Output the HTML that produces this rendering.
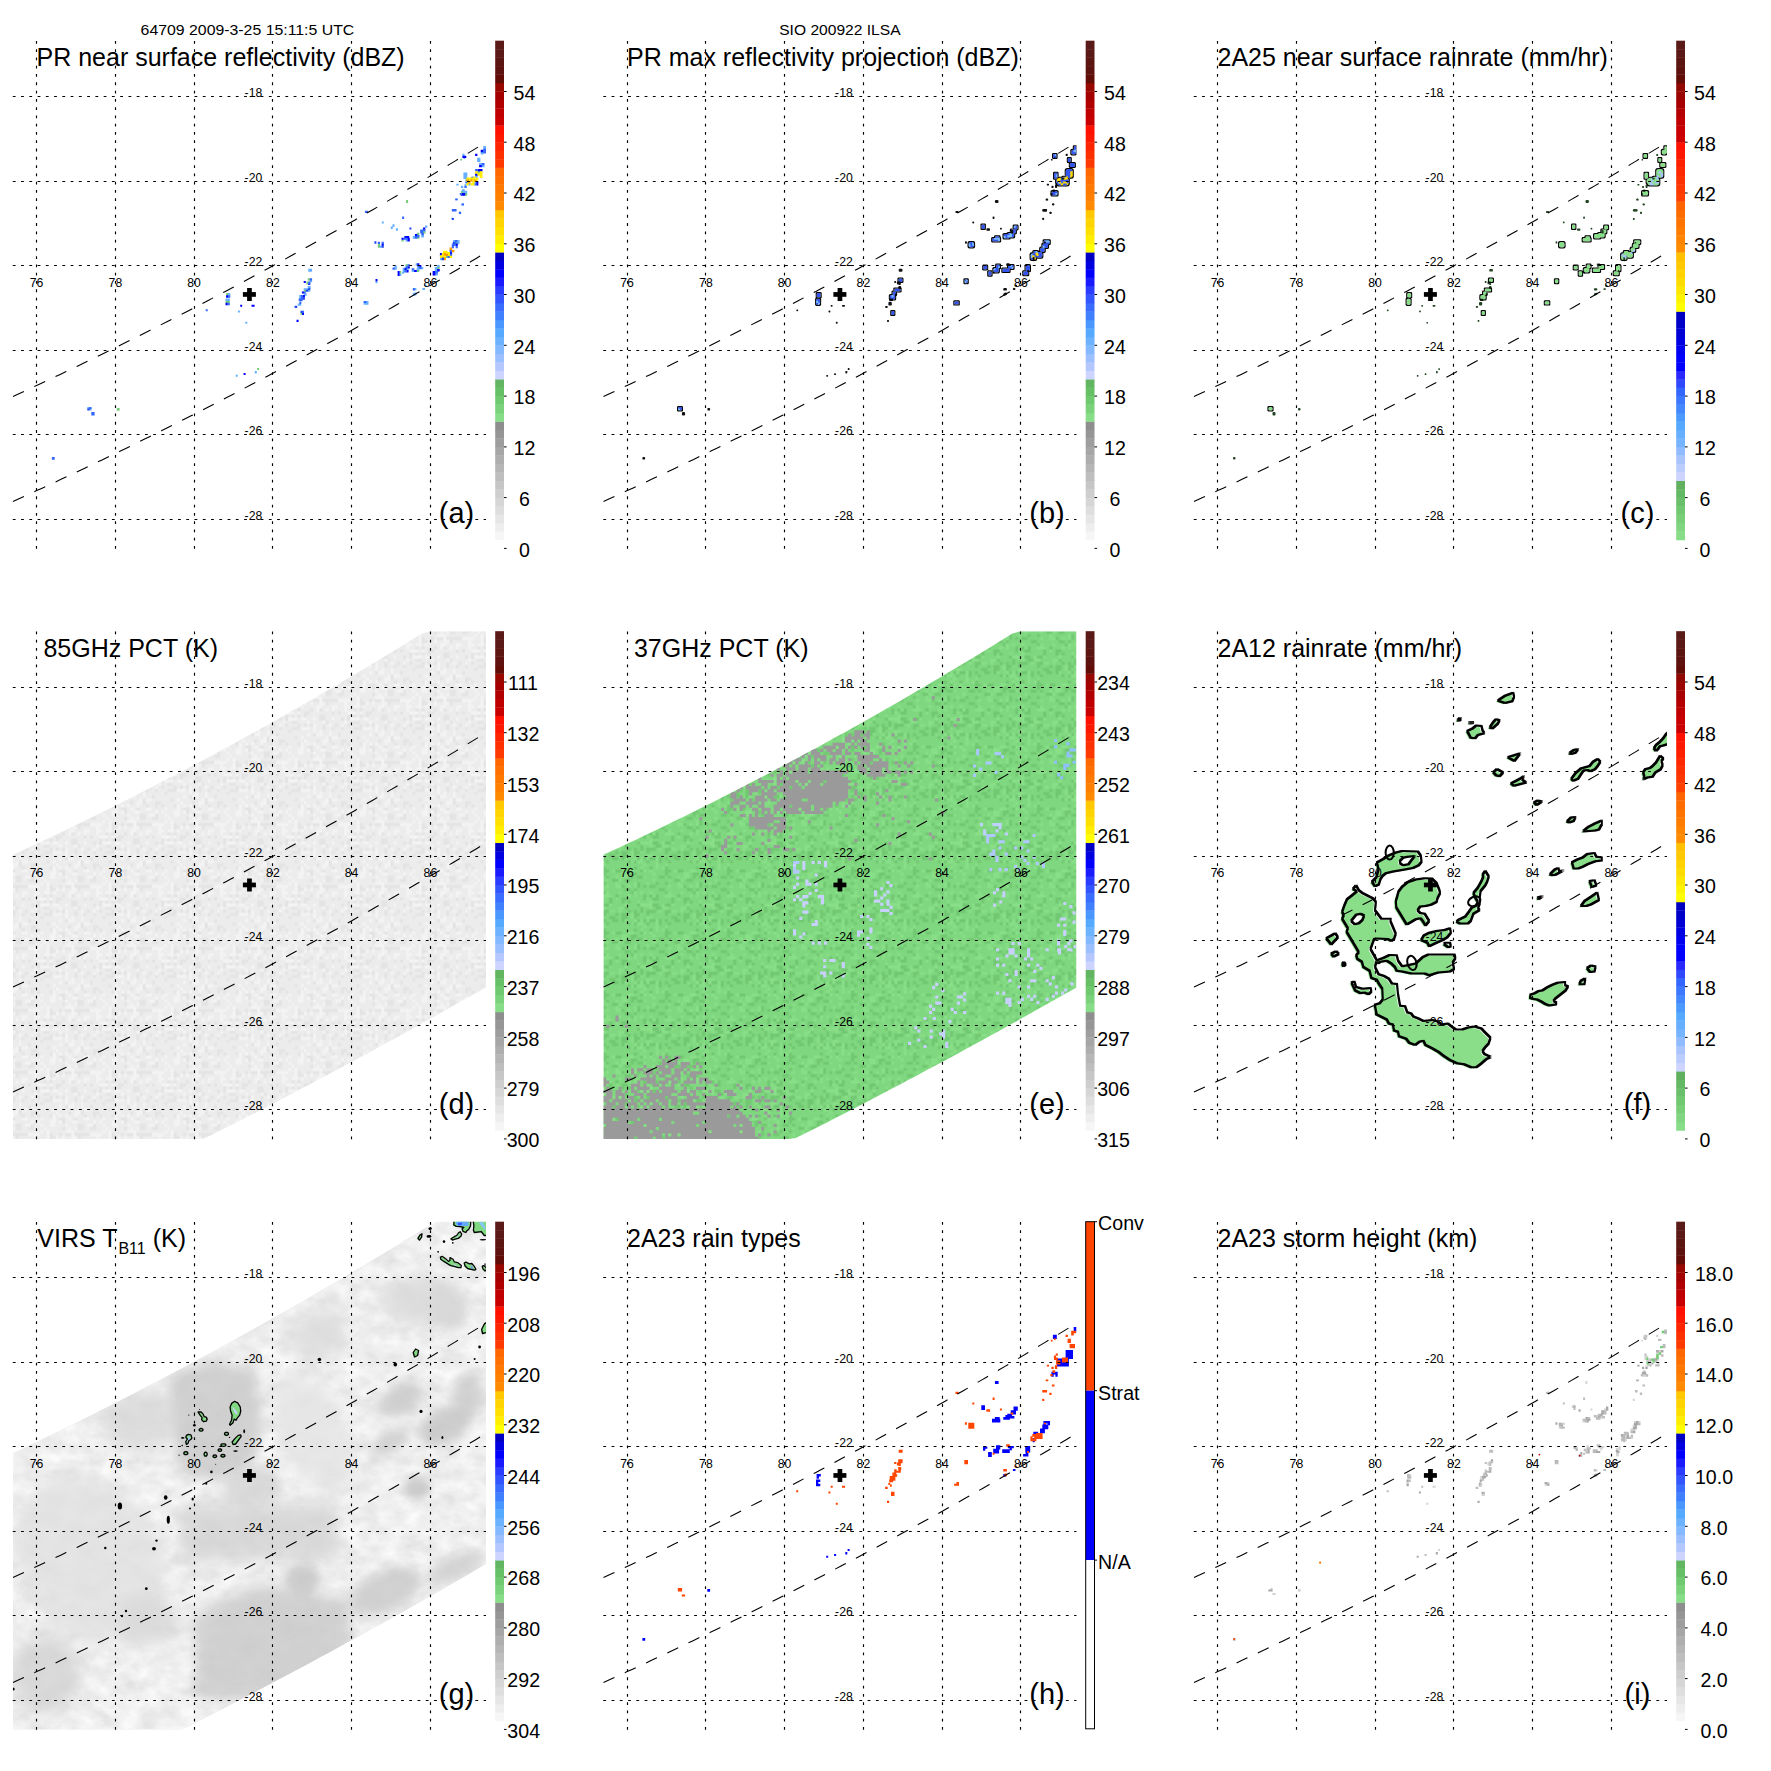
<!DOCTYPE html>
<html><head><meta charset="utf-8"><title>TRMM overpass</title>
<style>html,body{margin:0;padding:0;background:#fff;} svg{display:block;}</style></head>
<body>
<svg width="1771" height="1771" viewBox="0 0 1771 1771" font-family="Liberation Sans, Arial, sans-serif">
<defs><pattern id="ptE" patternUnits="userSpaceOnUse" width="62.0" height="62.0"><rect width="62.0" height="62.0" fill="#7fd87f"/><path d="M18.6,0.0h3.1v3.1h-3.1zM31.0,0.0h3.1v3.1h-3.1zM37.2,0.0h3.1v3.1h-3.1zM46.5,0.0h3.1v3.1h-3.1zM0.0,3.1h3.1v3.1h-3.1zM3.1,3.1h3.1v3.1h-3.1zM9.3,3.1h3.1v3.1h-3.1zM12.4,3.1h3.1v3.1h-3.1zM15.5,3.1h3.1v3.1h-3.1zM18.6,3.1h3.1v3.1h-3.1zM46.5,3.1h3.1v3.1h-3.1zM3.1,6.2h3.1v3.1h-3.1zM6.2,6.2h3.1v3.1h-3.1zM9.3,6.2h3.1v3.1h-3.1zM31.0,6.2h3.1v3.1h-3.1zM34.1,6.2h3.1v3.1h-3.1zM49.6,6.2h3.1v3.1h-3.1zM58.9,6.2h3.1v3.1h-3.1zM0.0,9.3h3.1v3.1h-3.1zM12.4,9.3h3.1v3.1h-3.1zM15.5,9.3h3.1v3.1h-3.1zM18.6,9.3h3.1v3.1h-3.1zM21.7,9.3h3.1v3.1h-3.1zM27.9,9.3h3.1v3.1h-3.1zM37.2,9.3h3.1v3.1h-3.1zM43.4,9.3h3.1v3.1h-3.1zM49.6,9.3h3.1v3.1h-3.1zM55.8,9.3h3.1v3.1h-3.1zM58.9,9.3h3.1v3.1h-3.1zM12.4,12.4h3.1v3.1h-3.1zM24.8,12.4h3.1v3.1h-3.1zM31.0,12.4h3.1v3.1h-3.1zM34.1,12.4h3.1v3.1h-3.1zM43.4,12.4h3.1v3.1h-3.1zM46.5,12.4h3.1v3.1h-3.1zM49.6,12.4h3.1v3.1h-3.1zM55.8,12.4h3.1v3.1h-3.1zM18.6,15.5h3.1v3.1h-3.1zM21.7,15.5h3.1v3.1h-3.1zM31.0,15.5h3.1v3.1h-3.1zM34.1,15.5h3.1v3.1h-3.1zM43.4,15.5h3.1v3.1h-3.1zM58.9,15.5h3.1v3.1h-3.1zM0.0,18.6h3.1v3.1h-3.1zM6.2,18.6h3.1v3.1h-3.1zM12.4,18.6h3.1v3.1h-3.1zM21.7,18.6h3.1v3.1h-3.1zM24.8,18.6h3.1v3.1h-3.1zM31.0,18.6h3.1v3.1h-3.1zM34.1,18.6h3.1v3.1h-3.1zM46.5,18.6h3.1v3.1h-3.1zM52.7,18.6h3.1v3.1h-3.1zM55.8,18.6h3.1v3.1h-3.1zM58.9,18.6h3.1v3.1h-3.1zM3.1,21.7h3.1v3.1h-3.1zM6.2,21.7h3.1v3.1h-3.1zM15.5,21.7h3.1v3.1h-3.1zM37.2,21.7h3.1v3.1h-3.1zM40.3,21.7h3.1v3.1h-3.1zM43.4,21.7h3.1v3.1h-3.1zM55.8,21.7h3.1v3.1h-3.1zM12.4,24.8h3.1v3.1h-3.1zM12.4,27.9h3.1v3.1h-3.1zM43.4,27.9h3.1v3.1h-3.1zM49.6,27.9h3.1v3.1h-3.1zM58.9,27.9h3.1v3.1h-3.1zM12.4,31.0h3.1v3.1h-3.1zM15.5,31.0h3.1v3.1h-3.1zM24.8,31.0h3.1v3.1h-3.1zM27.9,31.0h3.1v3.1h-3.1zM49.6,31.0h3.1v3.1h-3.1zM12.4,34.1h3.1v3.1h-3.1zM31.0,34.1h3.1v3.1h-3.1zM34.1,34.1h3.1v3.1h-3.1zM40.3,34.1h3.1v3.1h-3.1zM43.4,34.1h3.1v3.1h-3.1zM6.2,37.2h3.1v3.1h-3.1zM9.3,37.2h3.1v3.1h-3.1zM15.5,37.2h3.1v3.1h-3.1zM31.0,37.2h3.1v3.1h-3.1zM34.1,37.2h3.1v3.1h-3.1zM40.3,37.2h3.1v3.1h-3.1zM46.5,37.2h3.1v3.1h-3.1zM49.6,37.2h3.1v3.1h-3.1zM52.7,37.2h3.1v3.1h-3.1zM15.5,40.3h3.1v3.1h-3.1zM21.7,40.3h3.1v3.1h-3.1zM24.8,40.3h3.1v3.1h-3.1zM34.1,40.3h3.1v3.1h-3.1zM37.2,40.3h3.1v3.1h-3.1zM3.1,43.4h3.1v3.1h-3.1zM12.4,43.4h3.1v3.1h-3.1zM46.5,43.4h3.1v3.1h-3.1zM0.0,46.5h3.1v3.1h-3.1zM31.0,46.5h3.1v3.1h-3.1zM46.5,46.5h3.1v3.1h-3.1zM52.7,46.5h3.1v3.1h-3.1zM58.9,46.5h3.1v3.1h-3.1zM6.2,49.6h3.1v3.1h-3.1zM9.3,49.6h3.1v3.1h-3.1zM34.1,49.6h3.1v3.1h-3.1zM37.2,49.6h3.1v3.1h-3.1zM43.4,49.6h3.1v3.1h-3.1zM12.4,52.7h3.1v3.1h-3.1zM27.9,52.7h3.1v3.1h-3.1zM40.3,52.7h3.1v3.1h-3.1zM3.1,55.8h3.1v3.1h-3.1zM18.6,55.8h3.1v3.1h-3.1zM24.8,55.8h3.1v3.1h-3.1zM43.4,55.8h3.1v3.1h-3.1zM52.7,55.8h3.1v3.1h-3.1zM58.9,55.8h3.1v3.1h-3.1zM0.0,58.9h3.1v3.1h-3.1zM3.1,58.9h3.1v3.1h-3.1zM18.6,58.9h3.1v3.1h-3.1zM24.8,58.9h3.1v3.1h-3.1zM31.0,58.9h3.1v3.1h-3.1zM34.1,58.9h3.1v3.1h-3.1zM52.7,58.9h3.1v3.1h-3.1zM55.8,58.9h3.1v3.1h-3.1z" fill="#72c872"/><path d="M46.5,0.0h3.1v3.1h-3.1zM58.9,0.0h3.1v3.1h-3.1zM9.3,3.1h3.1v3.1h-3.1zM18.6,3.1h3.1v3.1h-3.1zM34.1,3.1h3.1v3.1h-3.1zM49.6,3.1h3.1v3.1h-3.1zM52.7,3.1h3.1v3.1h-3.1zM55.8,3.1h3.1v3.1h-3.1zM58.9,3.1h3.1v3.1h-3.1zM9.3,6.2h3.1v3.1h-3.1zM12.4,6.2h3.1v3.1h-3.1zM27.9,6.2h3.1v3.1h-3.1zM31.0,6.2h3.1v3.1h-3.1zM58.9,6.2h3.1v3.1h-3.1zM6.2,9.3h3.1v3.1h-3.1zM18.6,9.3h3.1v3.1h-3.1zM21.7,9.3h3.1v3.1h-3.1zM27.9,9.3h3.1v3.1h-3.1zM40.3,12.4h3.1v3.1h-3.1zM49.6,12.4h3.1v3.1h-3.1zM40.3,15.5h3.1v3.1h-3.1zM55.8,15.5h3.1v3.1h-3.1zM58.9,15.5h3.1v3.1h-3.1zM3.1,18.6h3.1v3.1h-3.1zM34.1,18.6h3.1v3.1h-3.1zM43.4,18.6h3.1v3.1h-3.1zM49.6,18.6h3.1v3.1h-3.1zM55.8,18.6h3.1v3.1h-3.1zM3.1,21.7h3.1v3.1h-3.1zM40.3,21.7h3.1v3.1h-3.1zM46.5,21.7h3.1v3.1h-3.1zM49.6,21.7h3.1v3.1h-3.1zM3.1,24.8h3.1v3.1h-3.1zM12.4,24.8h3.1v3.1h-3.1zM52.7,24.8h3.1v3.1h-3.1zM3.1,27.9h3.1v3.1h-3.1zM9.3,27.9h3.1v3.1h-3.1zM49.6,27.9h3.1v3.1h-3.1zM21.7,31.0h3.1v3.1h-3.1zM37.2,31.0h3.1v3.1h-3.1zM40.3,31.0h3.1v3.1h-3.1zM52.7,31.0h3.1v3.1h-3.1zM58.9,31.0h3.1v3.1h-3.1zM0.0,34.1h3.1v3.1h-3.1zM31.0,34.1h3.1v3.1h-3.1zM34.1,34.1h3.1v3.1h-3.1zM24.8,37.2h3.1v3.1h-3.1zM31.0,37.2h3.1v3.1h-3.1zM34.1,37.2h3.1v3.1h-3.1zM52.7,37.2h3.1v3.1h-3.1zM0.0,40.3h3.1v3.1h-3.1zM15.5,40.3h3.1v3.1h-3.1zM27.9,40.3h3.1v3.1h-3.1zM24.8,43.4h3.1v3.1h-3.1zM43.4,43.4h3.1v3.1h-3.1zM55.8,43.4h3.1v3.1h-3.1zM15.5,46.5h3.1v3.1h-3.1zM24.8,46.5h3.1v3.1h-3.1zM27.9,46.5h3.1v3.1h-3.1zM37.2,46.5h3.1v3.1h-3.1zM43.4,46.5h3.1v3.1h-3.1zM15.5,52.7h3.1v3.1h-3.1zM27.9,52.7h3.1v3.1h-3.1zM43.4,52.7h3.1v3.1h-3.1zM49.6,52.7h3.1v3.1h-3.1zM58.9,52.7h3.1v3.1h-3.1zM0.0,55.8h3.1v3.1h-3.1zM12.4,55.8h3.1v3.1h-3.1zM15.5,55.8h3.1v3.1h-3.1zM18.6,55.8h3.1v3.1h-3.1zM37.2,55.8h3.1v3.1h-3.1zM43.4,55.8h3.1v3.1h-3.1zM24.8,58.9h3.1v3.1h-3.1zM55.8,58.9h3.1v3.1h-3.1z" fill="#88df88"/></pattern><pattern id="ptD" patternUnits="userSpaceOnUse" width="62.0" height="62.0"><rect width="62.0" height="62.0" fill="#ececec"/><path d="M9.3,0.0h3.1v3.1h-3.1zM12.4,0.0h3.1v3.1h-3.1zM37.2,0.0h3.1v3.1h-3.1zM43.4,0.0h3.1v3.1h-3.1zM49.6,0.0h3.1v3.1h-3.1zM55.8,0.0h3.1v3.1h-3.1zM9.3,3.1h3.1v3.1h-3.1zM12.4,3.1h3.1v3.1h-3.1zM21.7,3.1h3.1v3.1h-3.1zM31.0,3.1h3.1v3.1h-3.1zM37.2,3.1h3.1v3.1h-3.1zM46.5,3.1h3.1v3.1h-3.1zM52.7,3.1h3.1v3.1h-3.1zM55.8,3.1h3.1v3.1h-3.1zM15.5,6.2h3.1v3.1h-3.1zM43.4,6.2h3.1v3.1h-3.1zM46.5,6.2h3.1v3.1h-3.1zM0.0,9.3h3.1v3.1h-3.1zM12.4,9.3h3.1v3.1h-3.1zM24.8,9.3h3.1v3.1h-3.1zM31.0,9.3h3.1v3.1h-3.1zM37.2,9.3h3.1v3.1h-3.1zM49.6,9.3h3.1v3.1h-3.1zM55.8,9.3h3.1v3.1h-3.1zM12.4,12.4h3.1v3.1h-3.1zM21.7,12.4h3.1v3.1h-3.1zM31.0,12.4h3.1v3.1h-3.1zM43.4,12.4h3.1v3.1h-3.1zM46.5,12.4h3.1v3.1h-3.1zM49.6,12.4h3.1v3.1h-3.1zM3.1,15.5h3.1v3.1h-3.1zM18.6,15.5h3.1v3.1h-3.1zM40.3,15.5h3.1v3.1h-3.1zM3.1,18.6h3.1v3.1h-3.1zM18.6,18.6h3.1v3.1h-3.1zM27.9,18.6h3.1v3.1h-3.1zM18.6,21.7h3.1v3.1h-3.1zM46.5,21.7h3.1v3.1h-3.1zM6.2,24.8h3.1v3.1h-3.1zM18.6,24.8h3.1v3.1h-3.1zM31.0,24.8h3.1v3.1h-3.1zM34.1,24.8h3.1v3.1h-3.1zM55.8,24.8h3.1v3.1h-3.1zM3.1,27.9h3.1v3.1h-3.1zM12.4,27.9h3.1v3.1h-3.1zM21.7,27.9h3.1v3.1h-3.1zM31.0,27.9h3.1v3.1h-3.1zM37.2,27.9h3.1v3.1h-3.1zM49.6,27.9h3.1v3.1h-3.1zM0.0,31.0h3.1v3.1h-3.1zM12.4,31.0h3.1v3.1h-3.1zM58.9,31.0h3.1v3.1h-3.1zM0.0,34.1h3.1v3.1h-3.1zM9.3,34.1h3.1v3.1h-3.1zM37.2,34.1h3.1v3.1h-3.1zM15.5,37.2h3.1v3.1h-3.1zM18.6,37.2h3.1v3.1h-3.1zM31.0,37.2h3.1v3.1h-3.1zM52.7,37.2h3.1v3.1h-3.1zM0.0,40.3h3.1v3.1h-3.1zM6.2,40.3h3.1v3.1h-3.1zM12.4,40.3h3.1v3.1h-3.1zM15.5,40.3h3.1v3.1h-3.1zM18.6,40.3h3.1v3.1h-3.1zM27.9,40.3h3.1v3.1h-3.1zM31.0,40.3h3.1v3.1h-3.1zM43.4,40.3h3.1v3.1h-3.1zM3.1,46.5h3.1v3.1h-3.1zM6.2,46.5h3.1v3.1h-3.1zM9.3,46.5h3.1v3.1h-3.1zM12.4,46.5h3.1v3.1h-3.1zM15.5,46.5h3.1v3.1h-3.1zM18.6,46.5h3.1v3.1h-3.1zM21.7,46.5h3.1v3.1h-3.1zM24.8,46.5h3.1v3.1h-3.1zM46.5,46.5h3.1v3.1h-3.1zM49.6,46.5h3.1v3.1h-3.1zM58.9,46.5h3.1v3.1h-3.1zM12.4,49.6h3.1v3.1h-3.1zM15.5,49.6h3.1v3.1h-3.1zM49.6,49.6h3.1v3.1h-3.1zM52.7,49.6h3.1v3.1h-3.1zM21.7,52.7h3.1v3.1h-3.1zM34.1,52.7h3.1v3.1h-3.1zM43.4,52.7h3.1v3.1h-3.1zM0.0,55.8h3.1v3.1h-3.1zM9.3,55.8h3.1v3.1h-3.1zM43.4,55.8h3.1v3.1h-3.1zM49.6,55.8h3.1v3.1h-3.1zM21.7,58.9h3.1v3.1h-3.1zM27.9,58.9h3.1v3.1h-3.1zM43.4,58.9h3.1v3.1h-3.1zM55.8,58.9h3.1v3.1h-3.1zM58.9,58.9h3.1v3.1h-3.1z" fill="#e4e4e4"/><path d="M3.1,3.1h3.1v3.1h-3.1zM21.7,3.1h3.1v3.1h-3.1zM40.3,3.1h3.1v3.1h-3.1zM43.4,3.1h3.1v3.1h-3.1zM46.5,3.1h3.1v3.1h-3.1zM52.7,3.1h3.1v3.1h-3.1zM55.8,3.1h3.1v3.1h-3.1zM12.4,6.2h3.1v3.1h-3.1zM34.1,6.2h3.1v3.1h-3.1zM58.9,6.2h3.1v3.1h-3.1zM3.1,9.3h3.1v3.1h-3.1zM18.6,9.3h3.1v3.1h-3.1zM31.0,9.3h3.1v3.1h-3.1zM3.1,12.4h3.1v3.1h-3.1zM52.7,12.4h3.1v3.1h-3.1zM55.8,12.4h3.1v3.1h-3.1zM58.9,12.4h3.1v3.1h-3.1zM3.1,15.5h3.1v3.1h-3.1zM9.3,15.5h3.1v3.1h-3.1zM18.6,15.5h3.1v3.1h-3.1zM6.2,18.6h3.1v3.1h-3.1zM9.3,18.6h3.1v3.1h-3.1zM18.6,18.6h3.1v3.1h-3.1zM58.9,18.6h3.1v3.1h-3.1zM15.5,21.7h3.1v3.1h-3.1zM21.7,21.7h3.1v3.1h-3.1zM24.8,21.7h3.1v3.1h-3.1zM52.7,21.7h3.1v3.1h-3.1zM12.4,24.8h3.1v3.1h-3.1zM15.5,24.8h3.1v3.1h-3.1zM55.8,24.8h3.1v3.1h-3.1zM3.1,27.9h3.1v3.1h-3.1zM12.4,27.9h3.1v3.1h-3.1zM52.7,27.9h3.1v3.1h-3.1zM58.9,27.9h3.1v3.1h-3.1zM6.2,31.0h3.1v3.1h-3.1zM21.7,31.0h3.1v3.1h-3.1zM24.8,31.0h3.1v3.1h-3.1zM40.3,31.0h3.1v3.1h-3.1zM52.7,31.0h3.1v3.1h-3.1zM9.3,34.1h3.1v3.1h-3.1zM12.4,34.1h3.1v3.1h-3.1zM31.0,34.1h3.1v3.1h-3.1zM37.2,34.1h3.1v3.1h-3.1zM49.6,34.1h3.1v3.1h-3.1zM52.7,34.1h3.1v3.1h-3.1zM58.9,34.1h3.1v3.1h-3.1zM3.1,37.2h3.1v3.1h-3.1zM24.8,37.2h3.1v3.1h-3.1zM27.9,37.2h3.1v3.1h-3.1zM40.3,37.2h3.1v3.1h-3.1zM49.6,37.2h3.1v3.1h-3.1zM52.7,37.2h3.1v3.1h-3.1zM6.2,40.3h3.1v3.1h-3.1zM12.4,40.3h3.1v3.1h-3.1zM43.4,40.3h3.1v3.1h-3.1zM3.1,43.4h3.1v3.1h-3.1zM6.2,43.4h3.1v3.1h-3.1zM9.3,43.4h3.1v3.1h-3.1zM40.3,43.4h3.1v3.1h-3.1zM46.5,43.4h3.1v3.1h-3.1zM9.3,46.5h3.1v3.1h-3.1zM27.9,46.5h3.1v3.1h-3.1zM31.0,46.5h3.1v3.1h-3.1zM34.1,46.5h3.1v3.1h-3.1zM37.2,46.5h3.1v3.1h-3.1zM46.5,46.5h3.1v3.1h-3.1zM0.0,49.6h3.1v3.1h-3.1zM9.3,49.6h3.1v3.1h-3.1zM12.4,49.6h3.1v3.1h-3.1zM34.1,49.6h3.1v3.1h-3.1zM46.5,49.6h3.1v3.1h-3.1zM55.8,49.6h3.1v3.1h-3.1zM6.2,52.7h3.1v3.1h-3.1zM9.3,52.7h3.1v3.1h-3.1zM21.7,52.7h3.1v3.1h-3.1zM24.8,52.7h3.1v3.1h-3.1zM34.1,52.7h3.1v3.1h-3.1zM37.2,52.7h3.1v3.1h-3.1zM43.4,52.7h3.1v3.1h-3.1zM46.5,52.7h3.1v3.1h-3.1zM52.7,52.7h3.1v3.1h-3.1zM6.2,55.8h3.1v3.1h-3.1zM15.5,55.8h3.1v3.1h-3.1zM21.7,55.8h3.1v3.1h-3.1zM34.1,55.8h3.1v3.1h-3.1zM37.2,58.9h3.1v3.1h-3.1zM40.3,58.9h3.1v3.1h-3.1zM43.4,58.9h3.1v3.1h-3.1zM49.6,58.9h3.1v3.1h-3.1z" fill="#f3f3f3"/></pattern><filter id="bl4" x="-50%" y="-50%" width="200%" height="200%"><feGaussianBlur stdDeviation="4"/></filter><filter id="bl6" x="-50%" y="-50%" width="200%" height="200%"><feGaussianBlur stdDeviation="6"/></filter><filter id="bl8" x="-50%" y="-50%" width="200%" height="200%"><feGaussianBlur stdDeviation="8"/></filter><filter id="vn" x="0" y="0" width="100%" height="100%" filterUnits="userSpaceOnUse"><feTurbulence type="fractalNoise" baseFrequency="0.05 0.07" numOctaves="5" seed="7" result="t"/><feColorMatrix in="t" type="matrix" values="0.3 0 0 0 0.715  0.3 0 0 0 0.715  0.3 0 0 0 0.715  0 0 0 0 1"/></filter><filter id="ol" x="-10%" y="-10%" width="120%" height="120%"><feMorphology in="SourceAlpha" operator="erode" radius="0.55" result="e"/><feMorphology in="SourceAlpha" operator="dilate" radius="0.5" result="d"/><feComposite in="d" in2="e" operator="out" result="ring"/><feFlood flood-color="#000"/><feComposite in2="ring" operator="in"/></filter><filter id="ol2" x="-50%" y="-50%" width="200%" height="200%"><feMorphology in="SourceAlpha" operator="dilate" radius="1.1" result="d"/><feComposite in="d" in2="SourceAlpha" operator="out" result="ring"/><feFlood flood-color="#000"/><feComposite in2="ring" operator="in"/></filter><clipPath id="clipTMI"><polygon points="12.9,264.3 20.9,260.6 28.9,256.9 37.0,253.1 45.0,249.4 53.0,245.6 61.0,241.7 69.0,237.9 77.0,234.0 85.1,230.1 93.1,226.2 101.1,222.2 109.1,218.2 117.1,214.2 125.2,210.2 133.2,206.1 141.2,202.0 149.2,197.9 157.2,193.8 165.3,189.6 173.3,185.4 181.3,181.2 189.3,177.0 197.3,172.7 205.3,168.4 213.4,164.1 221.4,159.8 229.4,155.4 237.4,151.0 245.4,146.6 253.5,142.2 261.5,137.7 269.5,133.2 277.5,128.7 285.5,124.2 293.6,119.6 301.6,115.0 309.6,110.4 317.6,105.7 325.6,101.1 333.6,96.4 341.7,91.6 349.7,86.9 357.7,82.1 365.7,77.3 373.7,72.5 381.8,67.7 389.8,62.8 397.8,57.9 405.8,53.0 413.8,48.0 421.9,43.0 429.9,40.8 437.9,40.8 445.9,40.8 453.9,40.8 461.9,40.8 470.0,40.8 478.0,40.8 486.0,40.8 486.0,396.9 478.0,401.5 470.0,406.0 461.9,410.6 453.9,415.1 445.9,419.6 437.9,424.1 429.9,428.6 421.9,433.0 413.8,437.5 405.8,441.9 397.8,446.3 389.8,450.7 381.8,455.1 373.7,459.5 365.7,463.9 357.7,468.2 349.7,472.5 341.7,476.8 333.6,481.1 325.6,485.4 317.6,489.6 309.6,493.9 301.6,498.1 293.6,502.3 285.5,506.5 277.5,510.7 269.5,514.9 261.5,519.0 253.5,523.2 245.4,527.3 237.4,531.4 229.4,535.5 221.4,539.5 213.4,543.6 205.3,547.6 197.3,548.6 189.3,548.6 181.3,548.6 173.3,548.6 165.3,548.6 157.2,548.6 149.2,548.6 141.2,548.6 133.2,548.6 125.2,548.6 117.1,548.6 109.1,548.6 101.1,548.6 93.1,548.6 85.1,548.6 77.0,548.6 69.0,548.6 61.0,548.6 53.0,548.6 45.0,548.6 37.0,548.6 28.9,548.6 20.9,548.6 12.9,548.6"/></clipPath><clipPath id="clipVIRS"><polygon points="12.9,272.5 20.9,268.7 28.9,264.8 37.0,261.0 45.0,257.1 53.0,253.2 61.0,249.3 69.0,245.3 77.0,241.4 85.1,237.4 93.1,233.4 101.1,229.3 109.1,225.3 117.1,221.2 125.2,217.1 133.2,212.9 141.2,208.8 149.2,204.6 157.2,200.4 165.3,196.2 173.3,192.0 181.3,187.7 189.3,183.4 197.3,179.1 205.3,174.8 213.4,170.4 221.4,166.1 229.4,161.7 237.4,157.2 245.4,152.8 253.5,148.3 261.5,143.8 269.5,139.3 277.5,134.8 285.5,130.2 293.6,125.6 301.6,121.0 309.6,116.4 317.6,111.8 325.6,107.1 333.6,102.4 341.7,97.7 349.7,92.9 357.7,88.2 365.7,83.4 373.7,78.6 381.8,73.8 389.8,68.9 397.8,64.0 405.8,59.1 413.8,54.2 421.9,49.3 429.9,44.3 437.9,40.8 445.9,40.8 453.9,40.8 461.9,40.8 470.0,40.8 478.0,40.8 486.0,40.8 486.0,382.9 478.0,387.6 470.0,392.2 461.9,396.9 453.9,401.5 445.9,406.1 437.9,410.7 429.9,415.3 421.9,419.8 413.8,424.4 405.8,428.9 397.8,433.4 389.8,437.9 381.8,442.4 373.7,446.8 365.7,451.3 357.7,455.7 349.7,460.1 341.7,464.5 333.6,468.9 325.6,473.2 317.6,477.5 309.6,481.9 301.6,486.2 293.6,490.5 285.5,494.8 277.5,499.0 269.5,503.3 261.5,507.5 253.5,511.7 245.4,515.9 237.4,520.1 229.4,524.2 221.4,528.4 213.4,532.5 205.3,536.6 197.3,540.7 189.3,544.8 181.3,548.6 173.3,548.6 165.3,548.6 157.2,548.6 149.2,548.6 141.2,548.6 133.2,548.6 125.2,548.6 117.1,548.6 109.1,548.6 101.1,548.6 93.1,548.6 85.1,548.6 77.0,548.6 69.0,548.6 61.0,548.6 53.0,548.6 45.0,548.6 37.0,548.6 28.9,548.6 20.9,548.6 12.9,548.6"/></clipPath><clipPath id="mapclip"><rect x="12.9" y="40.8" width="473.1" height="507.8"/></clipPath></defs>
<rect width="1771" height="1771" fill="#fff"/>
<text transform="translate(140.6,35.0) scale(1,0.91)" font-size="15.85">64709 2009-3-25 15:11:5 UTC</text><text transform="translate(779.2,35.0) scale(1,0.91)" font-size="15.6">SIO 200922 ILSA</text>
<g transform="translate(0,0)">
<g clip-path="url(#mapclip)">

<path d="M406.1,200.0h2.0v3.1h-2.0zM401.5,239.5h2.3v2.0h-2.3zM417.0,236.1h2.4v2.6h-2.4zM416.8,232.7h2.6v2.6h-2.6zM422.7,231.3h2.8v2.3h-2.8zM455.0,242.0h2.4v2.3h-2.4zM399.3,271.1h2.0v2.6h-2.0zM405.5,264.3h2.3v2.3h-2.3zM416.6,270.0h2.7v2.0h-2.7zM437.1,267.0h2.6v2.4h-2.6zM377.8,243.6h2.2v2.2h-2.2zM377.8,245.5h2.2v2.2h-2.2zM445.6,255.7h2.4v2.2h-2.4zM459.1,211.8h2.0v2.0h-2.0zM477.5,171.2h2.7v2.5h-2.7zM460.9,190.8h2.3v2.6h-2.3zM464.9,193.1h2.3v2.6h-2.3zM483.0,149.7h2.6v2.6h-2.6zM465.4,179.2h2.3v2.3h-2.3zM460.3,158.8h1.8v1.8h-1.8zM307.7,278.3h2.3v2.1h-2.3zM306.4,281.4h2.1v3.0h-2.1zM303.7,289.8h2.4v1.9h-2.4zM300.5,312.8h1.9v2.3h-1.9zM226.1,293.0h2.3v2.6h-2.3zM225.5,300.7h2.3v2.4h-2.3zM227.5,300.7h2.3v2.4h-2.3zM257.1,368.1h2.0v2.0h-2.0zM116.8,407.9h2.8v2.8h-2.8z" fill="#77cc77"/><path d="M392.5,224.3h2.0v2.6h-2.0zM390.8,226.5h2.0v2.6h-2.0zM405.5,239.5h2.3v2.0h-2.3zM406.6,237.8h2.6v2.0h-2.6zM412.8,236.1h2.4v2.6h-2.4zM421.3,235.0h2.6v2.6h-2.6zM420.2,229.3h2.8v2.3h-2.8zM425.0,225.4h2.3v2.3h-2.3zM452.9,240.1h2.4v2.3h-2.4zM457.1,240.1h2.4v2.3h-2.4zM457.1,242.0h2.4v2.3h-2.4zM394.5,265.5h2.3v2.3h-2.3zM394.5,267.5h2.3v2.3h-2.3zM399.3,273.4h2.0v2.6h-2.0zM402.7,267.7h2.2v2.6h-2.2zM406.4,267.7h2.2v2.6h-2.2zM402.7,270.0h2.2v2.6h-2.2zM416.6,268.3h2.7v2.0h-2.7zM411.7,270.0h2.7v2.0h-2.7zM417.3,266.9h2.2v2.3h-2.2zM421.1,266.9h2.2v2.3h-2.2zM435.1,273.1h2.8v2.3h-2.8zM437.1,264.9h2.6v2.4h-2.6zM434.8,267.0h2.6v2.4h-2.6zM434.8,269.1h2.6v2.4h-2.6zM379.7,245.5h2.2v2.2h-2.2zM381.8,221.4h2.0v2.0h-2.0zM395.9,228.2h2.0v2.6h-2.0zM439.9,257.6h2.2v2.6h-2.2zM415.7,263.2h2.0v2.6h-2.0zM455.2,198.8h2.6v1.4h-2.6zM402.1,271.7h2.0v2.0h-2.0zM436.5,270.0h2.0v2.0h-2.0zM462.4,153.7h2.1v2.3h-2.1zM483.2,146.1h2.8v2.7h-2.8zM475.1,175.5h2.7v2.5h-2.7zM474.2,181.4h2.2v2.2h-2.2zM468.4,183.3h2.2v2.2h-2.2zM462.9,190.8h2.3v2.6h-2.3zM464.9,190.8h2.3v2.6h-2.3zM480.7,152.0h2.6v2.6h-2.6zM477.1,157.8h3.3v2.3h-3.3zM477.1,159.8h3.3v2.3h-3.3zM479.1,162.9h2.8v2.3h-2.8zM481.7,164.9h2.8v2.3h-2.8zM463.4,172.5h2.1v2.3h-2.1zM465.2,172.5h2.1v2.3h-2.1zM463.4,174.6h2.1v2.3h-2.1zM465.2,174.6h2.1v2.3h-2.1zM463.4,176.6h2.1v2.3h-2.1zM465.2,176.6h2.1v2.3h-2.1zM471.5,176.6h2.2v2.6h-2.2zM456.3,183.7h2.3v1.8h-2.3zM460.9,185.8h2.3v2.3h-2.3zM464.4,184.2h2.3v2.1h-2.3zM461.9,189.3h2.8v2.8h-2.8zM461.9,203.5h1.8v1.8h-1.8zM463.4,157.3h1.8v1.8h-1.8zM308.2,268.8h2.1v3.0h-2.1zM310.0,268.8h2.1v3.0h-2.1zM309.8,280.1h2.3v2.1h-2.3zM307.7,286.0h3.0v3.0h-3.0zM303.7,288.2h2.4v1.9h-2.4zM305.8,288.2h2.4v1.9h-2.4zM307.9,289.8h2.4v1.9h-2.4zM303.7,293.2h2.1v2.1h-2.1zM304.6,293.2h2.1v2.6h-2.1zM299.2,295.0h2.1v2.6h-2.1zM299.2,297.2h2.1v2.6h-2.1zM297.8,303.6h1.9v2.1h-1.9zM299.4,303.6h1.9v2.1h-1.9zM228.0,293.0h2.3v2.6h-2.3zM225.5,298.6h2.3v2.4h-2.3zM227.5,298.6h2.3v2.4h-2.3zM235.7,374.8h2.0v2.0h-2.0zM254.8,370.9h2.0v2.6h-2.0zM237.9,310.5h2.0v2.0h-2.0zM245.3,321.8h2.0v2.0h-2.0zM375.5,281.0h2.0v2.3h-2.0zM365.9,301.0h2.6v2.0h-2.6zM363.6,302.7h2.6v2.0h-2.6zM365.9,302.7h2.6v2.0h-2.6zM414.4,288.0h2.0v2.6h-2.0zM413.9,292.6h2.6v2.6h-2.6zM424.0,284.7h2.6v1.4h-2.6zM412.8,293.1h2.6v2.6h-2.6zM422.4,288.0h2.6v2.0h-2.6zM87.3,406.9h2.3v2.0h-2.3zM89.3,408.6h2.3v2.0h-2.3z" fill="#66b0ff"/><path d="M401.5,237.8h2.3v2.0h-2.3zM407.5,237.8h2.3v2.0h-2.3zM407.5,239.5h2.3v2.0h-2.3zM404.4,236.1h2.6v2.0h-2.6zM406.6,236.1h2.6v2.0h-2.6zM414.9,233.9h2.4v2.6h-2.4zM423.0,227.4h2.3v2.3h-2.3zM455.6,243.5h2.2v2.6h-2.2zM452.9,242.0h2.4v2.3h-2.4zM397.6,271.1h2.0v2.6h-2.0zM397.6,273.4h2.0v2.6h-2.0zM404.5,267.7h2.2v2.6h-2.2zM406.4,270.0h2.2v2.6h-2.2zM407.5,266.3h2.3v2.3h-2.3zM414.1,270.0h2.7v2.0h-2.7zM419.2,264.9h2.2v2.3h-2.2zM432.6,271.1h2.8v2.3h-2.8zM432.6,273.1h2.8v2.3h-2.8zM437.1,269.1h2.6v2.4h-2.6zM381.6,243.6h2.2v2.2h-2.2zM439.9,253.1h2.2v2.6h-2.2zM449.7,251.9h2.4v2.2h-2.4zM417.3,263.2h2.0v2.6h-2.0zM462.4,155.8h2.1v2.3h-2.1zM464.2,155.8h2.1v2.3h-2.1zM477.5,169.0h2.7v2.5h-2.7zM479.8,169.0h2.7v2.5h-2.7zM475.1,173.3h2.7v2.5h-2.7zM476.2,181.4h2.2v2.2h-2.2zM476.2,183.3h2.2v2.2h-2.2zM460.9,193.1h2.3v2.6h-2.3zM462.9,193.1h2.3v2.6h-2.3zM471.0,177.6h2.8v1.8h-2.8zM480.7,149.7h2.6v2.6h-2.6zM475.1,153.7h2.3v2.3h-2.3zM479.1,164.9h2.8v2.3h-2.8zM467.5,179.2h2.3v2.3h-2.3zM303.7,281.0h2.1v2.1h-2.1zM308.2,283.2h2.1v1.7h-2.1zM301.9,291.4h2.1v2.1h-2.1zM302.8,295.0h2.1v2.6h-2.1zM302.1,312.8h1.9v2.3h-1.9zM296.5,319.8h2.1v2.1h-2.1zM226.1,295.2h2.3v2.6h-2.3zM225.5,302.8h2.3v2.4h-2.3zM243.6,373.1h2.0v2.0h-2.0zM240.2,304.8h2.0v2.0h-2.0zM251.5,304.8h3.1v2.0h-3.1zM375.5,279.0h2.0v2.3h-2.0z" fill="#0000ff"/><path d="M403.5,237.8h2.3v2.0h-2.3zM404.4,237.8h2.6v2.0h-2.6zM414.9,236.1h2.4v2.6h-2.4zM421.3,232.7h2.6v2.6h-2.6zM416.8,235.0h2.6v2.6h-2.6zM422.7,229.3h2.8v2.3h-2.8zM420.2,231.3h2.8v2.3h-2.8zM449.5,249.7h2.6v2.6h-2.6zM451.8,243.5h2.2v2.6h-2.2zM453.7,243.5h2.2v2.6h-2.2zM451.8,245.7h2.2v2.6h-2.2zM455.6,245.7h2.2v2.6h-2.2zM455.0,240.1h2.4v2.3h-2.4zM392.5,267.5h2.3v2.3h-2.3zM404.5,270.0h2.2v2.6h-2.2zM407.5,264.3h2.3v2.3h-2.3zM405.5,266.3h2.3v2.3h-2.3zM411.7,268.3h2.7v2.0h-2.7zM417.3,264.9h2.2v2.3h-2.2zM419.2,266.9h2.2v2.3h-2.2zM435.1,271.1h2.8v2.3h-2.8zM377.8,241.8h2.2v2.2h-2.2zM381.6,241.8h2.2v2.2h-2.2zM402.1,216.4h2.0v2.6h-2.0zM449.7,253.8h2.4v2.2h-2.4zM447.6,255.7h2.4v2.2h-2.4zM451.8,209.0h2.6v2.6h-2.6zM454.0,209.0h2.6v2.6h-2.6zM461.4,203.4h2.6v2.0h-2.6zM420.2,229.9h2.6v2.0h-2.6zM453.5,241.8h2.0v1.4h-2.0zM483.2,148.5h2.8v2.7h-2.8zM483.2,150.9h2.8v2.7h-2.8zM475.1,169.0h2.7v2.5h-2.7zM466.4,181.4h2.2v2.2h-2.2zM474.2,183.3h2.2v2.2h-2.2zM481.7,162.9h2.8v2.3h-2.8zM465.4,181.2h2.3v2.3h-2.3zM464.4,186.0h2.3v2.1h-2.3zM459.8,192.9h2.3v2.3h-2.3zM455.3,198.5h2.3v1.8h-2.3zM452.2,209.1h2.3v2.3h-2.3zM454.2,209.1h2.3v2.3h-2.3zM458.8,211.7h2.3v2.3h-2.3zM451.7,217.8h1.8v1.4h-1.8zM309.8,278.3h2.3v2.1h-2.3zM308.2,281.4h2.1v3.0h-2.1zM303.7,291.4h2.1v2.1h-2.1zM301.0,295.0h2.1v2.6h-2.1zM301.0,297.2h2.1v2.6h-2.1zM298.7,298.6h2.1v2.6h-2.1zM300.5,298.6h2.1v2.6h-2.1zM299.4,301.8h1.9v2.1h-1.9zM302.1,310.8h1.9v2.3h-1.9zM228.0,295.2h2.3v2.6h-2.3zM227.5,302.8h2.3v2.4h-2.3zM205.7,309.3h2.0v2.0h-2.0zM363.6,301.0h2.6v2.0h-2.6zM412.8,288.0h2.0v2.6h-2.0zM89.3,406.9h2.3v2.0h-2.3zM91.3,411.9h3.3v2.0h-3.3zM91.3,413.6h3.3v2.0h-3.3zM51.9,456.9h2.8v2.8h-2.8zM364.9,210.8h3.3v2.3h-3.3z" fill="#3366ff"/><path d="M442.2,257.0h2.0v2.3h-2.0zM442.8,250.8h2.6v2.3h-2.6zM445.0,250.8h2.6v2.3h-2.6zM442.8,252.8h2.6v2.3h-2.6zM445.0,252.8h2.6v2.3h-2.6zM441.8,253.1h2.2v2.6h-2.2zM439.9,255.3h2.2v2.6h-2.2zM441.8,255.3h2.2v2.6h-2.2zM443.7,255.3h2.2v2.6h-2.2zM445.6,251.9h2.4v2.2h-2.4zM447.6,251.9h2.4v2.2h-2.4zM447.6,253.8h2.4v2.2h-2.4zM449.7,255.7h2.4v2.2h-2.4zM475.1,171.2h2.7v2.5h-2.7zM479.8,171.2h2.7v2.5h-2.7zM477.5,173.3h2.7v2.5h-2.7zM479.8,173.3h2.7v2.5h-2.7zM479.8,175.5h2.7v2.5h-2.7zM466.4,177.6h2.2v2.2h-2.2zM468.4,177.6h2.2v2.2h-2.2zM470.3,177.6h2.2v2.2h-2.2zM472.3,177.6h2.2v2.2h-2.2zM476.2,177.6h2.2v2.2h-2.2zM468.4,179.5h2.2v2.2h-2.2zM472.3,179.5h2.2v2.2h-2.2zM472.3,181.4h2.2v2.2h-2.2zM466.4,183.3h2.2v2.2h-2.2zM470.3,183.3h2.2v2.2h-2.2zM472.3,183.3h2.2v2.2h-2.2zM473.4,176.6h2.2v2.6h-2.2zM473.4,178.9h2.2v2.6h-2.2zM475.3,178.9h2.2v2.6h-2.2zM467.5,181.2h2.3v2.3h-2.3z" fill="#ffee00"/><path d="M449.5,247.4h2.6v2.6h-2.6zM451.8,249.7h2.6v2.6h-2.6zM443.7,253.1h2.2v2.6h-2.2zM443.7,257.6h2.2v2.6h-2.2zM445.6,253.8h2.4v2.2h-2.4zM466.4,179.5h2.2v2.2h-2.2zM470.3,179.5h2.2v2.2h-2.2zM474.2,179.5h2.2v2.2h-2.2zM468.4,181.4h2.2v2.2h-2.2z" fill="#ff9900"/><path d="M381.6,245.5h2.2v2.2h-2.2zM374.4,241.2h2.0v2.6h-2.0zM409.4,227.6h2.0v2.0h-2.0zM441.8,257.6h2.2v2.6h-2.2zM451.8,218.0h2.0v2.0h-2.0zM307.9,288.2h2.4v1.9h-2.4zM305.8,289.8h2.4v1.9h-2.4zM302.8,297.2h2.1v2.6h-2.1zM294.6,305.8h2.6v2.1h-2.6zM300.5,310.8h1.9v2.3h-1.9zM87.3,408.6h2.3v2.0h-2.3z" fill="#2244ee"/>
</g>
<line x1="36.50" y1="40.95" x2="36.50" y2="549.0" stroke="#000" stroke-width="1.15" stroke-dasharray="2.8 5.48" fill="none"/>
<line x1="115.50" y1="40.95" x2="115.50" y2="549.0" stroke="#000" stroke-width="1.15" stroke-dasharray="2.8 5.48" fill="none"/>
<line x1="194.50" y1="40.95" x2="194.50" y2="549.0" stroke="#000" stroke-width="1.15" stroke-dasharray="2.8 5.48" fill="none"/>
<line x1="272.50" y1="40.95" x2="272.50" y2="549.0" stroke="#000" stroke-width="1.15" stroke-dasharray="2.8 5.48" fill="none"/>
<line x1="351.50" y1="40.95" x2="351.50" y2="549.0" stroke="#000" stroke-width="1.15" stroke-dasharray="2.8 5.48" fill="none"/>
<line x1="430.50" y1="40.95" x2="430.50" y2="549.0" stroke="#000" stroke-width="1.15" stroke-dasharray="2.8 5.48" fill="none"/>
<line x1="12.8" y1="96.50" x2="486.0" y2="96.50" stroke="#000" stroke-width="1.15" stroke-dasharray="2.8 5.46" fill="none"/>
<line x1="12.8" y1="181.50" x2="486.0" y2="181.50" stroke="#000" stroke-width="1.15" stroke-dasharray="2.8 5.46" fill="none"/>
<line x1="12.8" y1="265.50" x2="486.0" y2="265.50" stroke="#000" stroke-width="1.15" stroke-dasharray="2.8 5.46" fill="none"/>
<line x1="12.8" y1="350.50" x2="486.0" y2="350.50" stroke="#000" stroke-width="1.15" stroke-dasharray="2.8 5.46" fill="none"/>
<line x1="12.8" y1="434.50" x2="486.0" y2="434.50" stroke="#000" stroke-width="1.15" stroke-dasharray="2.8 5.46" fill="none"/>
<line x1="12.8" y1="519.50" x2="486.0" y2="519.50" stroke="#000" stroke-width="1.15" stroke-dasharray="2.8 5.46" fill="none"/>
<polyline points="13.0,396.4 18.9,393.7 24.8,391.0 30.7,388.2 36.6,385.5 42.5,382.7 48.4,379.9 54.3,377.2 60.2,374.4 66.1,371.5 72.0,368.7 77.9,365.9 83.8,363.1 89.7,360.2 95.6,357.3 101.5,354.5 107.4,351.6 113.3,348.7 119.2,345.7 125.1,342.8 131.0,339.9 136.9,336.9 142.8,334.0 148.7,331.0 154.6,328.0 160.5,325.0 166.4,322.0 172.3,319.0 178.2,316.0 184.1,313.0 190.0,309.9 195.9,306.8 201.8,303.8 207.7,300.7 213.6,297.6 219.5,294.5 225.4,291.4 231.3,288.2 237.2,285.1 243.1,282.0 248.9,278.8 254.8,275.6 260.7,272.4 266.6,269.2 272.5,266.0 278.4,262.8 284.3,259.6 290.2,256.3 296.1,253.1 302.0,249.8 307.9,246.5 313.8,243.2 319.7,239.9 325.6,236.6 331.5,233.3 337.4,230.0 343.3,226.6 349.2,223.3 355.1,219.9 361.0,216.5 366.9,213.1 372.8,209.7 378.7,206.3 384.6,202.9 390.5,199.4 396.4,196.0 402.3,192.5 408.2,189.1 414.1,185.6 420.0,182.1 425.9,178.6 431.8,175.1 437.7,171.5 443.6,168.0 449.5,164.4 455.4,160.9 461.3,157.3 467.2,153.7 473.1,150.1 479.0,146.5" stroke="#000" stroke-width="1.1" fill="none" stroke-dasharray="12 11.45"/>
<polyline points="13.0,501.5 18.9,498.8 24.9,496.1 30.8,493.3 36.7,490.6 42.7,487.9 48.6,485.1 54.6,482.4 60.5,479.6 66.4,476.8 72.4,474.0 78.3,471.2 84.2,468.4 90.2,465.6 96.1,462.7 102.1,459.9 108.0,457.0 113.9,454.1 119.9,451.3 125.8,448.4 131.7,445.5 137.7,442.5 143.6,439.6 149.5,436.7 155.5,433.7 161.4,430.8 167.4,427.8 173.3,424.8 179.2,421.8 185.2,418.8 191.1,415.8 197.0,412.8 203.0,409.8 208.9,406.7 214.8,403.7 220.8,400.6 226.7,397.5 232.7,394.4 238.6,391.3 244.5,388.2 250.5,385.1 256.4,382.0 262.3,378.8 268.3,375.7 274.2,372.5 280.2,369.3 286.1,366.2 292.0,363.0 298.0,359.8 303.9,356.5 309.8,353.3 315.8,350.1 321.7,346.8 327.6,343.6 333.6,340.3 339.5,337.0 345.5,333.7 351.4,330.4 357.3,327.1 363.3,323.8 369.2,320.4 375.1,317.1 381.1,313.7 387.0,310.3 392.9,307.0 398.9,303.6 404.8,300.2 410.8,296.8 416.7,293.3 422.6,289.9 428.6,286.4 434.5,283.0 440.4,279.5 446.4,276.0 452.3,272.5 458.3,269.0 464.2,265.5 470.1,262.0 476.1,258.5 482.0,254.9" stroke="#000" stroke-width="1.1" fill="none" stroke-dasharray="12 11.45"/>
<text x="36.6" y="286.7" font-size="12.2" text-anchor="middle">76</text>
<text x="115.4" y="286.7" font-size="12.2" text-anchor="middle">78</text>
<text x="194.1" y="286.7" font-size="12.2" text-anchor="middle">80</text>
<text x="272.9" y="286.7" font-size="12.2" text-anchor="middle">82</text>
<text x="351.6" y="286.7" font-size="12.2" text-anchor="middle">84</text>
<text x="430.4" y="286.7" font-size="12.2" text-anchor="middle">86</text>
<text x="253.4" y="97.1" font-size="12.2" text-anchor="middle">-18</text>
<text x="253.4" y="181.6" font-size="12.2" text-anchor="middle">-20</text>
<text x="253.4" y="266.1" font-size="12.2" text-anchor="middle">-22</text>
<text x="253.4" y="350.6" font-size="12.2" text-anchor="middle">-24</text>
<text x="253.4" y="435.1" font-size="12.2" text-anchor="middle">-26</text>
<text x="253.4" y="519.6" font-size="12.2" text-anchor="middle">-28</text>
<rect x="242.9" y="292.1" width="13" height="4.7" fill="#000"/><rect x="247.1" y="288.0" width="4.7" height="13" fill="#000"/>

<text x="36.5" y="66.0" font-size="25">PR near surface reflectivity (dBZ)</text>
<text x="456.5" y="523.0" font-size="29" text-anchor="middle">(a)</text>
<rect x="495.2" y="531.48" width="8.8" height="8.76" fill="#f6f6f6"/>
<rect x="495.2" y="523.01" width="8.8" height="8.76" fill="#eeeeee"/>
<rect x="495.2" y="514.55" width="8.8" height="8.76" fill="#e6e6e6"/>
<rect x="495.2" y="506.09" width="8.8" height="8.76" fill="#dedede"/>
<rect x="495.2" y="497.63" width="8.8" height="8.76" fill="#d6d6d6"/>
<rect x="495.2" y="489.17" width="8.8" height="8.76" fill="#cecece"/>
<rect x="495.2" y="480.70" width="8.8" height="8.76" fill="#c6c6c6"/>
<rect x="495.2" y="472.24" width="8.8" height="8.76" fill="#bebebe"/>
<rect x="495.2" y="463.78" width="8.8" height="8.76" fill="#b6b6b6"/>
<rect x="495.2" y="455.32" width="8.8" height="8.76" fill="#aeaeae"/>
<rect x="495.2" y="446.86" width="8.8" height="8.76" fill="#a6a6a6"/>
<rect x="495.2" y="438.39" width="8.8" height="8.76" fill="#9e9e9e"/>
<rect x="495.2" y="429.93" width="8.8" height="8.76" fill="#969696"/>
<rect x="495.2" y="421.47" width="8.8" height="8.76" fill="#8e8e8e"/>
<rect x="495.2" y="413.01" width="8.8" height="8.76" fill="#88dd88"/>
<rect x="495.2" y="404.55" width="8.8" height="8.76" fill="#7ad27a"/>
<rect x="495.2" y="396.08" width="8.8" height="8.76" fill="#6fca6f"/>
<rect x="495.2" y="387.62" width="8.8" height="8.76" fill="#66c066"/>
<rect x="495.2" y="379.16" width="8.8" height="8.76" fill="#62b662"/>
<rect x="495.2" y="370.70" width="8.8" height="8.76" fill="#ccd4ff"/>
<rect x="495.2" y="362.24" width="8.8" height="8.76" fill="#b4c8ff"/>
<rect x="495.2" y="353.77" width="8.8" height="8.76" fill="#9cc0ff"/>
<rect x="495.2" y="345.31" width="8.8" height="8.76" fill="#84b8ff"/>
<rect x="495.2" y="336.85" width="8.8" height="8.76" fill="#6cb2ff"/>
<rect x="495.2" y="328.39" width="8.8" height="8.76" fill="#55aaff"/>
<rect x="495.2" y="319.93" width="8.8" height="8.76" fill="#4a98ff"/>
<rect x="495.2" y="311.46" width="8.8" height="8.76" fill="#4080ff"/>
<rect x="495.2" y="303.00" width="8.8" height="8.76" fill="#3a6cff"/>
<rect x="495.2" y="294.54" width="8.8" height="8.76" fill="#3355ff"/>
<rect x="495.2" y="286.08" width="8.8" height="8.76" fill="#2a3cff"/>
<rect x="495.2" y="277.62" width="8.8" height="8.76" fill="#1a1aff"/>
<rect x="495.2" y="269.15" width="8.8" height="8.76" fill="#0000ff"/>
<rect x="495.2" y="260.69" width="8.8" height="8.76" fill="#0000e0"/>
<rect x="495.2" y="252.23" width="8.8" height="8.76" fill="#0000c4"/>
<rect x="495.2" y="243.77" width="8.8" height="8.76" fill="#ffff00"/>
<rect x="495.2" y="235.31" width="8.8" height="8.76" fill="#ffee00"/>
<rect x="495.2" y="226.84" width="8.8" height="8.76" fill="#ffe000"/>
<rect x="495.2" y="218.38" width="8.8" height="8.76" fill="#ffd400"/>
<rect x="495.2" y="209.92" width="8.8" height="8.76" fill="#ffc800"/>
<rect x="495.2" y="201.46" width="8.8" height="8.76" fill="#ff8a00"/>
<rect x="495.2" y="193.00" width="8.8" height="8.76" fill="#ff8000"/>
<rect x="495.2" y="184.53" width="8.8" height="8.76" fill="#ff7800"/>
<rect x="495.2" y="176.07" width="8.8" height="8.76" fill="#ff7000"/>
<rect x="495.2" y="167.61" width="8.8" height="8.76" fill="#ff6800"/>
<rect x="495.2" y="159.15" width="8.8" height="8.76" fill="#ff3a00"/>
<rect x="495.2" y="150.69" width="8.8" height="8.76" fill="#ff3000"/>
<rect x="495.2" y="142.22" width="8.8" height="8.76" fill="#ff2400"/>
<rect x="495.2" y="133.76" width="8.8" height="8.76" fill="#ff1800"/>
<rect x="495.2" y="125.30" width="8.8" height="8.76" fill="#ff1000"/>
<rect x="495.2" y="116.84" width="8.8" height="8.76" fill="#c80000"/>
<rect x="495.2" y="108.38" width="8.8" height="8.76" fill="#c00000"/>
<rect x="495.2" y="99.91" width="8.8" height="8.76" fill="#b00000"/>
<rect x="495.2" y="91.45" width="8.8" height="8.76" fill="#a40000"/>
<rect x="495.2" y="82.99" width="8.8" height="8.76" fill="#980800"/>
<rect x="495.2" y="74.53" width="8.8" height="8.76" fill="#620c08"/>
<rect x="495.2" y="66.07" width="8.8" height="8.76" fill="#5e1210"/>
<rect x="495.2" y="57.60" width="8.8" height="8.76" fill="#5c1612"/>
<rect x="495.2" y="49.14" width="8.8" height="8.76" fill="#5a1816"/>
<rect x="495.2" y="40.68" width="8.8" height="8.76" fill="#5a1a18"/>
<line x1="504.0" y1="91.5" x2="506.6" y2="91.5" stroke="#000" stroke-width="1"/>
<text x="524.5" y="99.8" font-size="19.6" text-anchor="middle">54</text>
<line x1="504.0" y1="142.2" x2="506.6" y2="142.2" stroke="#000" stroke-width="1"/>
<text x="524.5" y="150.5" font-size="19.6" text-anchor="middle">48</text>
<line x1="504.0" y1="193.0" x2="506.6" y2="193.0" stroke="#000" stroke-width="1"/>
<text x="524.5" y="201.3" font-size="19.6" text-anchor="middle">42</text>
<line x1="504.0" y1="243.8" x2="506.6" y2="243.8" stroke="#000" stroke-width="1"/>
<text x="524.5" y="252.1" font-size="19.6" text-anchor="middle">36</text>
<line x1="504.0" y1="294.5" x2="506.6" y2="294.5" stroke="#000" stroke-width="1"/>
<text x="524.5" y="302.8" font-size="19.6" text-anchor="middle">30</text>
<line x1="504.0" y1="345.3" x2="506.6" y2="345.3" stroke="#000" stroke-width="1"/>
<text x="524.5" y="353.6" font-size="19.6" text-anchor="middle">24</text>
<line x1="504.0" y1="396.1" x2="506.6" y2="396.1" stroke="#000" stroke-width="1"/>
<text x="524.5" y="404.4" font-size="19.6" text-anchor="middle">18</text>
<line x1="504.0" y1="446.9" x2="506.6" y2="446.9" stroke="#000" stroke-width="1"/>
<text x="524.5" y="455.2" font-size="19.6" text-anchor="middle">12</text>
<line x1="504.0" y1="497.6" x2="506.6" y2="497.6" stroke="#000" stroke-width="1"/>
<text x="524.5" y="505.9" font-size="19.6" text-anchor="middle">6</text>
<line x1="504.0" y1="548.4" x2="506.6" y2="548.4" stroke="#000" stroke-width="1"/>
<text x="524.5" y="556.7" font-size="19.6" text-anchor="middle">0</text>
</g><g transform="translate(590.5,0)">
<g clip-path="url(#mapclip)">

<g fill="#3355ee"><rect x="391.0" y="224.4" width="3.4" height="4.5" rx="1.2"/><rect x="401.7" y="238.0" width="7.9" height="3.4" rx="1.2"/><rect x="404.5" y="236.3" width="4.5" height="3.4" rx="1.2"/><rect x="413.0" y="234.0" width="6.2" height="4.5" rx="1.6"/><rect x="416.9" y="232.9" width="6.8" height="4.5" rx="1.6"/><rect x="420.3" y="229.5" width="5.1" height="4.0" rx="1.4"/><rect x="423.1" y="225.5" width="4.0" height="4.0" rx="1.4"/><rect x="442.9" y="250.9" width="4.5" height="4.0" rx="1.4"/><rect x="449.7" y="247.6" width="4.5" height="4.5" rx="1.6"/><rect x="451.9" y="243.6" width="5.6" height="4.5" rx="1.6"/><rect x="453.1" y="240.2" width="6.2" height="4.0" rx="1.4"/><rect x="392.7" y="265.6" width="4.0" height="4.0" rx="1.4"/><rect x="397.7" y="271.3" width="3.4" height="4.5" rx="1.2"/><rect x="402.8" y="267.9" width="5.6" height="4.5" rx="1.6"/><rect x="405.6" y="264.5" width="4.0" height="4.0" rx="1.4"/><rect x="411.8" y="268.5" width="7.3" height="3.4" rx="1.2"/><rect x="417.5" y="265.1" width="5.6" height="4.0" rx="1.4"/><rect x="432.7" y="271.3" width="5.1" height="4.0" rx="1.4"/><rect x="435.0" y="265.1" width="4.5" height="6.2" rx="1.6"/><rect x="378.0" y="241.9" width="5.6" height="5.6" rx="2.0"/><rect x="440.1" y="253.2" width="5.6" height="6.8" rx="2.0"/><rect x="445.7" y="252.1" width="6.2" height="5.6" rx="2.0"/><rect x="462.5" y="153.9" width="3.6" height="4.1" rx="1.2"/><rect x="483.4" y="146.3" width="2.5" height="7.1" rx="0.9"/><rect x="475.2" y="169.1" width="7.1" height="8.6" rx="2.5"/><rect x="466.6" y="177.8" width="11.7" height="7.6" rx="2.7"/><rect x="461.0" y="191.0" width="6.1" height="4.6" rx="1.6"/><rect x="480.8" y="149.8" width="4.6" height="4.6" rx="1.6"/><rect x="477.3" y="158.0" width="3.0" height="4.1" rx="1.1"/><rect x="479.3" y="163.0" width="5.1" height="4.1" rx="1.4"/><rect x="463.5" y="172.7" width="3.6" height="6.1" rx="1.2"/><rect x="471.7" y="176.8" width="5.6" height="4.6" rx="1.6"/><rect x="465.6" y="179.3" width="4.1" height="4.1" rx="1.4"/><rect x="307.9" y="278.4" width="4.1" height="3.6" rx="1.3"/><rect x="303.8" y="288.4" width="6.3" height="3.2" rx="1.1"/><rect x="302.0" y="291.5" width="3.6" height="3.6" rx="1.3"/><rect x="299.3" y="295.1" width="5.4" height="4.5" rx="1.6"/><rect x="300.7" y="310.9" width="3.2" height="4.1" rx="1.1"/><rect x="226.2" y="293.1" width="4.0" height="4.5" rx="1.4"/><rect x="225.6" y="298.8" width="4.0" height="6.2" rx="1.4"/><rect x="373.9" y="279.2" width="3.4" height="4.0" rx="1.2"/><rect x="363.8" y="301.2" width="4.5" height="3.4" rx="1.2"/><rect x="87.5" y="407.0" width="4.0" height="3.5" rx="1.2"/></g><path d="M403.5,237.8h2.3v2.0h-2.3zM405.5,237.8h2.3v2.0h-2.3zM407.5,237.8h2.3v2.0h-2.3zM407.5,239.5h2.3v2.0h-2.3zM412.8,236.1h2.4v2.6h-2.4zM419.0,232.7h2.6v2.6h-2.6zM416.8,235.0h2.6v2.6h-2.6zM419.0,235.0h2.6v2.6h-2.6zM423.0,225.4h2.3v2.3h-2.3zM445.0,250.8h2.6v2.3h-2.6zM451.8,245.7h2.2v2.6h-2.2zM455.0,240.1h2.4v2.3h-2.4zM457.1,240.1h2.4v2.3h-2.4zM402.7,267.7h2.2v2.6h-2.2zM407.5,266.3h2.3v2.3h-2.3zM419.2,264.9h2.2v2.3h-2.2zM421.1,266.9h2.2v2.3h-2.2zM381.6,241.8h2.2v2.2h-2.2zM377.8,243.6h2.2v2.2h-2.2zM381.6,243.6h2.2v2.2h-2.2zM377.8,245.5h2.2v2.2h-2.2zM439.9,253.1h2.2v2.6h-2.2zM439.9,255.3h2.2v2.6h-2.2zM464.2,153.7h2.1v2.3h-2.1zM464.9,193.1h2.3v2.6h-2.3zM483.0,149.7h2.6v2.6h-2.6zM465.2,174.6h2.1v2.3h-2.1zM467.5,181.2h2.3v2.3h-2.3zM301.0,295.0h2.1v2.6h-2.1zM225.5,300.7h2.3v2.4h-2.3zM227.5,302.8h2.3v2.4h-2.3zM375.5,279.0h2.0v2.3h-2.0zM373.8,281.0h2.0v2.3h-2.0zM87.3,408.6h2.3v2.0h-2.3z" fill="#77b8ff"/><path d="M445.0,252.8h2.6v2.3h-2.6zM441.8,255.3h2.2v2.6h-2.2zM443.7,257.6h2.2v2.6h-2.2zM445.6,253.8h2.4v2.2h-2.4zM479.8,171.2h2.7v2.5h-2.7zM479.8,173.3h2.7v2.5h-2.7zM479.8,175.5h2.7v2.5h-2.7zM466.4,177.6h2.2v2.2h-2.2zM468.4,177.6h2.2v2.2h-2.2zM472.3,177.6h2.2v2.2h-2.2zM474.2,177.6h2.2v2.2h-2.2zM466.4,179.5h2.2v2.2h-2.2zM468.4,181.4h2.2v2.2h-2.2zM472.3,181.4h2.2v2.2h-2.2zM474.2,181.4h2.2v2.2h-2.2zM470.3,183.3h2.2v2.2h-2.2zM476.2,183.3h2.2v2.2h-2.2zM475.3,176.6h2.2v2.6h-2.2zM467.5,179.2h2.3v2.3h-2.3z" fill="#ffdd00"/><g fill="#111"><rect x="404.4" y="200.0" width="3.6" height="3.0" rx="1.1"/><rect x="442.2" y="257.1" width="1.9" height="4.2" rx="0.7"/><rect x="374.5" y="241.2" width="1.9" height="2.5" rx="0.7"/><rect x="381.8" y="221.5" width="1.9" height="1.9" rx="0.7"/><rect x="402.1" y="216.4" width="1.9" height="2.5" rx="0.7"/><rect x="395.9" y="228.3" width="3.6" height="2.5" rx="0.9"/><rect x="409.5" y="227.7" width="1.9" height="1.9" rx="0.7"/><rect x="415.7" y="263.3" width="3.6" height="2.5" rx="0.9"/><rect x="451.8" y="209.1" width="4.7" height="2.5" rx="0.9"/><rect x="459.2" y="211.9" width="1.9" height="1.9" rx="0.7"/><rect x="451.8" y="218.1" width="1.9" height="1.9" rx="0.7"/><rect x="461.4" y="203.4" width="2.5" height="1.9" rx="0.7"/><rect x="455.2" y="198.9" width="2.5" height="1.6" rx="0.6"/><rect x="420.2" y="230.0" width="2.5" height="3.6" rx="0.9"/><rect x="402.1" y="271.7" width="1.9" height="1.9" rx="0.7"/><rect x="436.6" y="270.0" width="1.9" height="1.9" rx="0.7"/><rect x="453.5" y="241.8" width="1.9" height="1.6" rx="0.6"/><rect x="471.1" y="177.7" width="2.7" height="1.7" rx="0.6"/><rect x="475.1" y="153.8" width="2.2" height="2.2" rx="0.8"/><rect x="456.3" y="183.8" width="2.2" height="1.7" rx="0.6"/><rect x="460.9" y="185.8" width="2.2" height="2.2" rx="0.8"/><rect x="464.5" y="184.3" width="2.2" height="3.8" rx="0.8"/><rect x="461.9" y="189.4" width="2.7" height="2.7" rx="1.0"/><rect x="459.9" y="192.9" width="2.2" height="2.2" rx="0.8"/><rect x="455.3" y="198.5" width="2.2" height="1.7" rx="0.6"/><rect x="461.9" y="203.6" width="1.7" height="1.7" rx="0.6"/><rect x="452.3" y="209.2" width="4.3" height="2.2" rx="0.8"/><rect x="458.9" y="211.7" width="2.2" height="2.2" rx="0.8"/><rect x="451.8" y="217.8" width="1.7" height="1.6" rx="0.6"/><rect x="460.4" y="158.9" width="1.7" height="1.7" rx="0.6"/><rect x="463.4" y="157.4" width="1.7" height="1.7" rx="0.6"/><rect x="308.2" y="268.8" width="3.8" height="2.9" rx="1.0"/><rect x="306.4" y="281.5" width="3.8" height="2.9" rx="1.0"/><rect x="303.7" y="281.0" width="2.0" height="2.0" rx="0.7"/><rect x="308.2" y="283.3" width="2.0" height="1.6" rx="0.6"/><rect x="307.8" y="286.0" width="2.9" height="2.9" rx="1.0"/><rect x="304.6" y="293.2" width="2.0" height="2.5" rx="0.7"/><rect x="298.8" y="298.6" width="3.8" height="2.5" rx="0.9"/><rect x="297.9" y="301.8" width="3.4" height="3.8" rx="1.2"/><rect x="294.7" y="305.9" width="2.5" height="2.0" rx="0.7"/><rect x="296.5" y="319.9" width="2.0" height="2.0" rx="0.7"/><rect x="235.7" y="374.9" width="1.9" height="1.9" rx="0.7"/><rect x="243.6" y="373.2" width="1.9" height="1.9" rx="0.7"/><rect x="254.9" y="370.9" width="1.9" height="2.5" rx="0.7"/><rect x="257.2" y="368.1" width="1.9" height="1.9" rx="0.7"/><rect x="205.8" y="309.4" width="1.9" height="1.9" rx="0.7"/><rect x="240.2" y="304.9" width="1.9" height="1.9" rx="0.7"/><rect x="238.0" y="310.5" width="1.9" height="1.9" rx="0.7"/><rect x="251.5" y="304.9" width="3.0" height="1.9" rx="0.7"/><rect x="245.3" y="321.8" width="1.9" height="1.9" rx="0.7"/><rect x="412.8" y="288.1" width="3.6" height="2.5" rx="0.9"/><rect x="413.9" y="292.6" width="2.5" height="2.5" rx="0.9"/><rect x="424.1" y="284.7" width="2.5" height="1.6" rx="0.6"/><rect x="412.8" y="293.2" width="2.5" height="2.5" rx="0.9"/><rect x="422.4" y="288.1" width="2.5" height="1.9" rx="0.7"/><rect x="91.4" y="411.9" width="3.2" height="3.7" rx="1.1"/><rect x="116.9" y="407.9" width="2.7" height="2.7" rx="0.9"/><rect x="51.9" y="456.9" width="2.7" height="2.7" rx="0.9"/><rect x="364.9" y="210.9" width="3.2" height="2.2" rx="0.8"/></g><g filter="url(#ol2)" fill="#000"><rect x="391.0" y="224.4" width="3.4" height="4.5" rx="1.2"/><rect x="401.7" y="238.0" width="7.9" height="3.4" rx="1.2"/><rect x="404.5" y="236.3" width="4.5" height="3.4" rx="1.2"/><rect x="413.0" y="234.0" width="6.2" height="4.5" rx="1.6"/><rect x="416.9" y="232.9" width="6.8" height="4.5" rx="1.6"/><rect x="420.3" y="229.5" width="5.1" height="4.0" rx="1.4"/><rect x="423.1" y="225.5" width="4.0" height="4.0" rx="1.4"/><rect x="442.9" y="250.9" width="4.5" height="4.0" rx="1.4"/><rect x="449.7" y="247.6" width="4.5" height="4.5" rx="1.6"/><rect x="451.9" y="243.6" width="5.6" height="4.5" rx="1.6"/><rect x="453.1" y="240.2" width="6.2" height="4.0" rx="1.4"/><rect x="392.7" y="265.6" width="4.0" height="4.0" rx="1.4"/><rect x="397.7" y="271.3" width="3.4" height="4.5" rx="1.2"/><rect x="402.8" y="267.9" width="5.6" height="4.5" rx="1.6"/><rect x="405.6" y="264.5" width="4.0" height="4.0" rx="1.4"/><rect x="411.8" y="268.5" width="7.3" height="3.4" rx="1.2"/><rect x="417.5" y="265.1" width="5.6" height="4.0" rx="1.4"/><rect x="432.7" y="271.3" width="5.1" height="4.0" rx="1.4"/><rect x="435.0" y="265.1" width="4.5" height="6.2" rx="1.6"/><rect x="378.0" y="241.9" width="5.6" height="5.6" rx="2.0"/><rect x="440.1" y="253.2" width="5.6" height="6.8" rx="2.0"/><rect x="445.7" y="252.1" width="6.2" height="5.6" rx="2.0"/><rect x="462.5" y="153.9" width="3.6" height="4.1" rx="1.2"/><rect x="483.4" y="146.3" width="2.5" height="7.1" rx="0.9"/><rect x="475.2" y="169.1" width="7.1" height="8.6" rx="2.5"/><rect x="466.6" y="177.8" width="11.7" height="7.6" rx="2.7"/><rect x="461.0" y="191.0" width="6.1" height="4.6" rx="1.6"/><rect x="480.8" y="149.8" width="4.6" height="4.6" rx="1.6"/><rect x="477.3" y="158.0" width="3.0" height="4.1" rx="1.1"/><rect x="479.3" y="163.0" width="5.1" height="4.1" rx="1.4"/><rect x="463.5" y="172.7" width="3.6" height="6.1" rx="1.2"/><rect x="471.7" y="176.8" width="5.6" height="4.6" rx="1.6"/><rect x="465.6" y="179.3" width="4.1" height="4.1" rx="1.4"/><rect x="307.9" y="278.4" width="4.1" height="3.6" rx="1.3"/><rect x="303.8" y="288.4" width="6.3" height="3.2" rx="1.1"/><rect x="302.0" y="291.5" width="3.6" height="3.6" rx="1.3"/><rect x="299.3" y="295.1" width="5.4" height="4.5" rx="1.6"/><rect x="300.7" y="310.9" width="3.2" height="4.1" rx="1.1"/><rect x="226.2" y="293.1" width="4.0" height="4.5" rx="1.4"/><rect x="225.6" y="298.8" width="4.0" height="6.2" rx="1.4"/><rect x="373.9" y="279.2" width="3.4" height="4.0" rx="1.2"/><rect x="363.8" y="301.2" width="4.5" height="3.4" rx="1.2"/><rect x="87.5" y="407.0" width="4.0" height="3.5" rx="1.2"/></g>
</g>
<line x1="37.00" y1="40.95" x2="37.00" y2="549.0" stroke="#000" stroke-width="1.15" stroke-dasharray="2.8 5.48" fill="none"/>
<line x1="115.00" y1="40.95" x2="115.00" y2="549.0" stroke="#000" stroke-width="1.15" stroke-dasharray="2.8 5.48" fill="none"/>
<line x1="194.00" y1="40.95" x2="194.00" y2="549.0" stroke="#000" stroke-width="1.15" stroke-dasharray="2.8 5.48" fill="none"/>
<line x1="273.00" y1="40.95" x2="273.00" y2="549.0" stroke="#000" stroke-width="1.15" stroke-dasharray="2.8 5.48" fill="none"/>
<line x1="352.00" y1="40.95" x2="352.00" y2="549.0" stroke="#000" stroke-width="1.15" stroke-dasharray="2.8 5.48" fill="none"/>
<line x1="430.00" y1="40.95" x2="430.00" y2="549.0" stroke="#000" stroke-width="1.15" stroke-dasharray="2.8 5.48" fill="none"/>
<line x1="12.8" y1="96.50" x2="486.0" y2="96.50" stroke="#000" stroke-width="1.15" stroke-dasharray="2.8 5.46" fill="none"/>
<line x1="12.8" y1="181.50" x2="486.0" y2="181.50" stroke="#000" stroke-width="1.15" stroke-dasharray="2.8 5.46" fill="none"/>
<line x1="12.8" y1="265.50" x2="486.0" y2="265.50" stroke="#000" stroke-width="1.15" stroke-dasharray="2.8 5.46" fill="none"/>
<line x1="12.8" y1="350.50" x2="486.0" y2="350.50" stroke="#000" stroke-width="1.15" stroke-dasharray="2.8 5.46" fill="none"/>
<line x1="12.8" y1="434.50" x2="486.0" y2="434.50" stroke="#000" stroke-width="1.15" stroke-dasharray="2.8 5.46" fill="none"/>
<line x1="12.8" y1="519.50" x2="486.0" y2="519.50" stroke="#000" stroke-width="1.15" stroke-dasharray="2.8 5.46" fill="none"/>
<polyline points="13.0,396.4 18.9,393.7 24.8,391.0 30.7,388.2 36.6,385.5 42.5,382.7 48.4,379.9 54.3,377.2 60.2,374.4 66.1,371.5 72.0,368.7 77.9,365.9 83.8,363.1 89.7,360.2 95.6,357.3 101.5,354.5 107.4,351.6 113.3,348.7 119.2,345.7 125.1,342.8 131.0,339.9 136.9,336.9 142.8,334.0 148.7,331.0 154.6,328.0 160.5,325.0 166.4,322.0 172.3,319.0 178.2,316.0 184.1,313.0 190.0,309.9 195.9,306.8 201.8,303.8 207.7,300.7 213.6,297.6 219.5,294.5 225.4,291.4 231.3,288.2 237.2,285.1 243.1,282.0 248.9,278.8 254.8,275.6 260.7,272.4 266.6,269.2 272.5,266.0 278.4,262.8 284.3,259.6 290.2,256.3 296.1,253.1 302.0,249.8 307.9,246.5 313.8,243.2 319.7,239.9 325.6,236.6 331.5,233.3 337.4,230.0 343.3,226.6 349.2,223.3 355.1,219.9 361.0,216.5 366.9,213.1 372.8,209.7 378.7,206.3 384.6,202.9 390.5,199.4 396.4,196.0 402.3,192.5 408.2,189.1 414.1,185.6 420.0,182.1 425.9,178.6 431.8,175.1 437.7,171.5 443.6,168.0 449.5,164.4 455.4,160.9 461.3,157.3 467.2,153.7 473.1,150.1 479.0,146.5" stroke="#000" stroke-width="1.1" fill="none" stroke-dasharray="12 11.45"/>
<polyline points="13.0,501.5 18.9,498.8 24.9,496.1 30.8,493.3 36.7,490.6 42.7,487.9 48.6,485.1 54.6,482.4 60.5,479.6 66.4,476.8 72.4,474.0 78.3,471.2 84.2,468.4 90.2,465.6 96.1,462.7 102.1,459.9 108.0,457.0 113.9,454.1 119.9,451.3 125.8,448.4 131.7,445.5 137.7,442.5 143.6,439.6 149.5,436.7 155.5,433.7 161.4,430.8 167.4,427.8 173.3,424.8 179.2,421.8 185.2,418.8 191.1,415.8 197.0,412.8 203.0,409.8 208.9,406.7 214.8,403.7 220.8,400.6 226.7,397.5 232.7,394.4 238.6,391.3 244.5,388.2 250.5,385.1 256.4,382.0 262.3,378.8 268.3,375.7 274.2,372.5 280.2,369.3 286.1,366.2 292.0,363.0 298.0,359.8 303.9,356.5 309.8,353.3 315.8,350.1 321.7,346.8 327.6,343.6 333.6,340.3 339.5,337.0 345.5,333.7 351.4,330.4 357.3,327.1 363.3,323.8 369.2,320.4 375.1,317.1 381.1,313.7 387.0,310.3 392.9,307.0 398.9,303.6 404.8,300.2 410.8,296.8 416.7,293.3 422.6,289.9 428.6,286.4 434.5,283.0 440.4,279.5 446.4,276.0 452.3,272.5 458.3,269.0 464.2,265.5 470.1,262.0 476.1,258.5 482.0,254.9" stroke="#000" stroke-width="1.1" fill="none" stroke-dasharray="12 11.45"/>
<text x="36.6" y="286.7" font-size="12.2" text-anchor="middle">76</text>
<text x="115.4" y="286.7" font-size="12.2" text-anchor="middle">78</text>
<text x="194.1" y="286.7" font-size="12.2" text-anchor="middle">80</text>
<text x="272.9" y="286.7" font-size="12.2" text-anchor="middle">82</text>
<text x="351.6" y="286.7" font-size="12.2" text-anchor="middle">84</text>
<text x="430.4" y="286.7" font-size="12.2" text-anchor="middle">86</text>
<text x="253.4" y="97.1" font-size="12.2" text-anchor="middle">-18</text>
<text x="253.4" y="181.6" font-size="12.2" text-anchor="middle">-20</text>
<text x="253.4" y="266.1" font-size="12.2" text-anchor="middle">-22</text>
<text x="253.4" y="350.6" font-size="12.2" text-anchor="middle">-24</text>
<text x="253.4" y="435.1" font-size="12.2" text-anchor="middle">-26</text>
<text x="253.4" y="519.6" font-size="12.2" text-anchor="middle">-28</text>
<rect x="242.9" y="292.1" width="13" height="4.7" fill="#000"/><rect x="247.1" y="288.0" width="4.7" height="13" fill="#000"/>

<text x="36.5" y="66.0" font-size="25">PR max reflectivity projection (dBZ)</text>
<text x="456.5" y="523.0" font-size="29" text-anchor="middle">(b)</text>
<rect x="495.2" y="531.48" width="8.8" height="8.76" fill="#f6f6f6"/>
<rect x="495.2" y="523.01" width="8.8" height="8.76" fill="#eeeeee"/>
<rect x="495.2" y="514.55" width="8.8" height="8.76" fill="#e6e6e6"/>
<rect x="495.2" y="506.09" width="8.8" height="8.76" fill="#dedede"/>
<rect x="495.2" y="497.63" width="8.8" height="8.76" fill="#d6d6d6"/>
<rect x="495.2" y="489.17" width="8.8" height="8.76" fill="#cecece"/>
<rect x="495.2" y="480.70" width="8.8" height="8.76" fill="#c6c6c6"/>
<rect x="495.2" y="472.24" width="8.8" height="8.76" fill="#bebebe"/>
<rect x="495.2" y="463.78" width="8.8" height="8.76" fill="#b6b6b6"/>
<rect x="495.2" y="455.32" width="8.8" height="8.76" fill="#aeaeae"/>
<rect x="495.2" y="446.86" width="8.8" height="8.76" fill="#a6a6a6"/>
<rect x="495.2" y="438.39" width="8.8" height="8.76" fill="#9e9e9e"/>
<rect x="495.2" y="429.93" width="8.8" height="8.76" fill="#969696"/>
<rect x="495.2" y="421.47" width="8.8" height="8.76" fill="#8e8e8e"/>
<rect x="495.2" y="413.01" width="8.8" height="8.76" fill="#88dd88"/>
<rect x="495.2" y="404.55" width="8.8" height="8.76" fill="#7ad27a"/>
<rect x="495.2" y="396.08" width="8.8" height="8.76" fill="#6fca6f"/>
<rect x="495.2" y="387.62" width="8.8" height="8.76" fill="#66c066"/>
<rect x="495.2" y="379.16" width="8.8" height="8.76" fill="#62b662"/>
<rect x="495.2" y="370.70" width="8.8" height="8.76" fill="#ccd4ff"/>
<rect x="495.2" y="362.24" width="8.8" height="8.76" fill="#b4c8ff"/>
<rect x="495.2" y="353.77" width="8.8" height="8.76" fill="#9cc0ff"/>
<rect x="495.2" y="345.31" width="8.8" height="8.76" fill="#84b8ff"/>
<rect x="495.2" y="336.85" width="8.8" height="8.76" fill="#6cb2ff"/>
<rect x="495.2" y="328.39" width="8.8" height="8.76" fill="#55aaff"/>
<rect x="495.2" y="319.93" width="8.8" height="8.76" fill="#4a98ff"/>
<rect x="495.2" y="311.46" width="8.8" height="8.76" fill="#4080ff"/>
<rect x="495.2" y="303.00" width="8.8" height="8.76" fill="#3a6cff"/>
<rect x="495.2" y="294.54" width="8.8" height="8.76" fill="#3355ff"/>
<rect x="495.2" y="286.08" width="8.8" height="8.76" fill="#2a3cff"/>
<rect x="495.2" y="277.62" width="8.8" height="8.76" fill="#1a1aff"/>
<rect x="495.2" y="269.15" width="8.8" height="8.76" fill="#0000ff"/>
<rect x="495.2" y="260.69" width="8.8" height="8.76" fill="#0000e0"/>
<rect x="495.2" y="252.23" width="8.8" height="8.76" fill="#0000c4"/>
<rect x="495.2" y="243.77" width="8.8" height="8.76" fill="#ffff00"/>
<rect x="495.2" y="235.31" width="8.8" height="8.76" fill="#ffee00"/>
<rect x="495.2" y="226.84" width="8.8" height="8.76" fill="#ffe000"/>
<rect x="495.2" y="218.38" width="8.8" height="8.76" fill="#ffd400"/>
<rect x="495.2" y="209.92" width="8.8" height="8.76" fill="#ffc800"/>
<rect x="495.2" y="201.46" width="8.8" height="8.76" fill="#ff8a00"/>
<rect x="495.2" y="193.00" width="8.8" height="8.76" fill="#ff8000"/>
<rect x="495.2" y="184.53" width="8.8" height="8.76" fill="#ff7800"/>
<rect x="495.2" y="176.07" width="8.8" height="8.76" fill="#ff7000"/>
<rect x="495.2" y="167.61" width="8.8" height="8.76" fill="#ff6800"/>
<rect x="495.2" y="159.15" width="8.8" height="8.76" fill="#ff3a00"/>
<rect x="495.2" y="150.69" width="8.8" height="8.76" fill="#ff3000"/>
<rect x="495.2" y="142.22" width="8.8" height="8.76" fill="#ff2400"/>
<rect x="495.2" y="133.76" width="8.8" height="8.76" fill="#ff1800"/>
<rect x="495.2" y="125.30" width="8.8" height="8.76" fill="#ff1000"/>
<rect x="495.2" y="116.84" width="8.8" height="8.76" fill="#c80000"/>
<rect x="495.2" y="108.38" width="8.8" height="8.76" fill="#c00000"/>
<rect x="495.2" y="99.91" width="8.8" height="8.76" fill="#b00000"/>
<rect x="495.2" y="91.45" width="8.8" height="8.76" fill="#a40000"/>
<rect x="495.2" y="82.99" width="8.8" height="8.76" fill="#980800"/>
<rect x="495.2" y="74.53" width="8.8" height="8.76" fill="#620c08"/>
<rect x="495.2" y="66.07" width="8.8" height="8.76" fill="#5e1210"/>
<rect x="495.2" y="57.60" width="8.8" height="8.76" fill="#5c1612"/>
<rect x="495.2" y="49.14" width="8.8" height="8.76" fill="#5a1816"/>
<rect x="495.2" y="40.68" width="8.8" height="8.76" fill="#5a1a18"/>
<line x1="504.0" y1="91.5" x2="506.6" y2="91.5" stroke="#000" stroke-width="1"/>
<text x="524.5" y="99.8" font-size="19.6" text-anchor="middle">54</text>
<line x1="504.0" y1="142.2" x2="506.6" y2="142.2" stroke="#000" stroke-width="1"/>
<text x="524.5" y="150.5" font-size="19.6" text-anchor="middle">48</text>
<line x1="504.0" y1="193.0" x2="506.6" y2="193.0" stroke="#000" stroke-width="1"/>
<text x="524.5" y="201.3" font-size="19.6" text-anchor="middle">42</text>
<line x1="504.0" y1="243.8" x2="506.6" y2="243.8" stroke="#000" stroke-width="1"/>
<text x="524.5" y="252.1" font-size="19.6" text-anchor="middle">36</text>
<line x1="504.0" y1="294.5" x2="506.6" y2="294.5" stroke="#000" stroke-width="1"/>
<text x="524.5" y="302.8" font-size="19.6" text-anchor="middle">30</text>
<line x1="504.0" y1="345.3" x2="506.6" y2="345.3" stroke="#000" stroke-width="1"/>
<text x="524.5" y="353.6" font-size="19.6" text-anchor="middle">24</text>
<line x1="504.0" y1="396.1" x2="506.6" y2="396.1" stroke="#000" stroke-width="1"/>
<text x="524.5" y="404.4" font-size="19.6" text-anchor="middle">18</text>
<line x1="504.0" y1="446.9" x2="506.6" y2="446.9" stroke="#000" stroke-width="1"/>
<text x="524.5" y="455.2" font-size="19.6" text-anchor="middle">12</text>
<line x1="504.0" y1="497.6" x2="506.6" y2="497.6" stroke="#000" stroke-width="1"/>
<text x="524.5" y="505.9" font-size="19.6" text-anchor="middle">6</text>
<line x1="504.0" y1="548.4" x2="506.6" y2="548.4" stroke="#000" stroke-width="1"/>
<text x="524.5" y="556.7" font-size="19.6" text-anchor="middle">0</text>
</g><g transform="translate(1181,0)">
<g clip-path="url(#mapclip)">

<g fill="#88dd88"><rect x="391.0" y="224.4" width="3.4" height="4.5" rx="1.2"/><rect x="401.7" y="238.0" width="7.9" height="3.4" rx="1.2"/><rect x="404.5" y="236.3" width="4.5" height="3.4" rx="1.2"/><rect x="413.0" y="234.0" width="6.2" height="4.5" rx="1.6"/><rect x="416.9" y="232.9" width="6.8" height="4.5" rx="1.6"/><rect x="420.3" y="229.5" width="5.1" height="4.0" rx="1.4"/><rect x="423.1" y="225.5" width="4.0" height="4.0" rx="1.4"/><rect x="442.9" y="250.9" width="4.5" height="4.0" rx="1.4"/><rect x="449.7" y="247.6" width="4.5" height="4.5" rx="1.6"/><rect x="451.9" y="243.6" width="5.6" height="4.5" rx="1.6"/><rect x="453.1" y="240.2" width="6.2" height="4.0" rx="1.4"/><rect x="392.7" y="265.6" width="4.0" height="4.0" rx="1.4"/><rect x="397.7" y="271.3" width="3.4" height="4.5" rx="1.2"/><rect x="402.8" y="267.9" width="5.6" height="4.5" rx="1.6"/><rect x="405.6" y="264.5" width="4.0" height="4.0" rx="1.4"/><rect x="411.8" y="268.5" width="7.3" height="3.4" rx="1.2"/><rect x="417.5" y="265.1" width="5.6" height="4.0" rx="1.4"/><rect x="432.7" y="271.3" width="5.1" height="4.0" rx="1.4"/><rect x="435.0" y="265.1" width="4.5" height="6.2" rx="1.6"/><rect x="378.0" y="241.9" width="5.6" height="5.6" rx="2.0"/><rect x="440.1" y="253.2" width="5.6" height="6.8" rx="2.0"/><rect x="445.7" y="252.1" width="6.2" height="5.6" rx="2.0"/><rect x="462.5" y="153.9" width="3.6" height="4.1" rx="1.2"/><rect x="483.4" y="146.3" width="2.5" height="7.1" rx="0.9"/><rect x="475.2" y="169.1" width="7.1" height="8.6" rx="2.5"/><rect x="466.6" y="177.8" width="11.7" height="7.6" rx="2.7"/><rect x="461.0" y="191.0" width="6.1" height="4.6" rx="1.6"/><rect x="480.8" y="149.8" width="4.6" height="4.6" rx="1.6"/><rect x="477.3" y="158.0" width="3.0" height="4.1" rx="1.1"/><rect x="479.3" y="163.0" width="5.1" height="4.1" rx="1.4"/><rect x="463.5" y="172.7" width="3.6" height="6.1" rx="1.2"/><rect x="471.7" y="176.8" width="5.6" height="4.6" rx="1.6"/><rect x="465.6" y="179.3" width="4.1" height="4.1" rx="1.4"/><rect x="307.9" y="278.4" width="4.1" height="3.6" rx="1.3"/><rect x="303.8" y="288.4" width="6.3" height="3.2" rx="1.1"/><rect x="302.0" y="291.5" width="3.6" height="3.6" rx="1.3"/><rect x="299.3" y="295.1" width="5.4" height="4.5" rx="1.6"/><rect x="300.7" y="310.9" width="3.2" height="4.1" rx="1.1"/><rect x="226.2" y="293.1" width="4.0" height="4.5" rx="1.4"/><rect x="225.6" y="298.8" width="4.0" height="6.2" rx="1.4"/><rect x="373.9" y="279.2" width="3.4" height="4.0" rx="1.2"/><rect x="363.8" y="301.2" width="4.5" height="3.4" rx="1.2"/><rect x="87.5" y="407.0" width="4.0" height="3.5" rx="1.2"/></g><path d="M451.8,249.7h2.6v2.6h-2.6zM439.9,253.1h2.2v2.6h-2.2zM441.8,255.3h2.2v2.6h-2.2zM443.7,255.3h2.2v2.6h-2.2zM449.7,251.9h2.4v2.2h-2.4zM477.5,171.2h2.7v2.5h-2.7zM479.8,173.3h2.7v2.5h-2.7zM475.1,175.5h2.7v2.5h-2.7zM479.8,175.5h2.7v2.5h-2.7zM470.3,177.6h2.2v2.2h-2.2zM476.2,177.6h2.2v2.2h-2.2zM470.3,179.5h2.2v2.2h-2.2zM468.4,181.4h2.2v2.2h-2.2zM474.2,181.4h2.2v2.2h-2.2zM476.2,181.4h2.2v2.2h-2.2zM468.4,183.3h2.2v2.2h-2.2zM470.3,183.3h2.2v2.2h-2.2zM475.3,176.6h2.2v2.6h-2.2z" fill="#aac4ff"/><g fill="#224422"><rect x="404.5" y="200.1" width="3.4" height="2.8" rx="1.0"/><rect x="442.3" y="257.2" width="1.7" height="4.0" rx="0.6"/><rect x="374.6" y="241.3" width="1.7" height="2.3" rx="0.6"/><rect x="381.9" y="221.6" width="1.7" height="1.7" rx="0.6"/><rect x="402.2" y="216.5" width="1.7" height="2.3" rx="0.6"/><rect x="396.0" y="228.4" width="3.4" height="2.3" rx="0.8"/><rect x="409.6" y="227.8" width="1.7" height="1.7" rx="0.6"/><rect x="415.8" y="263.4" width="3.4" height="2.3" rx="0.8"/><rect x="451.9" y="209.2" width="4.5" height="2.3" rx="0.8"/><rect x="459.3" y="212.0" width="1.7" height="1.7" rx="0.6"/><rect x="451.9" y="218.2" width="1.7" height="1.7" rx="0.6"/><rect x="461.5" y="203.5" width="2.3" height="1.7" rx="0.6"/><rect x="455.3" y="199.0" width="2.3" height="1.6" rx="0.6"/><rect x="420.3" y="230.1" width="2.3" height="3.4" rx="0.8"/><rect x="402.2" y="271.8" width="1.7" height="1.7" rx="0.6"/><rect x="436.7" y="270.1" width="1.7" height="1.7" rx="0.6"/><rect x="453.6" y="241.9" width="1.7" height="1.6" rx="0.6"/><rect x="471.2" y="177.8" width="2.5" height="1.6" rx="0.6"/><rect x="475.2" y="153.9" width="2.0" height="2.0" rx="0.7"/><rect x="456.4" y="183.9" width="2.0" height="1.6" rx="0.6"/><rect x="461.0" y="185.9" width="2.0" height="2.0" rx="0.7"/><rect x="464.6" y="184.4" width="2.0" height="3.6" rx="0.7"/><rect x="462.0" y="189.5" width="2.5" height="2.5" rx="0.9"/><rect x="460.0" y="193.0" width="2.0" height="2.0" rx="0.7"/><rect x="455.4" y="198.6" width="2.0" height="1.6" rx="0.6"/><rect x="462.0" y="203.7" width="1.6" height="1.6" rx="0.6"/><rect x="452.4" y="209.3" width="4.1" height="2.0" rx="0.7"/><rect x="459.0" y="211.8" width="2.0" height="2.0" rx="0.7"/><rect x="451.9" y="217.9" width="1.6" height="1.6" rx="0.6"/><rect x="460.5" y="159.0" width="1.6" height="1.6" rx="0.6"/><rect x="463.5" y="157.5" width="1.6" height="1.6" rx="0.6"/><rect x="308.3" y="268.9" width="3.6" height="2.7" rx="0.9"/><rect x="306.5" y="281.6" width="3.6" height="2.7" rx="0.9"/><rect x="303.8" y="281.1" width="1.8" height="1.8" rx="0.6"/><rect x="308.3" y="283.4" width="1.8" height="1.6" rx="0.6"/><rect x="307.9" y="286.1" width="2.7" height="2.7" rx="0.9"/><rect x="304.7" y="293.3" width="1.8" height="2.3" rx="0.6"/><rect x="298.9" y="298.7" width="3.6" height="2.3" rx="0.8"/><rect x="298.0" y="301.9" width="3.2" height="3.6" rx="1.1"/><rect x="294.8" y="306.0" width="2.3" height="1.8" rx="0.6"/><rect x="296.6" y="320.0" width="1.8" height="1.8" rx="0.6"/><rect x="235.8" y="375.0" width="1.7" height="1.7" rx="0.6"/><rect x="243.7" y="373.3" width="1.7" height="1.7" rx="0.6"/><rect x="255.0" y="371.0" width="1.7" height="2.3" rx="0.6"/><rect x="257.3" y="368.2" width="1.7" height="1.7" rx="0.6"/><rect x="205.9" y="309.5" width="1.7" height="1.7" rx="0.6"/><rect x="240.3" y="305.0" width="1.7" height="1.7" rx="0.6"/><rect x="238.1" y="310.6" width="1.7" height="1.7" rx="0.6"/><rect x="251.6" y="305.0" width="2.8" height="1.7" rx="0.6"/><rect x="245.4" y="321.9" width="1.7" height="1.7" rx="0.6"/><rect x="412.9" y="288.2" width="3.4" height="2.3" rx="0.8"/><rect x="414.0" y="292.7" width="2.3" height="2.3" rx="0.8"/><rect x="424.2" y="284.8" width="2.3" height="1.6" rx="0.6"/><rect x="412.9" y="293.3" width="2.3" height="2.3" rx="0.8"/><rect x="422.5" y="288.2" width="2.3" height="1.7" rx="0.6"/><rect x="91.5" y="412.0" width="3.0" height="3.5" rx="1.0"/><rect x="117.0" y="408.0" width="2.5" height="2.5" rx="0.9"/><rect x="52.0" y="457.0" width="2.5" height="2.5" rx="0.9"/><rect x="365.0" y="211.0" width="3.0" height="2.0" rx="0.7"/></g><g filter="url(#ol2)" fill="#000"><rect x="391.0" y="224.4" width="3.4" height="4.5" rx="1.2"/><rect x="401.7" y="238.0" width="7.9" height="3.4" rx="1.2"/><rect x="404.5" y="236.3" width="4.5" height="3.4" rx="1.2"/><rect x="413.0" y="234.0" width="6.2" height="4.5" rx="1.6"/><rect x="416.9" y="232.9" width="6.8" height="4.5" rx="1.6"/><rect x="420.3" y="229.5" width="5.1" height="4.0" rx="1.4"/><rect x="423.1" y="225.5" width="4.0" height="4.0" rx="1.4"/><rect x="442.9" y="250.9" width="4.5" height="4.0" rx="1.4"/><rect x="449.7" y="247.6" width="4.5" height="4.5" rx="1.6"/><rect x="451.9" y="243.6" width="5.6" height="4.5" rx="1.6"/><rect x="453.1" y="240.2" width="6.2" height="4.0" rx="1.4"/><rect x="392.7" y="265.6" width="4.0" height="4.0" rx="1.4"/><rect x="397.7" y="271.3" width="3.4" height="4.5" rx="1.2"/><rect x="402.8" y="267.9" width="5.6" height="4.5" rx="1.6"/><rect x="405.6" y="264.5" width="4.0" height="4.0" rx="1.4"/><rect x="411.8" y="268.5" width="7.3" height="3.4" rx="1.2"/><rect x="417.5" y="265.1" width="5.6" height="4.0" rx="1.4"/><rect x="432.7" y="271.3" width="5.1" height="4.0" rx="1.4"/><rect x="435.0" y="265.1" width="4.5" height="6.2" rx="1.6"/><rect x="378.0" y="241.9" width="5.6" height="5.6" rx="2.0"/><rect x="440.1" y="253.2" width="5.6" height="6.8" rx="2.0"/><rect x="445.7" y="252.1" width="6.2" height="5.6" rx="2.0"/><rect x="462.5" y="153.9" width="3.6" height="4.1" rx="1.2"/><rect x="483.4" y="146.3" width="2.5" height="7.1" rx="0.9"/><rect x="475.2" y="169.1" width="7.1" height="8.6" rx="2.5"/><rect x="466.6" y="177.8" width="11.7" height="7.6" rx="2.7"/><rect x="461.0" y="191.0" width="6.1" height="4.6" rx="1.6"/><rect x="480.8" y="149.8" width="4.6" height="4.6" rx="1.6"/><rect x="477.3" y="158.0" width="3.0" height="4.1" rx="1.1"/><rect x="479.3" y="163.0" width="5.1" height="4.1" rx="1.4"/><rect x="463.5" y="172.7" width="3.6" height="6.1" rx="1.2"/><rect x="471.7" y="176.8" width="5.6" height="4.6" rx="1.6"/><rect x="465.6" y="179.3" width="4.1" height="4.1" rx="1.4"/><rect x="307.9" y="278.4" width="4.1" height="3.6" rx="1.3"/><rect x="303.8" y="288.4" width="6.3" height="3.2" rx="1.1"/><rect x="302.0" y="291.5" width="3.6" height="3.6" rx="1.3"/><rect x="299.3" y="295.1" width="5.4" height="4.5" rx="1.6"/><rect x="300.7" y="310.9" width="3.2" height="4.1" rx="1.1"/><rect x="226.2" y="293.1" width="4.0" height="4.5" rx="1.4"/><rect x="225.6" y="298.8" width="4.0" height="6.2" rx="1.4"/><rect x="373.9" y="279.2" width="3.4" height="4.0" rx="1.2"/><rect x="363.8" y="301.2" width="4.5" height="3.4" rx="1.2"/><rect x="87.5" y="407.0" width="4.0" height="3.5" rx="1.2"/></g>
</g>
<line x1="36.50" y1="40.95" x2="36.50" y2="549.0" stroke="#000" stroke-width="1.15" stroke-dasharray="2.8 5.48" fill="none"/>
<line x1="115.50" y1="40.95" x2="115.50" y2="549.0" stroke="#000" stroke-width="1.15" stroke-dasharray="2.8 5.48" fill="none"/>
<line x1="194.50" y1="40.95" x2="194.50" y2="549.0" stroke="#000" stroke-width="1.15" stroke-dasharray="2.8 5.48" fill="none"/>
<line x1="272.50" y1="40.95" x2="272.50" y2="549.0" stroke="#000" stroke-width="1.15" stroke-dasharray="2.8 5.48" fill="none"/>
<line x1="351.50" y1="40.95" x2="351.50" y2="549.0" stroke="#000" stroke-width="1.15" stroke-dasharray="2.8 5.48" fill="none"/>
<line x1="430.50" y1="40.95" x2="430.50" y2="549.0" stroke="#000" stroke-width="1.15" stroke-dasharray="2.8 5.48" fill="none"/>
<line x1="12.8" y1="96.50" x2="486.0" y2="96.50" stroke="#000" stroke-width="1.15" stroke-dasharray="2.8 5.46" fill="none"/>
<line x1="12.8" y1="181.50" x2="486.0" y2="181.50" stroke="#000" stroke-width="1.15" stroke-dasharray="2.8 5.46" fill="none"/>
<line x1="12.8" y1="265.50" x2="486.0" y2="265.50" stroke="#000" stroke-width="1.15" stroke-dasharray="2.8 5.46" fill="none"/>
<line x1="12.8" y1="350.50" x2="486.0" y2="350.50" stroke="#000" stroke-width="1.15" stroke-dasharray="2.8 5.46" fill="none"/>
<line x1="12.8" y1="434.50" x2="486.0" y2="434.50" stroke="#000" stroke-width="1.15" stroke-dasharray="2.8 5.46" fill="none"/>
<line x1="12.8" y1="519.50" x2="486.0" y2="519.50" stroke="#000" stroke-width="1.15" stroke-dasharray="2.8 5.46" fill="none"/>
<polyline points="13.0,396.4 18.9,393.7 24.8,391.0 30.7,388.2 36.6,385.5 42.5,382.7 48.4,379.9 54.3,377.2 60.2,374.4 66.1,371.5 72.0,368.7 77.9,365.9 83.8,363.1 89.7,360.2 95.6,357.3 101.5,354.5 107.4,351.6 113.3,348.7 119.2,345.7 125.1,342.8 131.0,339.9 136.9,336.9 142.8,334.0 148.7,331.0 154.6,328.0 160.5,325.0 166.4,322.0 172.3,319.0 178.2,316.0 184.1,313.0 190.0,309.9 195.9,306.8 201.8,303.8 207.7,300.7 213.6,297.6 219.5,294.5 225.4,291.4 231.3,288.2 237.2,285.1 243.1,282.0 248.9,278.8 254.8,275.6 260.7,272.4 266.6,269.2 272.5,266.0 278.4,262.8 284.3,259.6 290.2,256.3 296.1,253.1 302.0,249.8 307.9,246.5 313.8,243.2 319.7,239.9 325.6,236.6 331.5,233.3 337.4,230.0 343.3,226.6 349.2,223.3 355.1,219.9 361.0,216.5 366.9,213.1 372.8,209.7 378.7,206.3 384.6,202.9 390.5,199.4 396.4,196.0 402.3,192.5 408.2,189.1 414.1,185.6 420.0,182.1 425.9,178.6 431.8,175.1 437.7,171.5 443.6,168.0 449.5,164.4 455.4,160.9 461.3,157.3 467.2,153.7 473.1,150.1 479.0,146.5" stroke="#000" stroke-width="1.1" fill="none" stroke-dasharray="12 11.45"/>
<polyline points="13.0,501.5 18.9,498.8 24.9,496.1 30.8,493.3 36.7,490.6 42.7,487.9 48.6,485.1 54.6,482.4 60.5,479.6 66.4,476.8 72.4,474.0 78.3,471.2 84.2,468.4 90.2,465.6 96.1,462.7 102.1,459.9 108.0,457.0 113.9,454.1 119.9,451.3 125.8,448.4 131.7,445.5 137.7,442.5 143.6,439.6 149.5,436.7 155.5,433.7 161.4,430.8 167.4,427.8 173.3,424.8 179.2,421.8 185.2,418.8 191.1,415.8 197.0,412.8 203.0,409.8 208.9,406.7 214.8,403.7 220.8,400.6 226.7,397.5 232.7,394.4 238.6,391.3 244.5,388.2 250.5,385.1 256.4,382.0 262.3,378.8 268.3,375.7 274.2,372.5 280.2,369.3 286.1,366.2 292.0,363.0 298.0,359.8 303.9,356.5 309.8,353.3 315.8,350.1 321.7,346.8 327.6,343.6 333.6,340.3 339.5,337.0 345.5,333.7 351.4,330.4 357.3,327.1 363.3,323.8 369.2,320.4 375.1,317.1 381.1,313.7 387.0,310.3 392.9,307.0 398.9,303.6 404.8,300.2 410.8,296.8 416.7,293.3 422.6,289.9 428.6,286.4 434.5,283.0 440.4,279.5 446.4,276.0 452.3,272.5 458.3,269.0 464.2,265.5 470.1,262.0 476.1,258.5 482.0,254.9" stroke="#000" stroke-width="1.1" fill="none" stroke-dasharray="12 11.45"/>
<text x="36.6" y="286.7" font-size="12.2" text-anchor="middle">76</text>
<text x="115.4" y="286.7" font-size="12.2" text-anchor="middle">78</text>
<text x="194.1" y="286.7" font-size="12.2" text-anchor="middle">80</text>
<text x="272.9" y="286.7" font-size="12.2" text-anchor="middle">82</text>
<text x="351.6" y="286.7" font-size="12.2" text-anchor="middle">84</text>
<text x="430.4" y="286.7" font-size="12.2" text-anchor="middle">86</text>
<text x="253.4" y="97.1" font-size="12.2" text-anchor="middle">-18</text>
<text x="253.4" y="181.6" font-size="12.2" text-anchor="middle">-20</text>
<text x="253.4" y="266.1" font-size="12.2" text-anchor="middle">-22</text>
<text x="253.4" y="350.6" font-size="12.2" text-anchor="middle">-24</text>
<text x="253.4" y="435.1" font-size="12.2" text-anchor="middle">-26</text>
<text x="253.4" y="519.6" font-size="12.2" text-anchor="middle">-28</text>
<rect x="242.9" y="292.1" width="13" height="4.7" fill="#000"/><rect x="247.1" y="288.0" width="4.7" height="13" fill="#000"/>

<text x="36.5" y="66.0" font-size="25">2A25 near surface rainrate (mm/hr)</text>
<text x="456.5" y="523.0" font-size="29" text-anchor="middle">(c)</text>
<rect x="495.2" y="531.48" width="8.8" height="8.76" fill="#88dd88"/>
<rect x="495.2" y="523.01" width="8.8" height="8.76" fill="#80d680"/>
<rect x="495.2" y="514.55" width="8.8" height="8.76" fill="#78cf78"/>
<rect x="495.2" y="506.09" width="8.8" height="8.76" fill="#70c870"/>
<rect x="495.2" y="497.63" width="8.8" height="8.76" fill="#6ac06a"/>
<rect x="495.2" y="489.17" width="8.8" height="8.76" fill="#64b964"/>
<rect x="495.2" y="480.70" width="8.8" height="8.76" fill="#60b060"/>
<rect x="495.2" y="472.24" width="8.8" height="8.76" fill="#ccd4ff"/>
<rect x="495.2" y="463.78" width="8.8" height="8.76" fill="#bbccff"/>
<rect x="495.2" y="455.32" width="8.8" height="8.76" fill="#aac4ff"/>
<rect x="495.2" y="446.86" width="8.8" height="8.76" fill="#90bcff"/>
<rect x="495.2" y="438.39" width="8.8" height="8.76" fill="#77b4ff"/>
<rect x="495.2" y="429.93" width="8.8" height="8.76" fill="#66afff"/>
<rect x="495.2" y="421.47" width="8.8" height="8.76" fill="#55aaff"/>
<rect x="495.2" y="413.01" width="8.8" height="8.76" fill="#4c99ff"/>
<rect x="495.2" y="404.55" width="8.8" height="8.76" fill="#4488ff"/>
<rect x="495.2" y="396.08" width="8.8" height="8.76" fill="#3c77ff"/>
<rect x="495.2" y="387.62" width="8.8" height="8.76" fill="#3366ff"/>
<rect x="495.2" y="379.16" width="8.8" height="8.76" fill="#2e47ff"/>
<rect x="495.2" y="370.70" width="8.8" height="8.76" fill="#2828ff"/>
<rect x="495.2" y="362.24" width="8.8" height="8.76" fill="#0000ff"/>
<rect x="495.2" y="353.77" width="8.8" height="8.76" fill="#0000ff"/>
<rect x="495.2" y="345.31" width="8.8" height="8.76" fill="#0000f0"/>
<rect x="495.2" y="336.85" width="8.8" height="8.76" fill="#0000e0"/>
<rect x="495.2" y="328.39" width="8.8" height="8.76" fill="#0000d4"/>
<rect x="495.2" y="319.93" width="8.8" height="8.76" fill="#0000c8"/>
<rect x="495.2" y="311.46" width="8.8" height="8.76" fill="#0000c0"/>
<rect x="495.2" y="303.00" width="8.8" height="8.76" fill="#ffff00"/>
<rect x="495.2" y="294.54" width="8.8" height="8.76" fill="#fff400"/>
<rect x="495.2" y="286.08" width="8.8" height="8.76" fill="#ffe800"/>
<rect x="495.2" y="277.62" width="8.8" height="8.76" fill="#ffdc00"/>
<rect x="495.2" y="269.15" width="8.8" height="8.76" fill="#ffd200"/>
<rect x="495.2" y="260.69" width="8.8" height="8.76" fill="#ffc800"/>
<rect x="495.2" y="252.23" width="8.8" height="8.76" fill="#ffc000"/>
<rect x="495.2" y="243.77" width="8.8" height="8.76" fill="#ff8c00"/>
<rect x="495.2" y="235.31" width="8.8" height="8.76" fill="#ff8400"/>
<rect x="495.2" y="226.84" width="8.8" height="8.76" fill="#ff7c00"/>
<rect x="495.2" y="218.38" width="8.8" height="8.76" fill="#ff7400"/>
<rect x="495.2" y="209.92" width="8.8" height="8.76" fill="#ff6c00"/>
<rect x="495.2" y="201.46" width="8.8" height="8.76" fill="#ff6400"/>
<rect x="495.2" y="193.00" width="8.8" height="8.76" fill="#ff4000"/>
<rect x="495.2" y="184.53" width="8.8" height="8.76" fill="#ff3800"/>
<rect x="495.2" y="176.07" width="8.8" height="8.76" fill="#ff3000"/>
<rect x="495.2" y="167.61" width="8.8" height="8.76" fill="#ff2800"/>
<rect x="495.2" y="159.15" width="8.8" height="8.76" fill="#ff2000"/>
<rect x="495.2" y="150.69" width="8.8" height="8.76" fill="#ff1800"/>
<rect x="495.2" y="142.22" width="8.8" height="8.76" fill="#ff1000"/>
<rect x="495.2" y="133.76" width="8.8" height="8.76" fill="#cc0000"/>
<rect x="495.2" y="125.30" width="8.8" height="8.76" fill="#c80000"/>
<rect x="495.2" y="116.84" width="8.8" height="8.76" fill="#c00000"/>
<rect x="495.2" y="108.38" width="8.8" height="8.76" fill="#b40000"/>
<rect x="495.2" y="99.91" width="8.8" height="8.76" fill="#a80000"/>
<rect x="495.2" y="91.45" width="8.8" height="8.76" fill="#9c0400"/>
<rect x="495.2" y="82.99" width="8.8" height="8.76" fill="#900800"/>
<rect x="495.2" y="74.53" width="8.8" height="8.76" fill="#620c08"/>
<rect x="495.2" y="66.07" width="8.8" height="8.76" fill="#5e1210"/>
<rect x="495.2" y="57.60" width="8.8" height="8.76" fill="#5c1612"/>
<rect x="495.2" y="49.14" width="8.8" height="8.76" fill="#5a1816"/>
<rect x="495.2" y="40.68" width="8.8" height="8.76" fill="#5a1a18"/>
<line x1="504.0" y1="91.5" x2="506.6" y2="91.5" stroke="#000" stroke-width="1"/>
<text x="524.0" y="99.8" font-size="19.6" text-anchor="middle">54</text>
<line x1="504.0" y1="142.2" x2="506.6" y2="142.2" stroke="#000" stroke-width="1"/>
<text x="524.0" y="150.5" font-size="19.6" text-anchor="middle">48</text>
<line x1="504.0" y1="193.0" x2="506.6" y2="193.0" stroke="#000" stroke-width="1"/>
<text x="524.0" y="201.3" font-size="19.6" text-anchor="middle">42</text>
<line x1="504.0" y1="243.8" x2="506.6" y2="243.8" stroke="#000" stroke-width="1"/>
<text x="524.0" y="252.1" font-size="19.6" text-anchor="middle">36</text>
<line x1="504.0" y1="294.5" x2="506.6" y2="294.5" stroke="#000" stroke-width="1"/>
<text x="524.0" y="302.8" font-size="19.6" text-anchor="middle">30</text>
<line x1="504.0" y1="345.3" x2="506.6" y2="345.3" stroke="#000" stroke-width="1"/>
<text x="524.0" y="353.6" font-size="19.6" text-anchor="middle">24</text>
<line x1="504.0" y1="396.1" x2="506.6" y2="396.1" stroke="#000" stroke-width="1"/>
<text x="524.0" y="404.4" font-size="19.6" text-anchor="middle">18</text>
<line x1="504.0" y1="446.9" x2="506.6" y2="446.9" stroke="#000" stroke-width="1"/>
<text x="524.0" y="455.2" font-size="19.6" text-anchor="middle">12</text>
<line x1="504.0" y1="497.6" x2="506.6" y2="497.6" stroke="#000" stroke-width="1"/>
<text x="524.0" y="505.9" font-size="19.6" text-anchor="middle">6</text>
<line x1="504.0" y1="548.4" x2="506.6" y2="548.4" stroke="#000" stroke-width="1"/>
<text x="524.0" y="556.7" font-size="19.6" text-anchor="middle">0</text>
</g><g transform="translate(0,590.5)">
<g clip-path="url(#mapclip)">
<polygon points="12.9,264.3 20.9,260.6 28.9,256.9 37.0,253.1 45.0,249.4 53.0,245.6 61.0,241.7 69.0,237.9 77.0,234.0 85.1,230.1 93.1,226.2 101.1,222.2 109.1,218.2 117.1,214.2 125.2,210.2 133.2,206.1 141.2,202.0 149.2,197.9 157.2,193.8 165.3,189.6 173.3,185.4 181.3,181.2 189.3,177.0 197.3,172.7 205.3,168.4 213.4,164.1 221.4,159.8 229.4,155.4 237.4,151.0 245.4,146.6 253.5,142.2 261.5,137.7 269.5,133.2 277.5,128.7 285.5,124.2 293.6,119.6 301.6,115.0 309.6,110.4 317.6,105.7 325.6,101.1 333.6,96.4 341.7,91.6 349.7,86.9 357.7,82.1 365.7,77.3 373.7,72.5 381.8,67.7 389.8,62.8 397.8,57.9 405.8,53.0 413.8,48.0 421.9,43.0 429.9,40.8 437.9,40.8 445.9,40.8 453.9,40.8 461.9,40.8 470.0,40.8 478.0,40.8 486.0,40.8 486.0,396.9 478.0,401.5 470.0,406.0 461.9,410.6 453.9,415.1 445.9,419.6 437.9,424.1 429.9,428.6 421.9,433.0 413.8,437.5 405.8,441.9 397.8,446.3 389.8,450.7 381.8,455.1 373.7,459.5 365.7,463.9 357.7,468.2 349.7,472.5 341.7,476.8 333.6,481.1 325.6,485.4 317.6,489.6 309.6,493.9 301.6,498.1 293.6,502.3 285.5,506.5 277.5,510.7 269.5,514.9 261.5,519.0 253.5,523.2 245.4,527.3 237.4,531.4 229.4,535.5 221.4,539.5 213.4,543.6 205.3,547.6 197.3,548.6 189.3,548.6 181.3,548.6 173.3,548.6 165.3,548.6 157.2,548.6 149.2,548.6 141.2,548.6 133.2,548.6 125.2,548.6 117.1,548.6 109.1,548.6 101.1,548.6 93.1,548.6 85.1,548.6 77.0,548.6 69.0,548.6 61.0,548.6 53.0,548.6 45.0,548.6 37.0,548.6 28.9,548.6 20.9,548.6 12.9,548.6" fill="url(#ptD)"/><g clip-path="url(#clipTMI)"></g>

</g>
<line x1="36.50" y1="40.95" x2="36.50" y2="549.0" stroke="#000" stroke-width="1.15" stroke-dasharray="2.8 5.48" fill="none"/>
<line x1="115.50" y1="40.95" x2="115.50" y2="549.0" stroke="#000" stroke-width="1.15" stroke-dasharray="2.8 5.48" fill="none"/>
<line x1="194.50" y1="40.95" x2="194.50" y2="549.0" stroke="#000" stroke-width="1.15" stroke-dasharray="2.8 5.48" fill="none"/>
<line x1="272.50" y1="40.95" x2="272.50" y2="549.0" stroke="#000" stroke-width="1.15" stroke-dasharray="2.8 5.48" fill="none"/>
<line x1="351.50" y1="40.95" x2="351.50" y2="549.0" stroke="#000" stroke-width="1.15" stroke-dasharray="2.8 5.48" fill="none"/>
<line x1="430.50" y1="40.95" x2="430.50" y2="549.0" stroke="#000" stroke-width="1.15" stroke-dasharray="2.8 5.48" fill="none"/>
<line x1="12.8" y1="97.00" x2="486.0" y2="97.00" stroke="#000" stroke-width="1.15" stroke-dasharray="2.8 5.46" fill="none"/>
<line x1="12.8" y1="181.00" x2="486.0" y2="181.00" stroke="#000" stroke-width="1.15" stroke-dasharray="2.8 5.46" fill="none"/>
<line x1="12.8" y1="266.00" x2="486.0" y2="266.00" stroke="#000" stroke-width="1.15" stroke-dasharray="2.8 5.46" fill="none"/>
<line x1="12.8" y1="350.00" x2="486.0" y2="350.00" stroke="#000" stroke-width="1.15" stroke-dasharray="2.8 5.46" fill="none"/>
<line x1="12.8" y1="435.00" x2="486.0" y2="435.00" stroke="#000" stroke-width="1.15" stroke-dasharray="2.8 5.46" fill="none"/>
<line x1="12.8" y1="519.00" x2="486.0" y2="519.00" stroke="#000" stroke-width="1.15" stroke-dasharray="2.8 5.46" fill="none"/>
<polyline points="13.0,396.4 18.9,393.7 24.8,391.0 30.7,388.2 36.6,385.5 42.5,382.7 48.4,379.9 54.3,377.2 60.2,374.4 66.1,371.5 72.0,368.7 77.9,365.9 83.8,363.1 89.7,360.2 95.6,357.3 101.5,354.5 107.4,351.6 113.3,348.7 119.2,345.7 125.1,342.8 131.0,339.9 136.9,336.9 142.8,334.0 148.7,331.0 154.6,328.0 160.5,325.0 166.4,322.0 172.3,319.0 178.2,316.0 184.1,313.0 190.0,309.9 195.9,306.8 201.8,303.8 207.7,300.7 213.6,297.6 219.5,294.5 225.4,291.4 231.3,288.2 237.2,285.1 243.1,282.0 248.9,278.8 254.8,275.6 260.7,272.4 266.6,269.2 272.5,266.0 278.4,262.8 284.3,259.6 290.2,256.3 296.1,253.1 302.0,249.8 307.9,246.5 313.8,243.2 319.7,239.9 325.6,236.6 331.5,233.3 337.4,230.0 343.3,226.6 349.2,223.3 355.1,219.9 361.0,216.5 366.9,213.1 372.8,209.7 378.7,206.3 384.6,202.9 390.5,199.4 396.4,196.0 402.3,192.5 408.2,189.1 414.1,185.6 420.0,182.1 425.9,178.6 431.8,175.1 437.7,171.5 443.6,168.0 449.5,164.4 455.4,160.9 461.3,157.3 467.2,153.7 473.1,150.1 479.0,146.5" stroke="#000" stroke-width="1.1" fill="none" stroke-dasharray="12 11.45"/>
<polyline points="13.0,501.5 18.9,498.8 24.9,496.1 30.8,493.3 36.7,490.6 42.7,487.9 48.6,485.1 54.6,482.4 60.5,479.6 66.4,476.8 72.4,474.0 78.3,471.2 84.2,468.4 90.2,465.6 96.1,462.7 102.1,459.9 108.0,457.0 113.9,454.1 119.9,451.3 125.8,448.4 131.7,445.5 137.7,442.5 143.6,439.6 149.5,436.7 155.5,433.7 161.4,430.8 167.4,427.8 173.3,424.8 179.2,421.8 185.2,418.8 191.1,415.8 197.0,412.8 203.0,409.8 208.9,406.7 214.8,403.7 220.8,400.6 226.7,397.5 232.7,394.4 238.6,391.3 244.5,388.2 250.5,385.1 256.4,382.0 262.3,378.8 268.3,375.7 274.2,372.5 280.2,369.3 286.1,366.2 292.0,363.0 298.0,359.8 303.9,356.5 309.8,353.3 315.8,350.1 321.7,346.8 327.6,343.6 333.6,340.3 339.5,337.0 345.5,333.7 351.4,330.4 357.3,327.1 363.3,323.8 369.2,320.4 375.1,317.1 381.1,313.7 387.0,310.3 392.9,307.0 398.9,303.6 404.8,300.2 410.8,296.8 416.7,293.3 422.6,289.9 428.6,286.4 434.5,283.0 440.4,279.5 446.4,276.0 452.3,272.5 458.3,269.0 464.2,265.5 470.1,262.0 476.1,258.5 482.0,254.9" stroke="#000" stroke-width="1.1" fill="none" stroke-dasharray="12 11.45"/>
<text x="36.6" y="286.7" font-size="12.2" text-anchor="middle">76</text>
<text x="115.4" y="286.7" font-size="12.2" text-anchor="middle">78</text>
<text x="194.1" y="286.7" font-size="12.2" text-anchor="middle">80</text>
<text x="272.9" y="286.7" font-size="12.2" text-anchor="middle">82</text>
<text x="351.6" y="286.7" font-size="12.2" text-anchor="middle">84</text>
<text x="430.4" y="286.7" font-size="12.2" text-anchor="middle">86</text>
<text x="253.4" y="97.1" font-size="12.2" text-anchor="middle">-18</text>
<text x="253.4" y="181.6" font-size="12.2" text-anchor="middle">-20</text>
<text x="253.4" y="266.1" font-size="12.2" text-anchor="middle">-22</text>
<text x="253.4" y="350.6" font-size="12.2" text-anchor="middle">-24</text>
<text x="253.4" y="435.1" font-size="12.2" text-anchor="middle">-26</text>
<text x="253.4" y="519.6" font-size="12.2" text-anchor="middle">-28</text>
<rect x="242.9" y="292.1" width="13" height="4.7" fill="#000"/><rect x="247.1" y="288.0" width="4.7" height="13" fill="#000"/>

<text x="36.5" y="66.0" font-size="25">&#160;85GHz PCT (K)</text>
<text x="456.5" y="523.0" font-size="29" text-anchor="middle">(d)</text>
<rect x="495.2" y="531.48" width="8.8" height="8.76" fill="#f6f6f6"/>
<rect x="495.2" y="523.01" width="8.8" height="8.76" fill="#eeeeee"/>
<rect x="495.2" y="514.55" width="8.8" height="8.76" fill="#e6e6e6"/>
<rect x="495.2" y="506.09" width="8.8" height="8.76" fill="#dedede"/>
<rect x="495.2" y="497.63" width="8.8" height="8.76" fill="#d6d6d6"/>
<rect x="495.2" y="489.17" width="8.8" height="8.76" fill="#cecece"/>
<rect x="495.2" y="480.70" width="8.8" height="8.76" fill="#c6c6c6"/>
<rect x="495.2" y="472.24" width="8.8" height="8.76" fill="#bebebe"/>
<rect x="495.2" y="463.78" width="8.8" height="8.76" fill="#b6b6b6"/>
<rect x="495.2" y="455.32" width="8.8" height="8.76" fill="#aeaeae"/>
<rect x="495.2" y="446.86" width="8.8" height="8.76" fill="#a6a6a6"/>
<rect x="495.2" y="438.39" width="8.8" height="8.76" fill="#9e9e9e"/>
<rect x="495.2" y="429.93" width="8.8" height="8.76" fill="#969696"/>
<rect x="495.2" y="421.47" width="8.8" height="8.76" fill="#8e8e8e"/>
<rect x="495.2" y="413.01" width="8.8" height="8.76" fill="#88dd88"/>
<rect x="495.2" y="404.55" width="8.8" height="8.76" fill="#7ad27a"/>
<rect x="495.2" y="396.08" width="8.8" height="8.76" fill="#6fca6f"/>
<rect x="495.2" y="387.62" width="8.8" height="8.76" fill="#66c066"/>
<rect x="495.2" y="379.16" width="8.8" height="8.76" fill="#62b662"/>
<rect x="495.2" y="370.70" width="8.8" height="8.76" fill="#ccd4ff"/>
<rect x="495.2" y="362.24" width="8.8" height="8.76" fill="#b4c8ff"/>
<rect x="495.2" y="353.77" width="8.8" height="8.76" fill="#9cc0ff"/>
<rect x="495.2" y="345.31" width="8.8" height="8.76" fill="#84b8ff"/>
<rect x="495.2" y="336.85" width="8.8" height="8.76" fill="#6cb2ff"/>
<rect x="495.2" y="328.39" width="8.8" height="8.76" fill="#55aaff"/>
<rect x="495.2" y="319.93" width="8.8" height="8.76" fill="#4a98ff"/>
<rect x="495.2" y="311.46" width="8.8" height="8.76" fill="#4080ff"/>
<rect x="495.2" y="303.00" width="8.8" height="8.76" fill="#3a6cff"/>
<rect x="495.2" y="294.54" width="8.8" height="8.76" fill="#3355ff"/>
<rect x="495.2" y="286.08" width="8.8" height="8.76" fill="#2a3cff"/>
<rect x="495.2" y="277.62" width="8.8" height="8.76" fill="#1a1aff"/>
<rect x="495.2" y="269.15" width="8.8" height="8.76" fill="#0000ff"/>
<rect x="495.2" y="260.69" width="8.8" height="8.76" fill="#0000e0"/>
<rect x="495.2" y="252.23" width="8.8" height="8.76" fill="#0000c4"/>
<rect x="495.2" y="243.77" width="8.8" height="8.76" fill="#ffff00"/>
<rect x="495.2" y="235.31" width="8.8" height="8.76" fill="#ffee00"/>
<rect x="495.2" y="226.84" width="8.8" height="8.76" fill="#ffe000"/>
<rect x="495.2" y="218.38" width="8.8" height="8.76" fill="#ffd400"/>
<rect x="495.2" y="209.92" width="8.8" height="8.76" fill="#ffc800"/>
<rect x="495.2" y="201.46" width="8.8" height="8.76" fill="#ff8a00"/>
<rect x="495.2" y="193.00" width="8.8" height="8.76" fill="#ff8000"/>
<rect x="495.2" y="184.53" width="8.8" height="8.76" fill="#ff7800"/>
<rect x="495.2" y="176.07" width="8.8" height="8.76" fill="#ff7000"/>
<rect x="495.2" y="167.61" width="8.8" height="8.76" fill="#ff6800"/>
<rect x="495.2" y="159.15" width="8.8" height="8.76" fill="#ff3a00"/>
<rect x="495.2" y="150.69" width="8.8" height="8.76" fill="#ff3000"/>
<rect x="495.2" y="142.22" width="8.8" height="8.76" fill="#ff2400"/>
<rect x="495.2" y="133.76" width="8.8" height="8.76" fill="#ff1800"/>
<rect x="495.2" y="125.30" width="8.8" height="8.76" fill="#ff1000"/>
<rect x="495.2" y="116.84" width="8.8" height="8.76" fill="#c80000"/>
<rect x="495.2" y="108.38" width="8.8" height="8.76" fill="#c00000"/>
<rect x="495.2" y="99.91" width="8.8" height="8.76" fill="#b00000"/>
<rect x="495.2" y="91.45" width="8.8" height="8.76" fill="#a40000"/>
<rect x="495.2" y="82.99" width="8.8" height="8.76" fill="#980800"/>
<rect x="495.2" y="74.53" width="8.8" height="8.76" fill="#620c08"/>
<rect x="495.2" y="66.07" width="8.8" height="8.76" fill="#5e1210"/>
<rect x="495.2" y="57.60" width="8.8" height="8.76" fill="#5c1612"/>
<rect x="495.2" y="49.14" width="8.8" height="8.76" fill="#5a1816"/>
<rect x="495.2" y="40.68" width="8.8" height="8.76" fill="#5a1a18"/>
<line x1="504.0" y1="91.5" x2="506.6" y2="91.5" stroke="#000" stroke-width="1"/>
<text x="523.0" y="99.8" font-size="19.6" text-anchor="middle">111</text>
<line x1="504.0" y1="142.2" x2="506.6" y2="142.2" stroke="#000" stroke-width="1"/>
<text x="523.0" y="150.5" font-size="19.6" text-anchor="middle">132</text>
<line x1="504.0" y1="193.0" x2="506.6" y2="193.0" stroke="#000" stroke-width="1"/>
<text x="523.0" y="201.3" font-size="19.6" text-anchor="middle">153</text>
<line x1="504.0" y1="243.8" x2="506.6" y2="243.8" stroke="#000" stroke-width="1"/>
<text x="523.0" y="252.1" font-size="19.6" text-anchor="middle">174</text>
<line x1="504.0" y1="294.5" x2="506.6" y2="294.5" stroke="#000" stroke-width="1"/>
<text x="523.0" y="302.8" font-size="19.6" text-anchor="middle">195</text>
<line x1="504.0" y1="345.3" x2="506.6" y2="345.3" stroke="#000" stroke-width="1"/>
<text x="523.0" y="353.6" font-size="19.6" text-anchor="middle">216</text>
<line x1="504.0" y1="396.1" x2="506.6" y2="396.1" stroke="#000" stroke-width="1"/>
<text x="523.0" y="404.4" font-size="19.6" text-anchor="middle">237</text>
<line x1="504.0" y1="446.9" x2="506.6" y2="446.9" stroke="#000" stroke-width="1"/>
<text x="523.0" y="455.2" font-size="19.6" text-anchor="middle">258</text>
<line x1="504.0" y1="497.6" x2="506.6" y2="497.6" stroke="#000" stroke-width="1"/>
<text x="523.0" y="505.9" font-size="19.6" text-anchor="middle">279</text>
<line x1="504.0" y1="548.4" x2="506.6" y2="548.4" stroke="#000" stroke-width="1"/>
<text x="523.0" y="556.7" font-size="19.6" text-anchor="middle">300</text>
</g><g transform="translate(590.5,590.5)">
<g clip-path="url(#mapclip)">
<polygon points="12.9,264.3 20.9,260.6 28.9,256.9 37.0,253.1 45.0,249.4 53.0,245.6 61.0,241.7 69.0,237.9 77.0,234.0 85.1,230.1 93.1,226.2 101.1,222.2 109.1,218.2 117.1,214.2 125.2,210.2 133.2,206.1 141.2,202.0 149.2,197.9 157.2,193.8 165.3,189.6 173.3,185.4 181.3,181.2 189.3,177.0 197.3,172.7 205.3,168.4 213.4,164.1 221.4,159.8 229.4,155.4 237.4,151.0 245.4,146.6 253.5,142.2 261.5,137.7 269.5,133.2 277.5,128.7 285.5,124.2 293.6,119.6 301.6,115.0 309.6,110.4 317.6,105.7 325.6,101.1 333.6,96.4 341.7,91.6 349.7,86.9 357.7,82.1 365.7,77.3 373.7,72.5 381.8,67.7 389.8,62.8 397.8,57.9 405.8,53.0 413.8,48.0 421.9,43.0 429.9,40.8 437.9,40.8 445.9,40.8 453.9,40.8 461.9,40.8 470.0,40.8 478.0,40.8 486.0,40.8 486.0,396.9 478.0,401.5 470.0,406.0 461.9,410.6 453.9,415.1 445.9,419.6 437.9,424.1 429.9,428.6 421.9,433.0 413.8,437.5 405.8,441.9 397.8,446.3 389.8,450.7 381.8,455.1 373.7,459.5 365.7,463.9 357.7,468.2 349.7,472.5 341.7,476.8 333.6,481.1 325.6,485.4 317.6,489.6 309.6,493.9 301.6,498.1 293.6,502.3 285.5,506.5 277.5,510.7 269.5,514.9 261.5,519.0 253.5,523.2 245.4,527.3 237.4,531.4 229.4,535.5 221.4,539.5 213.4,543.6 205.3,547.6 197.3,548.6 189.3,548.6 181.3,548.6 173.3,548.6 165.3,548.6 157.2,548.6 149.2,548.6 141.2,548.6 133.2,548.6 125.2,548.6 117.1,548.6 109.1,548.6 101.1,548.6 93.1,548.6 85.1,548.6 77.0,548.6 69.0,548.6 61.0,548.6 53.0,548.6 45.0,548.6 37.0,548.6 28.9,548.6 20.9,548.6 12.9,548.6" fill="url(#ptE)"/><g clip-path="url(#clipTMI)"><path d="M127.4,99.5h3.1v3.1h-3.1zM198.7,102.6h3.1v3.1h-3.1zM158.4,105.7h3.1v3.1h-3.1zM239.0,105.7h3.1v3.1h-3.1zM310.3,105.7h3.1v3.1h-3.1zM341.3,105.7h3.1v3.1h-3.1zM263.8,108.8h3.1v3.1h-3.1zM115.0,115.0h3.1v3.1h-3.1zM189.4,118.1h3.1v3.1h-3.1zM121.2,121.2h3.1v3.1h-3.1zM266.9,121.2h3.1v3.1h-3.1zM235.9,124.3h3.1v3.1h-3.1zM322.7,127.4h3.1v3.1h-3.1zM366.1,127.4h3.1v3.1h-3.1zM136.7,133.6h3.1v3.1h-3.1zM363.0,133.6h3.1v3.1h-3.1zM130.5,139.8h3.1v3.1h-3.1zM186.3,139.8h3.1v3.1h-3.1zM263.8,139.8h3.1v3.1h-3.1zM266.9,139.8h3.1v3.1h-3.1zM270.0,139.8h3.1v3.1h-3.1zM276.2,139.8h3.1v3.1h-3.1zM257.6,142.9h3.1v3.1h-3.1zM263.8,142.9h3.1v3.1h-3.1zM266.9,142.9h3.1v3.1h-3.1zM273.1,142.9h3.1v3.1h-3.1zM276.2,142.9h3.1v3.1h-3.1zM301.0,142.9h3.1v3.1h-3.1zM254.5,146.0h3.1v3.1h-3.1zM257.6,146.0h3.1v3.1h-3.1zM260.7,146.0h3.1v3.1h-3.1zM263.8,146.0h3.1v3.1h-3.1zM266.9,146.0h3.1v3.1h-3.1zM270.0,146.0h3.1v3.1h-3.1zM276.2,146.0h3.1v3.1h-3.1zM356.8,146.0h3.1v3.1h-3.1zM124.3,149.1h3.1v3.1h-3.1zM254.5,149.1h3.1v3.1h-3.1zM257.6,149.1h3.1v3.1h-3.1zM263.8,149.1h3.1v3.1h-3.1zM270.0,149.1h3.1v3.1h-3.1zM273.1,149.1h3.1v3.1h-3.1zM307.2,149.1h3.1v3.1h-3.1zM313.4,149.1h3.1v3.1h-3.1zM136.7,152.2h3.1v3.1h-3.1zM242.1,152.2h3.1v3.1h-3.1zM245.2,152.2h3.1v3.1h-3.1zM248.3,152.2h3.1v3.1h-3.1zM251.4,152.2h3.1v3.1h-3.1zM260.7,152.2h3.1v3.1h-3.1zM266.9,152.2h3.1v3.1h-3.1zM270.0,152.2h3.1v3.1h-3.1zM273.1,152.2h3.1v3.1h-3.1zM276.2,152.2h3.1v3.1h-3.1zM288.6,152.2h3.1v3.1h-3.1zM232.8,155.3h3.1v3.1h-3.1zM235.9,155.3h3.1v3.1h-3.1zM239.0,155.3h3.1v3.1h-3.1zM242.1,155.3h3.1v3.1h-3.1zM248.3,155.3h3.1v3.1h-3.1zM251.4,155.3h3.1v3.1h-3.1zM257.6,155.3h3.1v3.1h-3.1zM263.8,155.3h3.1v3.1h-3.1zM270.0,155.3h3.1v3.1h-3.1zM276.2,155.3h3.1v3.1h-3.1zM291.7,155.3h3.1v3.1h-3.1zM297.9,155.3h3.1v3.1h-3.1zM313.4,155.3h3.1v3.1h-3.1zM118.1,158.4h3.1v3.1h-3.1zM220.4,158.4h3.1v3.1h-3.1zM223.5,158.4h3.1v3.1h-3.1zM229.7,158.4h3.1v3.1h-3.1zM235.9,158.4h3.1v3.1h-3.1zM239.0,158.4h3.1v3.1h-3.1zM245.2,158.4h3.1v3.1h-3.1zM248.3,158.4h3.1v3.1h-3.1zM254.5,158.4h3.1v3.1h-3.1zM273.1,158.4h3.1v3.1h-3.1zM276.2,158.4h3.1v3.1h-3.1zM291.7,158.4h3.1v3.1h-3.1zM307.2,158.4h3.1v3.1h-3.1zM208.0,161.5h3.1v3.1h-3.1zM211.1,161.5h3.1v3.1h-3.1zM214.2,161.5h3.1v3.1h-3.1zM220.4,161.5h3.1v3.1h-3.1zM223.5,161.5h3.1v3.1h-3.1zM226.6,161.5h3.1v3.1h-3.1zM239.0,161.5h3.1v3.1h-3.1zM242.1,161.5h3.1v3.1h-3.1zM245.2,161.5h3.1v3.1h-3.1zM248.3,161.5h3.1v3.1h-3.1zM254.5,161.5h3.1v3.1h-3.1zM257.6,161.5h3.1v3.1h-3.1zM263.8,161.5h3.1v3.1h-3.1zM266.9,161.5h3.1v3.1h-3.1zM279.3,161.5h3.1v3.1h-3.1zM294.8,161.5h3.1v3.1h-3.1zM297.9,161.5h3.1v3.1h-3.1zM304.1,161.5h3.1v3.1h-3.1zM201.8,164.6h3.1v3.1h-3.1zM204.9,164.6h3.1v3.1h-3.1zM211.1,164.6h3.1v3.1h-3.1zM217.3,164.6h3.1v3.1h-3.1zM223.5,164.6h3.1v3.1h-3.1zM226.6,164.6h3.1v3.1h-3.1zM229.7,164.6h3.1v3.1h-3.1zM232.8,164.6h3.1v3.1h-3.1zM242.1,164.6h3.1v3.1h-3.1zM251.4,164.6h3.1v3.1h-3.1zM266.9,164.6h3.1v3.1h-3.1zM270.0,164.6h3.1v3.1h-3.1zM273.1,164.6h3.1v3.1h-3.1zM276.2,164.6h3.1v3.1h-3.1zM279.3,164.6h3.1v3.1h-3.1zM282.4,164.6h3.1v3.1h-3.1zM285.5,164.6h3.1v3.1h-3.1zM195.6,167.7h3.1v3.1h-3.1zM198.7,167.7h3.1v3.1h-3.1zM201.8,167.7h3.1v3.1h-3.1zM204.9,167.7h3.1v3.1h-3.1zM208.0,167.7h3.1v3.1h-3.1zM217.3,167.7h3.1v3.1h-3.1zM223.5,167.7h3.1v3.1h-3.1zM229.7,167.7h3.1v3.1h-3.1zM232.8,167.7h3.1v3.1h-3.1zM239.0,167.7h3.1v3.1h-3.1zM242.1,167.7h3.1v3.1h-3.1zM248.3,167.7h3.1v3.1h-3.1zM251.4,167.7h3.1v3.1h-3.1zM257.6,167.7h3.1v3.1h-3.1zM266.9,167.7h3.1v3.1h-3.1zM270.0,167.7h3.1v3.1h-3.1zM273.1,167.7h3.1v3.1h-3.1zM276.2,167.7h3.1v3.1h-3.1zM279.3,167.7h3.1v3.1h-3.1zM288.6,167.7h3.1v3.1h-3.1zM186.3,170.8h3.1v3.1h-3.1zM189.4,170.8h3.1v3.1h-3.1zM192.5,170.8h3.1v3.1h-3.1zM195.6,170.8h3.1v3.1h-3.1zM198.7,170.8h3.1v3.1h-3.1zM204.9,170.8h3.1v3.1h-3.1zM214.2,170.8h3.1v3.1h-3.1zM223.5,170.8h3.1v3.1h-3.1zM226.6,170.8h3.1v3.1h-3.1zM239.0,170.8h3.1v3.1h-3.1zM245.2,170.8h3.1v3.1h-3.1zM248.3,170.8h3.1v3.1h-3.1zM251.4,170.8h3.1v3.1h-3.1zM263.8,170.8h3.1v3.1h-3.1zM270.0,170.8h3.1v3.1h-3.1zM273.1,170.8h3.1v3.1h-3.1zM276.2,170.8h3.1v3.1h-3.1zM282.4,170.8h3.1v3.1h-3.1zM285.5,170.8h3.1v3.1h-3.1zM288.6,170.8h3.1v3.1h-3.1zM291.7,170.8h3.1v3.1h-3.1zM294.8,170.8h3.1v3.1h-3.1zM304.1,170.8h3.1v3.1h-3.1zM313.4,170.8h3.1v3.1h-3.1zM319.6,170.8h3.1v3.1h-3.1zM180.1,173.9h3.1v3.1h-3.1zM192.5,173.9h3.1v3.1h-3.1zM195.6,173.9h3.1v3.1h-3.1zM201.8,173.9h3.1v3.1h-3.1zM208.0,173.9h3.1v3.1h-3.1zM211.1,173.9h3.1v3.1h-3.1zM214.2,173.9h3.1v3.1h-3.1zM217.3,173.9h3.1v3.1h-3.1zM223.5,173.9h3.1v3.1h-3.1zM229.7,173.9h3.1v3.1h-3.1zM266.9,173.9h3.1v3.1h-3.1zM270.0,173.9h3.1v3.1h-3.1zM276.2,173.9h3.1v3.1h-3.1zM279.3,173.9h3.1v3.1h-3.1zM282.4,173.9h3.1v3.1h-3.1zM285.5,173.9h3.1v3.1h-3.1zM288.6,173.9h3.1v3.1h-3.1zM291.7,173.9h3.1v3.1h-3.1zM294.8,173.9h3.1v3.1h-3.1zM307.2,173.9h3.1v3.1h-3.1zM316.5,173.9h3.1v3.1h-3.1zM341.3,173.9h3.1v3.1h-3.1zM180.1,177.0h3.1v3.1h-3.1zM186.3,177.0h3.1v3.1h-3.1zM195.6,177.0h3.1v3.1h-3.1zM198.7,177.0h3.1v3.1h-3.1zM201.8,177.0h3.1v3.1h-3.1zM208.0,177.0h3.1v3.1h-3.1zM211.1,177.0h3.1v3.1h-3.1zM214.2,177.0h3.1v3.1h-3.1zM220.4,177.0h3.1v3.1h-3.1zM223.5,177.0h3.1v3.1h-3.1zM226.6,177.0h3.1v3.1h-3.1zM266.9,177.0h3.1v3.1h-3.1zM270.0,177.0h3.1v3.1h-3.1zM273.1,177.0h3.1v3.1h-3.1zM279.3,177.0h3.1v3.1h-3.1zM282.4,177.0h3.1v3.1h-3.1zM285.5,177.0h3.1v3.1h-3.1zM288.6,177.0h3.1v3.1h-3.1zM294.8,177.0h3.1v3.1h-3.1zM118.1,180.1h3.1v3.1h-3.1zM189.4,180.1h3.1v3.1h-3.1zM195.6,180.1h3.1v3.1h-3.1zM201.8,180.1h3.1v3.1h-3.1zM204.9,180.1h3.1v3.1h-3.1zM208.0,180.1h3.1v3.1h-3.1zM211.1,180.1h3.1v3.1h-3.1zM214.2,180.1h3.1v3.1h-3.1zM220.4,180.1h3.1v3.1h-3.1zM223.5,180.1h3.1v3.1h-3.1zM226.6,180.1h3.1v3.1h-3.1zM229.7,180.1h3.1v3.1h-3.1zM232.8,180.1h3.1v3.1h-3.1zM235.9,180.1h3.1v3.1h-3.1zM239.0,180.1h3.1v3.1h-3.1zM242.1,180.1h3.1v3.1h-3.1zM245.2,180.1h3.1v3.1h-3.1zM248.3,180.1h3.1v3.1h-3.1zM251.4,180.1h3.1v3.1h-3.1zM254.5,180.1h3.1v3.1h-3.1zM270.0,180.1h3.1v3.1h-3.1zM273.1,180.1h3.1v3.1h-3.1zM279.3,180.1h3.1v3.1h-3.1zM282.4,180.1h3.1v3.1h-3.1zM285.5,180.1h3.1v3.1h-3.1zM288.6,180.1h3.1v3.1h-3.1zM294.8,180.1h3.1v3.1h-3.1zM297.9,180.1h3.1v3.1h-3.1zM304.1,180.1h3.1v3.1h-3.1zM307.2,180.1h3.1v3.1h-3.1zM313.4,180.1h3.1v3.1h-3.1zM319.6,180.1h3.1v3.1h-3.1zM180.1,183.2h3.1v3.1h-3.1zM186.3,183.2h3.1v3.1h-3.1zM189.4,183.2h3.1v3.1h-3.1zM195.6,183.2h3.1v3.1h-3.1zM198.7,183.2h3.1v3.1h-3.1zM201.8,183.2h3.1v3.1h-3.1zM204.9,183.2h3.1v3.1h-3.1zM208.0,183.2h3.1v3.1h-3.1zM211.1,183.2h3.1v3.1h-3.1zM214.2,183.2h3.1v3.1h-3.1zM217.3,183.2h3.1v3.1h-3.1zM220.4,183.2h3.1v3.1h-3.1zM223.5,183.2h3.1v3.1h-3.1zM226.6,183.2h3.1v3.1h-3.1zM229.7,183.2h3.1v3.1h-3.1zM232.8,183.2h3.1v3.1h-3.1zM235.9,183.2h3.1v3.1h-3.1zM239.0,183.2h3.1v3.1h-3.1zM242.1,183.2h3.1v3.1h-3.1zM245.2,183.2h3.1v3.1h-3.1zM248.3,183.2h3.1v3.1h-3.1zM276.2,183.2h3.1v3.1h-3.1zM279.3,183.2h3.1v3.1h-3.1zM282.4,183.2h3.1v3.1h-3.1zM285.5,183.2h3.1v3.1h-3.1zM288.6,183.2h3.1v3.1h-3.1zM291.7,183.2h3.1v3.1h-3.1zM307.2,183.2h3.1v3.1h-3.1zM167.7,186.3h3.1v3.1h-3.1zM186.3,186.3h3.1v3.1h-3.1zM192.5,186.3h3.1v3.1h-3.1zM198.7,186.3h3.1v3.1h-3.1zM201.8,186.3h3.1v3.1h-3.1zM204.9,186.3h3.1v3.1h-3.1zM208.0,186.3h3.1v3.1h-3.1zM211.1,186.3h3.1v3.1h-3.1zM214.2,186.3h3.1v3.1h-3.1zM217.3,186.3h3.1v3.1h-3.1zM220.4,186.3h3.1v3.1h-3.1zM223.5,186.3h3.1v3.1h-3.1zM226.6,186.3h3.1v3.1h-3.1zM229.7,186.3h3.1v3.1h-3.1zM232.8,186.3h3.1v3.1h-3.1zM235.9,186.3h3.1v3.1h-3.1zM239.0,186.3h3.1v3.1h-3.1zM242.1,186.3h3.1v3.1h-3.1zM245.2,186.3h3.1v3.1h-3.1zM248.3,186.3h3.1v3.1h-3.1zM251.4,186.3h3.1v3.1h-3.1zM254.5,186.3h3.1v3.1h-3.1zM282.4,186.3h3.1v3.1h-3.1zM167.7,189.4h3.1v3.1h-3.1zM170.8,189.4h3.1v3.1h-3.1zM173.9,189.4h3.1v3.1h-3.1zM177.0,189.4h3.1v3.1h-3.1zM180.1,189.4h3.1v3.1h-3.1zM186.3,189.4h3.1v3.1h-3.1zM189.4,189.4h3.1v3.1h-3.1zM192.5,189.4h3.1v3.1h-3.1zM195.6,189.4h3.1v3.1h-3.1zM198.7,189.4h3.1v3.1h-3.1zM201.8,189.4h3.1v3.1h-3.1zM208.0,189.4h3.1v3.1h-3.1zM211.1,189.4h3.1v3.1h-3.1zM214.2,189.4h3.1v3.1h-3.1zM220.4,189.4h3.1v3.1h-3.1zM223.5,189.4h3.1v3.1h-3.1zM226.6,189.4h3.1v3.1h-3.1zM229.7,189.4h3.1v3.1h-3.1zM235.9,189.4h3.1v3.1h-3.1zM239.0,189.4h3.1v3.1h-3.1zM242.1,189.4h3.1v3.1h-3.1zM245.2,189.4h3.1v3.1h-3.1zM248.3,189.4h3.1v3.1h-3.1zM251.4,189.4h3.1v3.1h-3.1zM254.5,189.4h3.1v3.1h-3.1zM257.6,189.4h3.1v3.1h-3.1zM301.0,189.4h3.1v3.1h-3.1zM304.1,189.4h3.1v3.1h-3.1zM121.2,192.5h3.1v3.1h-3.1zM155.3,192.5h3.1v3.1h-3.1zM161.5,192.5h3.1v3.1h-3.1zM170.8,192.5h3.1v3.1h-3.1zM173.9,192.5h3.1v3.1h-3.1zM186.3,192.5h3.1v3.1h-3.1zM192.5,192.5h3.1v3.1h-3.1zM195.6,192.5h3.1v3.1h-3.1zM198.7,192.5h3.1v3.1h-3.1zM201.8,192.5h3.1v3.1h-3.1zM204.9,192.5h3.1v3.1h-3.1zM211.1,192.5h3.1v3.1h-3.1zM217.3,192.5h3.1v3.1h-3.1zM220.4,192.5h3.1v3.1h-3.1zM223.5,192.5h3.1v3.1h-3.1zM226.6,192.5h3.1v3.1h-3.1zM232.8,192.5h3.1v3.1h-3.1zM235.9,192.5h3.1v3.1h-3.1zM239.0,192.5h3.1v3.1h-3.1zM242.1,192.5h3.1v3.1h-3.1zM245.2,192.5h3.1v3.1h-3.1zM248.3,192.5h3.1v3.1h-3.1zM251.4,192.5h3.1v3.1h-3.1zM254.5,192.5h3.1v3.1h-3.1zM263.8,192.5h3.1v3.1h-3.1zM310.3,192.5h3.1v3.1h-3.1zM313.4,192.5h3.1v3.1h-3.1zM149.1,195.6h3.1v3.1h-3.1zM155.3,195.6h3.1v3.1h-3.1zM158.4,195.6h3.1v3.1h-3.1zM161.5,195.6h3.1v3.1h-3.1zM164.6,195.6h3.1v3.1h-3.1zM167.7,195.6h3.1v3.1h-3.1zM173.9,195.6h3.1v3.1h-3.1zM180.1,195.6h3.1v3.1h-3.1zM183.2,195.6h3.1v3.1h-3.1zM189.4,195.6h3.1v3.1h-3.1zM192.5,195.6h3.1v3.1h-3.1zM195.6,195.6h3.1v3.1h-3.1zM201.8,195.6h3.1v3.1h-3.1zM204.9,195.6h3.1v3.1h-3.1zM208.0,195.6h3.1v3.1h-3.1zM214.2,195.6h3.1v3.1h-3.1zM217.3,195.6h3.1v3.1h-3.1zM220.4,195.6h3.1v3.1h-3.1zM223.5,195.6h3.1v3.1h-3.1zM226.6,195.6h3.1v3.1h-3.1zM229.7,195.6h3.1v3.1h-3.1zM232.8,195.6h3.1v3.1h-3.1zM235.9,195.6h3.1v3.1h-3.1zM239.0,195.6h3.1v3.1h-3.1zM242.1,195.6h3.1v3.1h-3.1zM245.2,195.6h3.1v3.1h-3.1zM248.3,195.6h3.1v3.1h-3.1zM251.4,195.6h3.1v3.1h-3.1zM254.5,195.6h3.1v3.1h-3.1zM257.6,195.6h3.1v3.1h-3.1zM146.0,198.7h3.1v3.1h-3.1zM158.4,198.7h3.1v3.1h-3.1zM161.5,198.7h3.1v3.1h-3.1zM164.6,198.7h3.1v3.1h-3.1zM170.8,198.7h3.1v3.1h-3.1zM177.0,198.7h3.1v3.1h-3.1zM180.1,198.7h3.1v3.1h-3.1zM186.3,198.7h3.1v3.1h-3.1zM189.4,198.7h3.1v3.1h-3.1zM192.5,198.7h3.1v3.1h-3.1zM195.6,198.7h3.1v3.1h-3.1zM198.7,198.7h3.1v3.1h-3.1zM201.8,198.7h3.1v3.1h-3.1zM204.9,198.7h3.1v3.1h-3.1zM208.0,198.7h3.1v3.1h-3.1zM211.1,198.7h3.1v3.1h-3.1zM214.2,198.7h3.1v3.1h-3.1zM217.3,198.7h3.1v3.1h-3.1zM220.4,198.7h3.1v3.1h-3.1zM223.5,198.7h3.1v3.1h-3.1zM226.6,198.7h3.1v3.1h-3.1zM229.7,198.7h3.1v3.1h-3.1zM232.8,198.7h3.1v3.1h-3.1zM235.9,198.7h3.1v3.1h-3.1zM239.0,198.7h3.1v3.1h-3.1zM242.1,198.7h3.1v3.1h-3.1zM245.2,198.7h3.1v3.1h-3.1zM248.3,198.7h3.1v3.1h-3.1zM251.4,198.7h3.1v3.1h-3.1zM254.5,198.7h3.1v3.1h-3.1zM263.8,198.7h3.1v3.1h-3.1zM294.8,198.7h3.1v3.1h-3.1zM139.8,201.8h3.1v3.1h-3.1zM142.9,201.8h3.1v3.1h-3.1zM158.4,201.8h3.1v3.1h-3.1zM170.8,201.8h3.1v3.1h-3.1zM173.9,201.8h3.1v3.1h-3.1zM177.0,201.8h3.1v3.1h-3.1zM180.1,201.8h3.1v3.1h-3.1zM183.2,201.8h3.1v3.1h-3.1zM192.5,201.8h3.1v3.1h-3.1zM195.6,201.8h3.1v3.1h-3.1zM198.7,201.8h3.1v3.1h-3.1zM201.8,201.8h3.1v3.1h-3.1zM204.9,201.8h3.1v3.1h-3.1zM208.0,201.8h3.1v3.1h-3.1zM211.1,201.8h3.1v3.1h-3.1zM214.2,201.8h3.1v3.1h-3.1zM217.3,201.8h3.1v3.1h-3.1zM220.4,201.8h3.1v3.1h-3.1zM223.5,201.8h3.1v3.1h-3.1zM226.6,201.8h3.1v3.1h-3.1zM229.7,201.8h3.1v3.1h-3.1zM232.8,201.8h3.1v3.1h-3.1zM235.9,201.8h3.1v3.1h-3.1zM239.0,201.8h3.1v3.1h-3.1zM242.1,201.8h3.1v3.1h-3.1zM245.2,201.8h3.1v3.1h-3.1zM248.3,201.8h3.1v3.1h-3.1zM251.4,201.8h3.1v3.1h-3.1zM254.5,201.8h3.1v3.1h-3.1zM263.8,201.8h3.1v3.1h-3.1zM285.5,201.8h3.1v3.1h-3.1zM139.8,204.9h3.1v3.1h-3.1zM142.9,204.9h3.1v3.1h-3.1zM149.1,204.9h3.1v3.1h-3.1zM164.6,204.9h3.1v3.1h-3.1zM167.7,204.9h3.1v3.1h-3.1zM170.8,204.9h3.1v3.1h-3.1zM177.0,204.9h3.1v3.1h-3.1zM180.1,204.9h3.1v3.1h-3.1zM195.6,204.9h3.1v3.1h-3.1zM198.7,204.9h3.1v3.1h-3.1zM201.8,204.9h3.1v3.1h-3.1zM204.9,204.9h3.1v3.1h-3.1zM208.0,204.9h3.1v3.1h-3.1zM211.1,204.9h3.1v3.1h-3.1zM214.2,204.9h3.1v3.1h-3.1zM217.3,204.9h3.1v3.1h-3.1zM220.4,204.9h3.1v3.1h-3.1zM223.5,204.9h3.1v3.1h-3.1zM226.6,204.9h3.1v3.1h-3.1zM229.7,204.9h3.1v3.1h-3.1zM232.8,204.9h3.1v3.1h-3.1zM235.9,204.9h3.1v3.1h-3.1zM239.0,204.9h3.1v3.1h-3.1zM242.1,204.9h3.1v3.1h-3.1zM245.2,204.9h3.1v3.1h-3.1zM248.3,204.9h3.1v3.1h-3.1zM251.4,204.9h3.1v3.1h-3.1zM254.5,204.9h3.1v3.1h-3.1zM266.9,204.9h3.1v3.1h-3.1zM273.1,204.9h3.1v3.1h-3.1zM288.6,204.9h3.1v3.1h-3.1zM297.9,204.9h3.1v3.1h-3.1zM313.4,204.9h3.1v3.1h-3.1zM111.9,208.0h3.1v3.1h-3.1zM142.9,208.0h3.1v3.1h-3.1zM146.0,208.0h3.1v3.1h-3.1zM149.1,208.0h3.1v3.1h-3.1zM152.2,208.0h3.1v3.1h-3.1zM158.4,208.0h3.1v3.1h-3.1zM164.6,208.0h3.1v3.1h-3.1zM167.7,208.0h3.1v3.1h-3.1zM170.8,208.0h3.1v3.1h-3.1zM173.9,208.0h3.1v3.1h-3.1zM180.1,208.0h3.1v3.1h-3.1zM183.2,208.0h3.1v3.1h-3.1zM189.4,208.0h3.1v3.1h-3.1zM192.5,208.0h3.1v3.1h-3.1zM195.6,208.0h3.1v3.1h-3.1zM198.7,208.0h3.1v3.1h-3.1zM201.8,208.0h3.1v3.1h-3.1zM204.9,208.0h3.1v3.1h-3.1zM208.0,208.0h3.1v3.1h-3.1zM217.3,208.0h3.1v3.1h-3.1zM220.4,208.0h3.1v3.1h-3.1zM223.5,208.0h3.1v3.1h-3.1zM226.6,208.0h3.1v3.1h-3.1zM229.7,208.0h3.1v3.1h-3.1zM232.8,208.0h3.1v3.1h-3.1zM235.9,208.0h3.1v3.1h-3.1zM239.0,208.0h3.1v3.1h-3.1zM242.1,208.0h3.1v3.1h-3.1zM245.2,208.0h3.1v3.1h-3.1zM248.3,208.0h3.1v3.1h-3.1zM251.4,208.0h3.1v3.1h-3.1zM257.6,208.0h3.1v3.1h-3.1zM260.7,208.0h3.1v3.1h-3.1zM273.1,208.0h3.1v3.1h-3.1zM297.9,208.0h3.1v3.1h-3.1zM344.4,208.0h3.1v3.1h-3.1zM139.8,211.1h3.1v3.1h-3.1zM142.9,211.1h3.1v3.1h-3.1zM146.0,211.1h3.1v3.1h-3.1zM155.3,211.1h3.1v3.1h-3.1zM158.4,211.1h3.1v3.1h-3.1zM161.5,211.1h3.1v3.1h-3.1zM164.6,211.1h3.1v3.1h-3.1zM170.8,211.1h3.1v3.1h-3.1zM186.3,211.1h3.1v3.1h-3.1zM189.4,211.1h3.1v3.1h-3.1zM192.5,211.1h3.1v3.1h-3.1zM195.6,211.1h3.1v3.1h-3.1zM198.7,211.1h3.1v3.1h-3.1zM201.8,211.1h3.1v3.1h-3.1zM204.9,211.1h3.1v3.1h-3.1zM208.0,211.1h3.1v3.1h-3.1zM211.1,211.1h3.1v3.1h-3.1zM214.2,211.1h3.1v3.1h-3.1zM217.3,211.1h3.1v3.1h-3.1zM220.4,211.1h3.1v3.1h-3.1zM223.5,211.1h3.1v3.1h-3.1zM226.6,211.1h3.1v3.1h-3.1zM229.7,211.1h3.1v3.1h-3.1zM232.8,211.1h3.1v3.1h-3.1zM235.9,211.1h3.1v3.1h-3.1zM239.0,211.1h3.1v3.1h-3.1zM245.2,211.1h3.1v3.1h-3.1zM257.6,211.1h3.1v3.1h-3.1zM285.5,211.1h3.1v3.1h-3.1zM139.8,214.2h3.1v3.1h-3.1zM149.1,214.2h3.1v3.1h-3.1zM152.2,214.2h3.1v3.1h-3.1zM158.4,214.2h3.1v3.1h-3.1zM167.7,214.2h3.1v3.1h-3.1zM170.8,214.2h3.1v3.1h-3.1zM183.2,214.2h3.1v3.1h-3.1zM186.3,214.2h3.1v3.1h-3.1zM189.4,214.2h3.1v3.1h-3.1zM192.5,214.2h3.1v3.1h-3.1zM195.6,214.2h3.1v3.1h-3.1zM201.8,214.2h3.1v3.1h-3.1zM204.9,214.2h3.1v3.1h-3.1zM208.0,214.2h3.1v3.1h-3.1zM211.1,214.2h3.1v3.1h-3.1zM214.2,214.2h3.1v3.1h-3.1zM217.3,214.2h3.1v3.1h-3.1zM223.5,214.2h3.1v3.1h-3.1zM226.6,214.2h3.1v3.1h-3.1zM229.7,214.2h3.1v3.1h-3.1zM232.8,214.2h3.1v3.1h-3.1zM235.9,214.2h3.1v3.1h-3.1zM239.0,214.2h3.1v3.1h-3.1zM254.5,214.2h3.1v3.1h-3.1zM130.5,217.3h3.1v3.1h-3.1zM142.9,217.3h3.1v3.1h-3.1zM149.1,217.3h3.1v3.1h-3.1zM161.5,217.3h3.1v3.1h-3.1zM164.6,217.3h3.1v3.1h-3.1zM170.8,217.3h3.1v3.1h-3.1zM173.9,217.3h3.1v3.1h-3.1zM177.0,217.3h3.1v3.1h-3.1zM183.2,217.3h3.1v3.1h-3.1zM186.3,217.3h3.1v3.1h-3.1zM192.5,217.3h3.1v3.1h-3.1zM195.6,217.3h3.1v3.1h-3.1zM198.7,217.3h3.1v3.1h-3.1zM201.8,217.3h3.1v3.1h-3.1zM204.9,217.3h3.1v3.1h-3.1zM211.1,217.3h3.1v3.1h-3.1zM214.2,217.3h3.1v3.1h-3.1zM217.3,217.3h3.1v3.1h-3.1zM223.5,217.3h3.1v3.1h-3.1zM226.6,217.3h3.1v3.1h-3.1zM232.8,217.3h3.1v3.1h-3.1zM133.6,220.4h3.1v3.1h-3.1zM164.6,220.4h3.1v3.1h-3.1zM170.8,220.4h3.1v3.1h-3.1zM177.0,220.4h3.1v3.1h-3.1zM183.2,220.4h3.1v3.1h-3.1zM189.4,220.4h3.1v3.1h-3.1zM195.6,220.4h3.1v3.1h-3.1zM198.7,220.4h3.1v3.1h-3.1zM201.8,220.4h3.1v3.1h-3.1zM204.9,220.4h3.1v3.1h-3.1zM208.0,220.4h3.1v3.1h-3.1zM214.2,220.4h3.1v3.1h-3.1zM217.3,220.4h3.1v3.1h-3.1zM220.4,220.4h3.1v3.1h-3.1zM223.5,220.4h3.1v3.1h-3.1zM226.6,220.4h3.1v3.1h-3.1zM229.7,220.4h3.1v3.1h-3.1zM350.6,220.4h3.1v3.1h-3.1zM149.1,223.5h3.1v3.1h-3.1zM152.2,223.5h3.1v3.1h-3.1zM158.4,223.5h3.1v3.1h-3.1zM164.6,223.5h3.1v3.1h-3.1zM173.9,223.5h3.1v3.1h-3.1zM177.0,223.5h3.1v3.1h-3.1zM180.1,223.5h3.1v3.1h-3.1zM254.5,223.5h3.1v3.1h-3.1zM291.7,223.5h3.1v3.1h-3.1zM108.8,226.6h3.1v3.1h-3.1zM158.4,226.6h3.1v3.1h-3.1zM161.5,226.6h3.1v3.1h-3.1zM164.6,226.6h3.1v3.1h-3.1zM167.7,226.6h3.1v3.1h-3.1zM170.8,226.6h3.1v3.1h-3.1zM173.9,226.6h3.1v3.1h-3.1zM177.0,226.6h3.1v3.1h-3.1zM180.1,226.6h3.1v3.1h-3.1zM183.2,226.6h3.1v3.1h-3.1zM186.3,226.6h3.1v3.1h-3.1zM189.4,226.6h3.1v3.1h-3.1zM192.5,226.6h3.1v3.1h-3.1zM301.0,226.6h3.1v3.1h-3.1zM158.4,229.7h3.1v3.1h-3.1zM161.5,229.7h3.1v3.1h-3.1zM164.6,229.7h3.1v3.1h-3.1zM167.7,229.7h3.1v3.1h-3.1zM170.8,229.7h3.1v3.1h-3.1zM173.9,229.7h3.1v3.1h-3.1zM177.0,229.7h3.1v3.1h-3.1zM180.1,229.7h3.1v3.1h-3.1zM189.4,229.7h3.1v3.1h-3.1zM192.5,229.7h3.1v3.1h-3.1zM217.3,229.7h3.1v3.1h-3.1zM316.5,229.7h3.1v3.1h-3.1zM139.8,232.8h3.1v3.1h-3.1zM158.4,232.8h3.1v3.1h-3.1zM161.5,232.8h3.1v3.1h-3.1zM164.6,232.8h3.1v3.1h-3.1zM167.7,232.8h3.1v3.1h-3.1zM170.8,232.8h3.1v3.1h-3.1zM173.9,232.8h3.1v3.1h-3.1zM183.2,232.8h3.1v3.1h-3.1zM186.3,232.8h3.1v3.1h-3.1zM189.4,232.8h3.1v3.1h-3.1zM192.5,232.8h3.1v3.1h-3.1zM285.5,232.8h3.1v3.1h-3.1zM164.6,235.9h3.1v3.1h-3.1zM167.7,235.9h3.1v3.1h-3.1zM170.8,235.9h3.1v3.1h-3.1zM173.9,235.9h3.1v3.1h-3.1zM177.0,235.9h3.1v3.1h-3.1zM180.1,235.9h3.1v3.1h-3.1zM186.3,235.9h3.1v3.1h-3.1zM189.4,235.9h3.1v3.1h-3.1zM192.5,235.9h3.1v3.1h-3.1zM198.7,235.9h3.1v3.1h-3.1zM239.0,235.9h3.1v3.1h-3.1zM118.1,239.0h3.1v3.1h-3.1zM177.0,239.0h3.1v3.1h-3.1zM183.2,239.0h3.1v3.1h-3.1zM186.3,239.0h3.1v3.1h-3.1zM189.4,239.0h3.1v3.1h-3.1zM161.5,242.1h3.1v3.1h-3.1zM170.8,242.1h3.1v3.1h-3.1zM183.2,242.1h3.1v3.1h-3.1zM307.2,242.1h3.1v3.1h-3.1zM338.2,242.1h3.1v3.1h-3.1zM115.0,245.2h3.1v3.1h-3.1zM136.7,245.2h3.1v3.1h-3.1zM142.9,245.2h3.1v3.1h-3.1zM198.7,245.2h3.1v3.1h-3.1zM341.3,245.2h3.1v3.1h-3.1zM133.6,248.3h3.1v3.1h-3.1zM177.0,248.3h3.1v3.1h-3.1zM263.8,248.3h3.1v3.1h-3.1zM133.6,251.4h3.1v3.1h-3.1zM146.0,251.4h3.1v3.1h-3.1zM149.1,251.4h3.1v3.1h-3.1zM170.8,251.4h3.1v3.1h-3.1zM297.9,251.4h3.1v3.1h-3.1zM130.5,254.5h3.1v3.1h-3.1zM133.6,254.5h3.1v3.1h-3.1zM183.2,254.5h3.1v3.1h-3.1zM186.3,254.5h3.1v3.1h-3.1zM130.5,257.6h3.1v3.1h-3.1zM146.0,257.6h3.1v3.1h-3.1zM164.6,257.6h3.1v3.1h-3.1zM177.0,257.6h3.1v3.1h-3.1zM192.5,257.6h3.1v3.1h-3.1zM195.6,257.6h3.1v3.1h-3.1zM201.8,257.6h3.1v3.1h-3.1zM133.6,260.7h3.1v3.1h-3.1zM161.5,260.7h3.1v3.1h-3.1zM177.0,260.7h3.1v3.1h-3.1zM115.0,263.8h3.1v3.1h-3.1zM257.6,266.9h3.1v3.1h-3.1zM338.2,266.9h3.1v3.1h-3.1zM25.0,425.0h3.1v3.1h-3.1zM25.0,428.1h3.1v3.1h-3.1zM15.7,434.3h3.1v3.1h-3.1zM34.3,434.3h3.1v3.1h-3.1zM68.4,465.3h3.1v3.1h-3.1zM74.6,465.3h3.1v3.1h-3.1zM83.9,465.3h3.1v3.1h-3.1zM87.0,465.3h3.1v3.1h-3.1zM71.5,468.4h3.1v3.1h-3.1zM77.7,468.4h3.1v3.1h-3.1zM83.9,468.4h3.1v3.1h-3.1zM71.5,471.5h3.1v3.1h-3.1zM74.6,471.5h3.1v3.1h-3.1zM77.7,471.5h3.1v3.1h-3.1zM80.8,471.5h3.1v3.1h-3.1zM83.9,471.5h3.1v3.1h-3.1zM90.1,471.5h3.1v3.1h-3.1zM93.2,471.5h3.1v3.1h-3.1zM96.3,471.5h3.1v3.1h-3.1zM105.6,471.5h3.1v3.1h-3.1zM52.9,474.6h3.1v3.1h-3.1zM65.3,474.6h3.1v3.1h-3.1zM68.4,474.6h3.1v3.1h-3.1zM71.5,474.6h3.1v3.1h-3.1zM77.7,474.6h3.1v3.1h-3.1zM80.8,474.6h3.1v3.1h-3.1zM90.1,474.6h3.1v3.1h-3.1zM93.2,474.6h3.1v3.1h-3.1zM102.5,474.6h3.1v3.1h-3.1zM108.7,474.6h3.1v3.1h-3.1zM40.5,477.7h3.1v3.1h-3.1zM46.7,477.7h3.1v3.1h-3.1zM49.8,477.7h3.1v3.1h-3.1zM56.0,477.7h3.1v3.1h-3.1zM59.1,477.7h3.1v3.1h-3.1zM68.4,477.7h3.1v3.1h-3.1zM71.5,477.7h3.1v3.1h-3.1zM74.6,477.7h3.1v3.1h-3.1zM77.7,477.7h3.1v3.1h-3.1zM83.9,477.7h3.1v3.1h-3.1zM87.0,477.7h3.1v3.1h-3.1zM90.1,477.7h3.1v3.1h-3.1zM96.3,477.7h3.1v3.1h-3.1zM40.5,480.8h3.1v3.1h-3.1zM52.9,480.8h3.1v3.1h-3.1zM56.0,480.8h3.1v3.1h-3.1zM59.1,480.8h3.1v3.1h-3.1zM65.3,480.8h3.1v3.1h-3.1zM71.5,480.8h3.1v3.1h-3.1zM74.6,480.8h3.1v3.1h-3.1zM77.7,480.8h3.1v3.1h-3.1zM83.9,480.8h3.1v3.1h-3.1zM87.0,480.8h3.1v3.1h-3.1zM93.2,480.8h3.1v3.1h-3.1zM99.4,480.8h3.1v3.1h-3.1zM102.5,480.8h3.1v3.1h-3.1zM105.6,480.8h3.1v3.1h-3.1zM108.7,480.8h3.1v3.1h-3.1zM21.9,483.9h3.1v3.1h-3.1zM43.6,483.9h3.1v3.1h-3.1zM56.0,483.9h3.1v3.1h-3.1zM62.2,483.9h3.1v3.1h-3.1zM68.4,483.9h3.1v3.1h-3.1zM71.5,483.9h3.1v3.1h-3.1zM80.8,483.9h3.1v3.1h-3.1zM83.9,483.9h3.1v3.1h-3.1zM87.0,483.9h3.1v3.1h-3.1zM99.4,483.9h3.1v3.1h-3.1zM102.5,483.9h3.1v3.1h-3.1zM9.5,487.0h3.1v3.1h-3.1zM12.6,487.0h3.1v3.1h-3.1zM34.3,487.0h3.1v3.1h-3.1zM37.4,487.0h3.1v3.1h-3.1zM49.8,487.0h3.1v3.1h-3.1zM52.9,487.0h3.1v3.1h-3.1zM56.0,487.0h3.1v3.1h-3.1zM59.1,487.0h3.1v3.1h-3.1zM62.2,487.0h3.1v3.1h-3.1zM74.6,487.0h3.1v3.1h-3.1zM77.7,487.0h3.1v3.1h-3.1zM80.8,487.0h3.1v3.1h-3.1zM87.0,487.0h3.1v3.1h-3.1zM96.3,487.0h3.1v3.1h-3.1zM102.5,487.0h3.1v3.1h-3.1zM108.7,487.0h3.1v3.1h-3.1zM111.8,487.0h3.1v3.1h-3.1zM114.9,487.0h3.1v3.1h-3.1zM12.6,490.1h3.1v3.1h-3.1zM15.7,490.1h3.1v3.1h-3.1zM46.7,490.1h3.1v3.1h-3.1zM56.0,490.1h3.1v3.1h-3.1zM59.1,490.1h3.1v3.1h-3.1zM62.2,490.1h3.1v3.1h-3.1zM68.4,490.1h3.1v3.1h-3.1zM71.5,490.1h3.1v3.1h-3.1zM74.6,490.1h3.1v3.1h-3.1zM80.8,490.1h3.1v3.1h-3.1zM83.9,490.1h3.1v3.1h-3.1zM93.2,490.1h3.1v3.1h-3.1zM96.3,490.1h3.1v3.1h-3.1zM99.4,490.1h3.1v3.1h-3.1zM102.5,490.1h3.1v3.1h-3.1zM108.7,490.1h3.1v3.1h-3.1zM114.9,490.1h3.1v3.1h-3.1zM118.0,490.1h3.1v3.1h-3.1zM12.6,493.2h3.1v3.1h-3.1zM40.5,493.2h3.1v3.1h-3.1zM43.6,493.2h3.1v3.1h-3.1zM46.7,493.2h3.1v3.1h-3.1zM52.9,493.2h3.1v3.1h-3.1zM62.2,493.2h3.1v3.1h-3.1zM65.3,493.2h3.1v3.1h-3.1zM71.5,493.2h3.1v3.1h-3.1zM80.8,493.2h3.1v3.1h-3.1zM90.1,493.2h3.1v3.1h-3.1zM124.2,493.2h3.1v3.1h-3.1zM145.9,493.2h3.1v3.1h-3.1zM15.7,496.3h3.1v3.1h-3.1zM28.1,496.3h3.1v3.1h-3.1zM40.5,496.3h3.1v3.1h-3.1zM46.7,496.3h3.1v3.1h-3.1zM49.8,496.3h3.1v3.1h-3.1zM52.9,496.3h3.1v3.1h-3.1zM56.0,496.3h3.1v3.1h-3.1zM68.4,496.3h3.1v3.1h-3.1zM71.5,496.3h3.1v3.1h-3.1zM74.6,496.3h3.1v3.1h-3.1zM77.7,496.3h3.1v3.1h-3.1zM80.8,496.3h3.1v3.1h-3.1zM93.2,496.3h3.1v3.1h-3.1zM105.6,496.3h3.1v3.1h-3.1zM108.7,496.3h3.1v3.1h-3.1zM111.8,496.3h3.1v3.1h-3.1zM149.0,496.3h3.1v3.1h-3.1zM161.4,496.3h3.1v3.1h-3.1zM167.6,496.3h3.1v3.1h-3.1zM173.8,496.3h3.1v3.1h-3.1zM176.9,496.3h3.1v3.1h-3.1zM9.5,499.4h3.1v3.1h-3.1zM12.6,499.4h3.1v3.1h-3.1zM15.7,499.4h3.1v3.1h-3.1zM18.8,499.4h3.1v3.1h-3.1zM25.0,499.4h3.1v3.1h-3.1zM28.1,499.4h3.1v3.1h-3.1zM34.3,499.4h3.1v3.1h-3.1zM40.5,499.4h3.1v3.1h-3.1zM43.6,499.4h3.1v3.1h-3.1zM52.9,499.4h3.1v3.1h-3.1zM59.1,499.4h3.1v3.1h-3.1zM65.3,499.4h3.1v3.1h-3.1zM71.5,499.4h3.1v3.1h-3.1zM74.6,499.4h3.1v3.1h-3.1zM77.7,499.4h3.1v3.1h-3.1zM80.8,499.4h3.1v3.1h-3.1zM83.9,499.4h3.1v3.1h-3.1zM90.1,499.4h3.1v3.1h-3.1zM93.2,499.4h3.1v3.1h-3.1zM99.4,499.4h3.1v3.1h-3.1zM102.5,499.4h3.1v3.1h-3.1zM118.0,499.4h3.1v3.1h-3.1zM133.5,499.4h3.1v3.1h-3.1zM136.6,499.4h3.1v3.1h-3.1zM139.7,499.4h3.1v3.1h-3.1zM164.5,499.4h3.1v3.1h-3.1zM167.6,499.4h3.1v3.1h-3.1zM180.0,499.4h3.1v3.1h-3.1zM15.7,502.5h3.1v3.1h-3.1zM18.8,502.5h3.1v3.1h-3.1zM25.0,502.5h3.1v3.1h-3.1zM28.1,502.5h3.1v3.1h-3.1zM31.2,502.5h3.1v3.1h-3.1zM43.6,502.5h3.1v3.1h-3.1zM46.7,502.5h3.1v3.1h-3.1zM49.8,502.5h3.1v3.1h-3.1zM56.0,502.5h3.1v3.1h-3.1zM59.1,502.5h3.1v3.1h-3.1zM62.2,502.5h3.1v3.1h-3.1zM65.3,502.5h3.1v3.1h-3.1zM68.4,502.5h3.1v3.1h-3.1zM71.5,502.5h3.1v3.1h-3.1zM74.6,502.5h3.1v3.1h-3.1zM77.7,502.5h3.1v3.1h-3.1zM87.0,502.5h3.1v3.1h-3.1zM90.1,502.5h3.1v3.1h-3.1zM93.2,502.5h3.1v3.1h-3.1zM96.3,502.5h3.1v3.1h-3.1zM102.5,502.5h3.1v3.1h-3.1zM111.8,502.5h3.1v3.1h-3.1zM127.3,502.5h3.1v3.1h-3.1zM136.6,502.5h3.1v3.1h-3.1zM139.7,502.5h3.1v3.1h-3.1zM142.8,502.5h3.1v3.1h-3.1zM158.3,502.5h3.1v3.1h-3.1zM12.6,505.6h3.1v3.1h-3.1zM15.7,505.6h3.1v3.1h-3.1zM18.8,505.6h3.1v3.1h-3.1zM25.0,505.6h3.1v3.1h-3.1zM31.2,505.6h3.1v3.1h-3.1zM37.4,505.6h3.1v3.1h-3.1zM40.5,505.6h3.1v3.1h-3.1zM49.8,505.6h3.1v3.1h-3.1zM59.1,505.6h3.1v3.1h-3.1zM62.2,505.6h3.1v3.1h-3.1zM65.3,505.6h3.1v3.1h-3.1zM68.4,505.6h3.1v3.1h-3.1zM71.5,505.6h3.1v3.1h-3.1zM77.7,505.6h3.1v3.1h-3.1zM80.8,505.6h3.1v3.1h-3.1zM83.9,505.6h3.1v3.1h-3.1zM96.3,505.6h3.1v3.1h-3.1zM99.4,505.6h3.1v3.1h-3.1zM102.5,505.6h3.1v3.1h-3.1zM105.6,505.6h3.1v3.1h-3.1zM114.9,505.6h3.1v3.1h-3.1zM118.0,505.6h3.1v3.1h-3.1zM121.1,505.6h3.1v3.1h-3.1zM124.2,505.6h3.1v3.1h-3.1zM155.2,505.6h3.1v3.1h-3.1zM158.3,505.6h3.1v3.1h-3.1zM170.7,505.6h3.1v3.1h-3.1zM192.4,505.6h3.1v3.1h-3.1zM9.5,508.7h3.1v3.1h-3.1zM12.6,508.7h3.1v3.1h-3.1zM15.7,508.7h3.1v3.1h-3.1zM21.9,508.7h3.1v3.1h-3.1zM25.0,508.7h3.1v3.1h-3.1zM28.1,508.7h3.1v3.1h-3.1zM31.2,508.7h3.1v3.1h-3.1zM34.3,508.7h3.1v3.1h-3.1zM40.5,508.7h3.1v3.1h-3.1zM46.7,508.7h3.1v3.1h-3.1zM52.9,508.7h3.1v3.1h-3.1zM56.0,508.7h3.1v3.1h-3.1zM59.1,508.7h3.1v3.1h-3.1zM62.2,508.7h3.1v3.1h-3.1zM68.4,508.7h3.1v3.1h-3.1zM71.5,508.7h3.1v3.1h-3.1zM74.6,508.7h3.1v3.1h-3.1zM80.8,508.7h3.1v3.1h-3.1zM83.9,508.7h3.1v3.1h-3.1zM90.1,508.7h3.1v3.1h-3.1zM93.2,508.7h3.1v3.1h-3.1zM96.3,508.7h3.1v3.1h-3.1zM99.4,508.7h3.1v3.1h-3.1zM114.9,508.7h3.1v3.1h-3.1zM118.0,508.7h3.1v3.1h-3.1zM121.1,508.7h3.1v3.1h-3.1zM124.2,508.7h3.1v3.1h-3.1zM127.3,508.7h3.1v3.1h-3.1zM130.4,508.7h3.1v3.1h-3.1zM133.5,508.7h3.1v3.1h-3.1zM136.6,508.7h3.1v3.1h-3.1zM164.5,508.7h3.1v3.1h-3.1zM167.6,508.7h3.1v3.1h-3.1zM173.8,508.7h3.1v3.1h-3.1zM176.9,508.7h3.1v3.1h-3.1zM183.1,508.7h3.1v3.1h-3.1zM9.5,511.8h3.1v3.1h-3.1zM15.7,511.8h3.1v3.1h-3.1zM18.8,511.8h3.1v3.1h-3.1zM21.9,511.8h3.1v3.1h-3.1zM28.1,511.8h3.1v3.1h-3.1zM31.2,511.8h3.1v3.1h-3.1zM37.4,511.8h3.1v3.1h-3.1zM40.5,511.8h3.1v3.1h-3.1zM43.6,511.8h3.1v3.1h-3.1zM49.8,511.8h3.1v3.1h-3.1zM56.0,511.8h3.1v3.1h-3.1zM62.2,511.8h3.1v3.1h-3.1zM65.3,511.8h3.1v3.1h-3.1zM71.5,511.8h3.1v3.1h-3.1zM74.6,511.8h3.1v3.1h-3.1zM80.8,511.8h3.1v3.1h-3.1zM83.9,511.8h3.1v3.1h-3.1zM90.1,511.8h3.1v3.1h-3.1zM96.3,511.8h3.1v3.1h-3.1zM99.4,511.8h3.1v3.1h-3.1zM102.5,511.8h3.1v3.1h-3.1zM105.6,511.8h3.1v3.1h-3.1zM108.7,511.8h3.1v3.1h-3.1zM111.8,511.8h3.1v3.1h-3.1zM114.9,511.8h3.1v3.1h-3.1zM118.0,511.8h3.1v3.1h-3.1zM121.1,511.8h3.1v3.1h-3.1zM124.2,511.8h3.1v3.1h-3.1zM127.3,511.8h3.1v3.1h-3.1zM130.4,511.8h3.1v3.1h-3.1zM133.5,511.8h3.1v3.1h-3.1zM136.6,511.8h3.1v3.1h-3.1zM139.7,511.8h3.1v3.1h-3.1zM145.9,511.8h3.1v3.1h-3.1zM189.3,511.8h3.1v3.1h-3.1zM12.6,514.9h3.1v3.1h-3.1zM15.7,514.9h3.1v3.1h-3.1zM18.8,514.9h3.1v3.1h-3.1zM25.0,514.9h3.1v3.1h-3.1zM28.1,514.9h3.1v3.1h-3.1zM31.2,514.9h3.1v3.1h-3.1zM37.4,514.9h3.1v3.1h-3.1zM43.6,514.9h3.1v3.1h-3.1zM52.9,514.9h3.1v3.1h-3.1zM59.1,514.9h3.1v3.1h-3.1zM62.2,514.9h3.1v3.1h-3.1zM65.3,514.9h3.1v3.1h-3.1zM68.4,514.9h3.1v3.1h-3.1zM74.6,514.9h3.1v3.1h-3.1zM99.4,514.9h3.1v3.1h-3.1zM102.5,514.9h3.1v3.1h-3.1zM114.9,514.9h3.1v3.1h-3.1zM118.0,514.9h3.1v3.1h-3.1zM121.1,514.9h3.1v3.1h-3.1zM124.2,514.9h3.1v3.1h-3.1zM127.3,514.9h3.1v3.1h-3.1zM130.4,514.9h3.1v3.1h-3.1zM133.5,514.9h3.1v3.1h-3.1zM136.6,514.9h3.1v3.1h-3.1zM142.8,514.9h3.1v3.1h-3.1zM149.0,514.9h3.1v3.1h-3.1zM158.3,514.9h3.1v3.1h-3.1zM173.8,514.9h3.1v3.1h-3.1zM176.9,514.9h3.1v3.1h-3.1zM195.5,514.9h3.1v3.1h-3.1zM9.5,518.0h3.1v3.1h-3.1zM12.6,518.0h3.1v3.1h-3.1zM15.7,518.0h3.1v3.1h-3.1zM18.8,518.0h3.1v3.1h-3.1zM21.9,518.0h3.1v3.1h-3.1zM25.0,518.0h3.1v3.1h-3.1zM28.1,518.0h3.1v3.1h-3.1zM31.2,518.0h3.1v3.1h-3.1zM34.3,518.0h3.1v3.1h-3.1zM37.4,518.0h3.1v3.1h-3.1zM40.5,518.0h3.1v3.1h-3.1zM43.6,518.0h3.1v3.1h-3.1zM46.7,518.0h3.1v3.1h-3.1zM49.8,518.0h3.1v3.1h-3.1zM52.9,518.0h3.1v3.1h-3.1zM56.0,518.0h3.1v3.1h-3.1zM59.1,518.0h3.1v3.1h-3.1zM62.2,518.0h3.1v3.1h-3.1zM65.3,518.0h3.1v3.1h-3.1zM68.4,518.0h3.1v3.1h-3.1zM71.5,518.0h3.1v3.1h-3.1zM74.6,518.0h3.1v3.1h-3.1zM77.7,518.0h3.1v3.1h-3.1zM80.8,518.0h3.1v3.1h-3.1zM83.9,518.0h3.1v3.1h-3.1zM87.0,518.0h3.1v3.1h-3.1zM90.1,518.0h3.1v3.1h-3.1zM93.2,518.0h3.1v3.1h-3.1zM96.3,518.0h3.1v3.1h-3.1zM99.4,518.0h3.1v3.1h-3.1zM102.5,518.0h3.1v3.1h-3.1zM105.6,518.0h3.1v3.1h-3.1zM108.7,518.0h3.1v3.1h-3.1zM111.8,518.0h3.1v3.1h-3.1zM114.9,518.0h3.1v3.1h-3.1zM118.0,518.0h3.1v3.1h-3.1zM121.1,518.0h3.1v3.1h-3.1zM124.2,518.0h3.1v3.1h-3.1zM127.3,518.0h3.1v3.1h-3.1zM130.4,518.0h3.1v3.1h-3.1zM133.5,518.0h3.1v3.1h-3.1zM136.6,518.0h3.1v3.1h-3.1zM139.7,518.0h3.1v3.1h-3.1zM142.8,518.0h3.1v3.1h-3.1zM145.9,518.0h3.1v3.1h-3.1zM164.5,518.0h3.1v3.1h-3.1zM186.2,518.0h3.1v3.1h-3.1zM9.5,521.1h3.1v3.1h-3.1zM12.6,521.1h3.1v3.1h-3.1zM15.7,521.1h3.1v3.1h-3.1zM18.8,521.1h3.1v3.1h-3.1zM21.9,521.1h3.1v3.1h-3.1zM25.0,521.1h3.1v3.1h-3.1zM28.1,521.1h3.1v3.1h-3.1zM31.2,521.1h3.1v3.1h-3.1zM34.3,521.1h3.1v3.1h-3.1zM37.4,521.1h3.1v3.1h-3.1zM40.5,521.1h3.1v3.1h-3.1zM43.6,521.1h3.1v3.1h-3.1zM46.7,521.1h3.1v3.1h-3.1zM49.8,521.1h3.1v3.1h-3.1zM52.9,521.1h3.1v3.1h-3.1zM56.0,521.1h3.1v3.1h-3.1zM59.1,521.1h3.1v3.1h-3.1zM62.2,521.1h3.1v3.1h-3.1zM65.3,521.1h3.1v3.1h-3.1zM68.4,521.1h3.1v3.1h-3.1zM71.5,521.1h3.1v3.1h-3.1zM74.6,521.1h3.1v3.1h-3.1zM77.7,521.1h3.1v3.1h-3.1zM80.8,521.1h3.1v3.1h-3.1zM83.9,521.1h3.1v3.1h-3.1zM87.0,521.1h3.1v3.1h-3.1zM90.1,521.1h3.1v3.1h-3.1zM93.2,521.1h3.1v3.1h-3.1zM96.3,521.1h3.1v3.1h-3.1zM99.4,521.1h3.1v3.1h-3.1zM108.7,521.1h3.1v3.1h-3.1zM111.8,521.1h3.1v3.1h-3.1zM114.9,521.1h3.1v3.1h-3.1zM118.0,521.1h3.1v3.1h-3.1zM121.1,521.1h3.1v3.1h-3.1zM124.2,521.1h3.1v3.1h-3.1zM127.3,521.1h3.1v3.1h-3.1zM130.4,521.1h3.1v3.1h-3.1zM133.5,521.1h3.1v3.1h-3.1zM136.6,521.1h3.1v3.1h-3.1zM139.7,521.1h3.1v3.1h-3.1zM142.8,521.1h3.1v3.1h-3.1zM145.9,521.1h3.1v3.1h-3.1zM149.0,521.1h3.1v3.1h-3.1zM173.8,521.1h3.1v3.1h-3.1zM198.6,521.1h3.1v3.1h-3.1zM9.5,524.2h3.1v3.1h-3.1zM12.6,524.2h3.1v3.1h-3.1zM15.7,524.2h3.1v3.1h-3.1zM18.8,524.2h3.1v3.1h-3.1zM21.9,524.2h3.1v3.1h-3.1zM25.0,524.2h3.1v3.1h-3.1zM28.1,524.2h3.1v3.1h-3.1zM31.2,524.2h3.1v3.1h-3.1zM34.3,524.2h3.1v3.1h-3.1zM37.4,524.2h3.1v3.1h-3.1zM40.5,524.2h3.1v3.1h-3.1zM43.6,524.2h3.1v3.1h-3.1zM46.7,524.2h3.1v3.1h-3.1zM49.8,524.2h3.1v3.1h-3.1zM52.9,524.2h3.1v3.1h-3.1zM56.0,524.2h3.1v3.1h-3.1zM59.1,524.2h3.1v3.1h-3.1zM62.2,524.2h3.1v3.1h-3.1zM65.3,524.2h3.1v3.1h-3.1zM68.4,524.2h3.1v3.1h-3.1zM71.5,524.2h3.1v3.1h-3.1zM74.6,524.2h3.1v3.1h-3.1zM77.7,524.2h3.1v3.1h-3.1zM80.8,524.2h3.1v3.1h-3.1zM83.9,524.2h3.1v3.1h-3.1zM87.0,524.2h3.1v3.1h-3.1zM90.1,524.2h3.1v3.1h-3.1zM93.2,524.2h3.1v3.1h-3.1zM96.3,524.2h3.1v3.1h-3.1zM99.4,524.2h3.1v3.1h-3.1zM102.5,524.2h3.1v3.1h-3.1zM105.6,524.2h3.1v3.1h-3.1zM108.7,524.2h3.1v3.1h-3.1zM111.8,524.2h3.1v3.1h-3.1zM114.9,524.2h3.1v3.1h-3.1zM118.0,524.2h3.1v3.1h-3.1zM121.1,524.2h3.1v3.1h-3.1zM124.2,524.2h3.1v3.1h-3.1zM127.3,524.2h3.1v3.1h-3.1zM130.4,524.2h3.1v3.1h-3.1zM133.5,524.2h3.1v3.1h-3.1zM139.7,524.2h3.1v3.1h-3.1zM142.8,524.2h3.1v3.1h-3.1zM149.0,524.2h3.1v3.1h-3.1zM152.1,524.2h3.1v3.1h-3.1zM158.3,524.2h3.1v3.1h-3.1zM164.5,524.2h3.1v3.1h-3.1zM176.9,524.2h3.1v3.1h-3.1zM186.2,524.2h3.1v3.1h-3.1zM12.6,527.3h3.1v3.1h-3.1zM15.7,527.3h3.1v3.1h-3.1zM18.8,527.3h3.1v3.1h-3.1zM28.1,527.3h3.1v3.1h-3.1zM31.2,527.3h3.1v3.1h-3.1zM34.3,527.3h3.1v3.1h-3.1zM37.4,527.3h3.1v3.1h-3.1zM40.5,527.3h3.1v3.1h-3.1zM43.6,527.3h3.1v3.1h-3.1zM49.8,527.3h3.1v3.1h-3.1zM52.9,527.3h3.1v3.1h-3.1zM56.0,527.3h3.1v3.1h-3.1zM59.1,527.3h3.1v3.1h-3.1zM62.2,527.3h3.1v3.1h-3.1zM65.3,527.3h3.1v3.1h-3.1zM71.5,527.3h3.1v3.1h-3.1zM74.6,527.3h3.1v3.1h-3.1zM77.7,527.3h3.1v3.1h-3.1zM80.8,527.3h3.1v3.1h-3.1zM83.9,527.3h3.1v3.1h-3.1zM87.0,527.3h3.1v3.1h-3.1zM90.1,527.3h3.1v3.1h-3.1zM93.2,527.3h3.1v3.1h-3.1zM96.3,527.3h3.1v3.1h-3.1zM99.4,527.3h3.1v3.1h-3.1zM102.5,527.3h3.1v3.1h-3.1zM105.6,527.3h3.1v3.1h-3.1zM108.7,527.3h3.1v3.1h-3.1zM111.8,527.3h3.1v3.1h-3.1zM114.9,527.3h3.1v3.1h-3.1zM118.0,527.3h3.1v3.1h-3.1zM121.1,527.3h3.1v3.1h-3.1zM124.2,527.3h3.1v3.1h-3.1zM127.3,527.3h3.1v3.1h-3.1zM130.4,527.3h3.1v3.1h-3.1zM133.5,527.3h3.1v3.1h-3.1zM136.6,527.3h3.1v3.1h-3.1zM139.7,527.3h3.1v3.1h-3.1zM142.8,527.3h3.1v3.1h-3.1zM145.9,527.3h3.1v3.1h-3.1zM149.0,527.3h3.1v3.1h-3.1zM152.1,527.3h3.1v3.1h-3.1zM155.2,527.3h3.1v3.1h-3.1zM9.5,530.4h3.1v3.1h-3.1zM12.6,530.4h3.1v3.1h-3.1zM15.7,530.4h3.1v3.1h-3.1zM18.8,530.4h3.1v3.1h-3.1zM21.9,530.4h3.1v3.1h-3.1zM25.0,530.4h3.1v3.1h-3.1zM28.1,530.4h3.1v3.1h-3.1zM31.2,530.4h3.1v3.1h-3.1zM34.3,530.4h3.1v3.1h-3.1zM43.6,530.4h3.1v3.1h-3.1zM46.7,530.4h3.1v3.1h-3.1zM49.8,530.4h3.1v3.1h-3.1zM52.9,530.4h3.1v3.1h-3.1zM56.0,530.4h3.1v3.1h-3.1zM59.1,530.4h3.1v3.1h-3.1zM62.2,530.4h3.1v3.1h-3.1zM65.3,530.4h3.1v3.1h-3.1zM68.4,530.4h3.1v3.1h-3.1zM71.5,530.4h3.1v3.1h-3.1zM74.6,530.4h3.1v3.1h-3.1zM77.7,530.4h3.1v3.1h-3.1zM83.9,530.4h3.1v3.1h-3.1zM87.0,530.4h3.1v3.1h-3.1zM90.1,530.4h3.1v3.1h-3.1zM93.2,530.4h3.1v3.1h-3.1zM96.3,530.4h3.1v3.1h-3.1zM99.4,530.4h3.1v3.1h-3.1zM102.5,530.4h3.1v3.1h-3.1zM105.6,530.4h3.1v3.1h-3.1zM108.7,530.4h3.1v3.1h-3.1zM114.9,530.4h3.1v3.1h-3.1zM118.0,530.4h3.1v3.1h-3.1zM121.1,530.4h3.1v3.1h-3.1zM124.2,530.4h3.1v3.1h-3.1zM127.3,530.4h3.1v3.1h-3.1zM130.4,530.4h3.1v3.1h-3.1zM133.5,530.4h3.1v3.1h-3.1zM136.6,530.4h3.1v3.1h-3.1zM139.7,530.4h3.1v3.1h-3.1zM142.8,530.4h3.1v3.1h-3.1zM145.9,530.4h3.1v3.1h-3.1zM149.0,530.4h3.1v3.1h-3.1zM152.1,530.4h3.1v3.1h-3.1zM155.2,530.4h3.1v3.1h-3.1zM158.3,530.4h3.1v3.1h-3.1zM167.6,530.4h3.1v3.1h-3.1zM9.5,533.5h3.1v3.1h-3.1zM15.7,533.5h3.1v3.1h-3.1zM18.8,533.5h3.1v3.1h-3.1zM21.9,533.5h3.1v3.1h-3.1zM25.0,533.5h3.1v3.1h-3.1zM28.1,533.5h3.1v3.1h-3.1zM31.2,533.5h3.1v3.1h-3.1zM34.3,533.5h3.1v3.1h-3.1zM37.4,533.5h3.1v3.1h-3.1zM40.5,533.5h3.1v3.1h-3.1zM43.6,533.5h3.1v3.1h-3.1zM46.7,533.5h3.1v3.1h-3.1zM49.8,533.5h3.1v3.1h-3.1zM56.0,533.5h3.1v3.1h-3.1zM59.1,533.5h3.1v3.1h-3.1zM62.2,533.5h3.1v3.1h-3.1zM65.3,533.5h3.1v3.1h-3.1zM68.4,533.5h3.1v3.1h-3.1zM71.5,533.5h3.1v3.1h-3.1zM74.6,533.5h3.1v3.1h-3.1zM77.7,533.5h3.1v3.1h-3.1zM80.8,533.5h3.1v3.1h-3.1zM83.9,533.5h3.1v3.1h-3.1zM87.0,533.5h3.1v3.1h-3.1zM90.1,533.5h3.1v3.1h-3.1zM93.2,533.5h3.1v3.1h-3.1zM96.3,533.5h3.1v3.1h-3.1zM99.4,533.5h3.1v3.1h-3.1zM102.5,533.5h3.1v3.1h-3.1zM108.7,533.5h3.1v3.1h-3.1zM111.8,533.5h3.1v3.1h-3.1zM114.9,533.5h3.1v3.1h-3.1zM118.0,533.5h3.1v3.1h-3.1zM121.1,533.5h3.1v3.1h-3.1zM124.2,533.5h3.1v3.1h-3.1zM127.3,533.5h3.1v3.1h-3.1zM130.4,533.5h3.1v3.1h-3.1zM133.5,533.5h3.1v3.1h-3.1zM136.6,533.5h3.1v3.1h-3.1zM139.7,533.5h3.1v3.1h-3.1zM145.9,533.5h3.1v3.1h-3.1zM152.1,533.5h3.1v3.1h-3.1zM155.2,533.5h3.1v3.1h-3.1zM158.3,533.5h3.1v3.1h-3.1zM183.1,533.5h3.1v3.1h-3.1zM9.5,536.6h3.1v3.1h-3.1zM12.6,536.6h3.1v3.1h-3.1zM15.7,536.6h3.1v3.1h-3.1zM18.8,536.6h3.1v3.1h-3.1zM21.9,536.6h3.1v3.1h-3.1zM25.0,536.6h3.1v3.1h-3.1zM28.1,536.6h3.1v3.1h-3.1zM31.2,536.6h3.1v3.1h-3.1zM34.3,536.6h3.1v3.1h-3.1zM37.4,536.6h3.1v3.1h-3.1zM40.5,536.6h3.1v3.1h-3.1zM43.6,536.6h3.1v3.1h-3.1zM46.7,536.6h3.1v3.1h-3.1zM49.8,536.6h3.1v3.1h-3.1zM52.9,536.6h3.1v3.1h-3.1zM56.0,536.6h3.1v3.1h-3.1zM59.1,536.6h3.1v3.1h-3.1zM62.2,536.6h3.1v3.1h-3.1zM68.4,536.6h3.1v3.1h-3.1zM71.5,536.6h3.1v3.1h-3.1zM74.6,536.6h3.1v3.1h-3.1zM77.7,536.6h3.1v3.1h-3.1zM80.8,536.6h3.1v3.1h-3.1zM83.9,536.6h3.1v3.1h-3.1zM87.0,536.6h3.1v3.1h-3.1zM90.1,536.6h3.1v3.1h-3.1zM93.2,536.6h3.1v3.1h-3.1zM96.3,536.6h3.1v3.1h-3.1zM99.4,536.6h3.1v3.1h-3.1zM102.5,536.6h3.1v3.1h-3.1zM105.6,536.6h3.1v3.1h-3.1zM108.7,536.6h3.1v3.1h-3.1zM111.8,536.6h3.1v3.1h-3.1zM114.9,536.6h3.1v3.1h-3.1zM118.0,536.6h3.1v3.1h-3.1zM121.1,536.6h3.1v3.1h-3.1zM124.2,536.6h3.1v3.1h-3.1zM127.3,536.6h3.1v3.1h-3.1zM130.4,536.6h3.1v3.1h-3.1zM133.5,536.6h3.1v3.1h-3.1zM136.6,536.6h3.1v3.1h-3.1zM139.7,536.6h3.1v3.1h-3.1zM142.8,536.6h3.1v3.1h-3.1zM145.9,536.6h3.1v3.1h-3.1zM149.0,536.6h3.1v3.1h-3.1zM152.1,536.6h3.1v3.1h-3.1zM155.2,536.6h3.1v3.1h-3.1zM158.3,536.6h3.1v3.1h-3.1zM161.4,536.6h3.1v3.1h-3.1zM170.7,536.6h3.1v3.1h-3.1zM12.6,539.7h3.1v3.1h-3.1zM15.7,539.7h3.1v3.1h-3.1zM18.8,539.7h3.1v3.1h-3.1zM21.9,539.7h3.1v3.1h-3.1zM25.0,539.7h3.1v3.1h-3.1zM28.1,539.7h3.1v3.1h-3.1zM31.2,539.7h3.1v3.1h-3.1zM34.3,539.7h3.1v3.1h-3.1zM37.4,539.7h3.1v3.1h-3.1zM40.5,539.7h3.1v3.1h-3.1zM43.6,539.7h3.1v3.1h-3.1zM46.7,539.7h3.1v3.1h-3.1zM49.8,539.7h3.1v3.1h-3.1zM52.9,539.7h3.1v3.1h-3.1zM56.0,539.7h3.1v3.1h-3.1zM62.2,539.7h3.1v3.1h-3.1zM65.3,539.7h3.1v3.1h-3.1zM68.4,539.7h3.1v3.1h-3.1zM71.5,539.7h3.1v3.1h-3.1zM74.6,539.7h3.1v3.1h-3.1zM77.7,539.7h3.1v3.1h-3.1zM80.8,539.7h3.1v3.1h-3.1zM83.9,539.7h3.1v3.1h-3.1zM87.0,539.7h3.1v3.1h-3.1zM90.1,539.7h3.1v3.1h-3.1zM93.2,539.7h3.1v3.1h-3.1zM96.3,539.7h3.1v3.1h-3.1zM99.4,539.7h3.1v3.1h-3.1zM102.5,539.7h3.1v3.1h-3.1zM105.6,539.7h3.1v3.1h-3.1zM108.7,539.7h3.1v3.1h-3.1zM111.8,539.7h3.1v3.1h-3.1zM114.9,539.7h3.1v3.1h-3.1zM121.1,539.7h3.1v3.1h-3.1zM124.2,539.7h3.1v3.1h-3.1zM127.3,539.7h3.1v3.1h-3.1zM130.4,539.7h3.1v3.1h-3.1zM133.5,539.7h3.1v3.1h-3.1zM136.6,539.7h3.1v3.1h-3.1zM139.7,539.7h3.1v3.1h-3.1zM142.8,539.7h3.1v3.1h-3.1zM145.9,539.7h3.1v3.1h-3.1zM152.1,539.7h3.1v3.1h-3.1zM155.2,539.7h3.1v3.1h-3.1zM158.3,539.7h3.1v3.1h-3.1zM161.4,539.7h3.1v3.1h-3.1zM183.1,539.7h3.1v3.1h-3.1zM9.5,542.8h3.1v3.1h-3.1zM12.6,542.8h3.1v3.1h-3.1zM15.7,542.8h3.1v3.1h-3.1zM18.8,542.8h3.1v3.1h-3.1zM21.9,542.8h3.1v3.1h-3.1zM25.0,542.8h3.1v3.1h-3.1zM28.1,542.8h3.1v3.1h-3.1zM31.2,542.8h3.1v3.1h-3.1zM34.3,542.8h3.1v3.1h-3.1zM37.4,542.8h3.1v3.1h-3.1zM40.5,542.8h3.1v3.1h-3.1zM43.6,542.8h3.1v3.1h-3.1zM46.7,542.8h3.1v3.1h-3.1zM49.8,542.8h3.1v3.1h-3.1zM52.9,542.8h3.1v3.1h-3.1zM56.0,542.8h3.1v3.1h-3.1zM59.1,542.8h3.1v3.1h-3.1zM62.2,542.8h3.1v3.1h-3.1zM65.3,542.8h3.1v3.1h-3.1zM68.4,542.8h3.1v3.1h-3.1zM74.6,542.8h3.1v3.1h-3.1zM80.8,542.8h3.1v3.1h-3.1zM83.9,542.8h3.1v3.1h-3.1zM90.1,542.8h3.1v3.1h-3.1zM93.2,542.8h3.1v3.1h-3.1zM96.3,542.8h3.1v3.1h-3.1zM99.4,542.8h3.1v3.1h-3.1zM102.5,542.8h3.1v3.1h-3.1zM105.6,542.8h3.1v3.1h-3.1zM108.7,542.8h3.1v3.1h-3.1zM111.8,542.8h3.1v3.1h-3.1zM114.9,542.8h3.1v3.1h-3.1zM118.0,542.8h3.1v3.1h-3.1zM121.1,542.8h3.1v3.1h-3.1zM124.2,542.8h3.1v3.1h-3.1zM127.3,542.8h3.1v3.1h-3.1zM130.4,542.8h3.1v3.1h-3.1zM133.5,542.8h3.1v3.1h-3.1zM136.6,542.8h3.1v3.1h-3.1zM139.7,542.8h3.1v3.1h-3.1zM142.8,542.8h3.1v3.1h-3.1zM145.9,542.8h3.1v3.1h-3.1zM149.0,542.8h3.1v3.1h-3.1zM152.1,542.8h3.1v3.1h-3.1zM155.2,542.8h3.1v3.1h-3.1zM158.3,542.8h3.1v3.1h-3.1zM161.4,542.8h3.1v3.1h-3.1zM167.6,542.8h3.1v3.1h-3.1zM176.9,542.8h3.1v3.1h-3.1zM9.5,545.9h3.1v3.1h-3.1zM12.6,545.9h3.1v3.1h-3.1zM15.7,545.9h3.1v3.1h-3.1zM18.8,545.9h3.1v3.1h-3.1zM21.9,545.9h3.1v3.1h-3.1zM25.0,545.9h3.1v3.1h-3.1zM28.1,545.9h3.1v3.1h-3.1zM31.2,545.9h3.1v3.1h-3.1zM34.3,545.9h3.1v3.1h-3.1zM37.4,545.9h3.1v3.1h-3.1zM40.5,545.9h3.1v3.1h-3.1zM46.7,545.9h3.1v3.1h-3.1zM49.8,545.9h3.1v3.1h-3.1zM52.9,545.9h3.1v3.1h-3.1zM56.0,545.9h3.1v3.1h-3.1zM59.1,545.9h3.1v3.1h-3.1zM65.3,545.9h3.1v3.1h-3.1zM68.4,545.9h3.1v3.1h-3.1zM74.6,545.9h3.1v3.1h-3.1zM77.7,545.9h3.1v3.1h-3.1zM80.8,545.9h3.1v3.1h-3.1zM83.9,545.9h3.1v3.1h-3.1zM87.0,545.9h3.1v3.1h-3.1zM90.1,545.9h3.1v3.1h-3.1zM93.2,545.9h3.1v3.1h-3.1zM96.3,545.9h3.1v3.1h-3.1zM99.4,545.9h3.1v3.1h-3.1zM102.5,545.9h3.1v3.1h-3.1zM105.6,545.9h3.1v3.1h-3.1zM108.7,545.9h3.1v3.1h-3.1zM111.8,545.9h3.1v3.1h-3.1zM114.9,545.9h3.1v3.1h-3.1zM118.0,545.9h3.1v3.1h-3.1zM121.1,545.9h3.1v3.1h-3.1zM124.2,545.9h3.1v3.1h-3.1zM127.3,545.9h3.1v3.1h-3.1zM130.4,545.9h3.1v3.1h-3.1zM133.5,545.9h3.1v3.1h-3.1zM136.6,545.9h3.1v3.1h-3.1zM139.7,545.9h3.1v3.1h-3.1zM142.8,545.9h3.1v3.1h-3.1zM145.9,545.9h3.1v3.1h-3.1zM149.0,545.9h3.1v3.1h-3.1zM152.1,545.9h3.1v3.1h-3.1zM155.2,545.9h3.1v3.1h-3.1zM158.3,545.9h3.1v3.1h-3.1zM161.4,545.9h3.1v3.1h-3.1zM164.5,545.9h3.1v3.1h-3.1z" fill="#9a9a9a"/>
<path d="M211.8,270.5h3.1v3.1h-3.1zM221.1,270.5h3.1v3.1h-3.1zM227.3,270.5h3.1v3.1h-3.1zM233.5,270.5h3.1v3.1h-3.1zM202.5,273.6h3.1v3.1h-3.1zM211.8,273.6h3.1v3.1h-3.1zM233.5,273.6h3.1v3.1h-3.1zM211.8,276.7h3.1v3.1h-3.1zM202.5,279.8h3.1v3.1h-3.1zM205.6,279.8h3.1v3.1h-3.1zM224.2,282.9h3.1v3.1h-3.1zM205.6,286.0h3.1v3.1h-3.1zM214.9,289.1h3.1v3.1h-3.1zM205.6,292.2h3.1v3.1h-3.1zM214.9,292.2h3.1v3.1h-3.1zM218.0,292.2h3.1v3.1h-3.1zM224.2,292.2h3.1v3.1h-3.1zM202.5,295.3h3.1v3.1h-3.1zM224.2,298.4h3.1v3.1h-3.1zM218.0,301.5h3.1v3.1h-3.1zM205.6,304.6h3.1v3.1h-3.1zM211.8,304.6h3.1v3.1h-3.1zM214.9,304.6h3.1v3.1h-3.1zM227.3,304.6h3.1v3.1h-3.1zM230.4,304.6h3.1v3.1h-3.1zM202.5,307.7h3.1v3.1h-3.1zM208.7,307.7h3.1v3.1h-3.1zM230.4,307.7h3.1v3.1h-3.1zM211.8,310.8h3.1v3.1h-3.1zM214.9,310.8h3.1v3.1h-3.1zM230.4,310.8h3.1v3.1h-3.1zM211.8,313.9h3.1v3.1h-3.1zM211.8,320.1h3.1v3.1h-3.1zM214.9,320.1h3.1v3.1h-3.1zM208.7,326.3h3.1v3.1h-3.1zM224.2,329.4h3.1v3.1h-3.1zM221.1,332.5h3.1v3.1h-3.1zM224.2,332.5h3.1v3.1h-3.1zM202.5,338.7h3.1v3.1h-3.1zM202.5,341.8h3.1v3.1h-3.1zM211.8,341.8h3.1v3.1h-3.1zM208.7,344.9h3.1v3.1h-3.1zM221.1,351.1h3.1v3.1h-3.1zM227.3,351.1h3.1v3.1h-3.1zM233.5,351.1h3.1v3.1h-3.1zM295.9,290.5h3.1v3.1h-3.1zM299.0,293.6h3.1v3.1h-3.1zM289.7,296.7h3.1v3.1h-3.1zM283.5,299.8h3.1v3.1h-3.1zM295.9,299.8h3.1v3.1h-3.1zM283.5,302.9h3.1v3.1h-3.1zM292.8,302.9h3.1v3.1h-3.1zM289.7,306.0h3.1v3.1h-3.1zM283.5,309.1h3.1v3.1h-3.1zM286.6,309.1h3.1v3.1h-3.1zM295.9,309.1h3.1v3.1h-3.1zM289.7,312.2h3.1v3.1h-3.1zM295.9,312.2h3.1v3.1h-3.1zM299.0,315.3h3.1v3.1h-3.1zM289.7,318.4h3.1v3.1h-3.1zM292.8,318.4h3.1v3.1h-3.1zM295.9,318.4h3.1v3.1h-3.1zM299.0,321.5h3.1v3.1h-3.1zM269.6,324.5h3.1v3.1h-3.1zM275.8,324.5h3.1v3.1h-3.1zM278.9,327.6h3.1v3.1h-3.1zM278.9,336.9h3.1v3.1h-3.1zM266.5,340.0h3.1v3.1h-3.1zM269.6,340.0h3.1v3.1h-3.1zM278.9,340.0h3.1v3.1h-3.1zM266.5,343.1h3.1v3.1h-3.1zM275.8,346.2h3.1v3.1h-3.1zM275.8,352.4h3.1v3.1h-3.1zM278.9,355.5h3.1v3.1h-3.1zM232.6,368.5h3.1v3.1h-3.1zM238.8,368.5h3.1v3.1h-3.1zM241.9,368.5h3.1v3.1h-3.1zM251.2,371.6h3.1v3.1h-3.1zM232.6,374.7h3.1v3.1h-3.1zM251.2,374.7h3.1v3.1h-3.1zM229.5,380.9h3.1v3.1h-3.1zM232.6,380.9h3.1v3.1h-3.1zM238.8,380.9h3.1v3.1h-3.1zM232.6,384.0h3.1v3.1h-3.1zM251.2,384.0h3.1v3.1h-3.1zM405.6,297.6h3.1v3.1h-3.1zM402.5,300.7h3.1v3.1h-3.1zM411.8,300.7h3.1v3.1h-3.1zM411.8,303.8h3.1v3.1h-3.1zM408.7,310.0h3.1v3.1h-3.1zM402.5,313.1h3.1v3.1h-3.1zM472.7,311.5h3.1v3.1h-3.1zM478.9,314.6h3.1v3.1h-3.1zM482.0,320.8h3.1v3.1h-3.1zM469.6,327.0h3.1v3.1h-3.1zM472.7,327.0h3.1v3.1h-3.1zM482.0,330.1h3.1v3.1h-3.1zM466.5,333.2h3.1v3.1h-3.1zM472.7,333.2h3.1v3.1h-3.1zM472.7,339.4h3.1v3.1h-3.1zM472.7,342.5h3.1v3.1h-3.1zM466.5,348.7h3.1v3.1h-3.1zM478.9,348.7h3.1v3.1h-3.1zM466.5,351.8h3.1v3.1h-3.1zM466.5,358.0h3.1v3.1h-3.1zM478.9,358.0h3.1v3.1h-3.1zM421.0,351.5h3.1v3.1h-3.1zM427.2,351.5h3.1v3.1h-3.1zM476.8,351.5h3.1v3.1h-3.1zM473.7,354.6h3.1v3.1h-3.1zM483.0,354.6h3.1v3.1h-3.1zM405.5,357.7h3.1v3.1h-3.1zM417.9,357.7h3.1v3.1h-3.1zM421.0,357.7h3.1v3.1h-3.1zM436.5,357.7h3.1v3.1h-3.1zM455.1,357.7h3.1v3.1h-3.1zM467.5,357.7h3.1v3.1h-3.1zM476.8,357.7h3.1v3.1h-3.1zM417.9,360.8h3.1v3.1h-3.1zM421.0,360.8h3.1v3.1h-3.1zM436.5,360.8h3.1v3.1h-3.1zM467.5,360.8h3.1v3.1h-3.1zM414.8,363.9h3.1v3.1h-3.1zM424.1,363.9h3.1v3.1h-3.1zM436.5,363.9h3.1v3.1h-3.1zM405.5,367.0h3.1v3.1h-3.1zM433.4,367.0h3.1v3.1h-3.1zM439.6,367.0h3.1v3.1h-3.1zM405.5,373.2h3.1v3.1h-3.1zM411.7,373.2h3.1v3.1h-3.1zM436.5,373.2h3.1v3.1h-3.1zM445.8,373.2h3.1v3.1h-3.1zM448.9,376.3h3.1v3.1h-3.1zM424.1,379.4h3.1v3.1h-3.1zM442.7,379.4h3.1v3.1h-3.1zM414.8,382.5h3.1v3.1h-3.1zM424.1,382.5h3.1v3.1h-3.1zM461.3,385.6h3.1v3.1h-3.1zM417.9,388.7h3.1v3.1h-3.1zM439.6,388.7h3.1v3.1h-3.1zM442.7,388.7h3.1v3.1h-3.1zM455.1,388.7h3.1v3.1h-3.1zM458.2,391.8h3.1v3.1h-3.1zM479.9,391.8h3.1v3.1h-3.1zM427.2,394.9h3.1v3.1h-3.1zM436.5,394.9h3.1v3.1h-3.1zM464.4,394.9h3.1v3.1h-3.1zM473.7,398.0h3.1v3.1h-3.1zM405.5,401.1h3.1v3.1h-3.1zM411.7,401.1h3.1v3.1h-3.1zM464.4,401.1h3.1v3.1h-3.1zM470.6,401.1h3.1v3.1h-3.1zM436.5,404.2h3.1v3.1h-3.1zM442.7,404.2h3.1v3.1h-3.1zM461.3,404.2h3.1v3.1h-3.1zM483.0,404.2h3.1v3.1h-3.1zM414.8,407.3h3.1v3.1h-3.1zM417.9,407.3h3.1v3.1h-3.1zM430.3,407.3h3.1v3.1h-3.1zM439.6,407.3h3.1v3.1h-3.1zM455.1,407.3h3.1v3.1h-3.1zM470.6,407.3h3.1v3.1h-3.1zM414.8,410.4h3.1v3.1h-3.1zM417.9,410.4h3.1v3.1h-3.1zM427.2,410.4h3.1v3.1h-3.1zM445.8,410.4h3.1v3.1h-3.1zM417.9,413.5h3.1v3.1h-3.1zM473.7,413.5h3.1v3.1h-3.1zM344.7,392.5h3.1v3.1h-3.1zM341.6,395.6h3.1v3.1h-3.1zM350.9,398.7h3.1v3.1h-3.1zM372.6,401.8h3.1v3.1h-3.1zM344.7,404.9h3.1v3.1h-3.1zM366.4,404.9h3.1v3.1h-3.1zM369.5,404.9h3.1v3.1h-3.1zM372.6,408.0h3.1v3.1h-3.1zM344.7,411.1h3.1v3.1h-3.1zM347.8,411.1h3.1v3.1h-3.1zM366.4,411.1h3.1v3.1h-3.1zM338.5,414.2h3.1v3.1h-3.1zM341.6,417.3h3.1v3.1h-3.1zM360.2,417.3h3.1v3.1h-3.1zM338.5,420.4h3.1v3.1h-3.1zM363.3,420.4h3.1v3.1h-3.1zM372.6,420.4h3.1v3.1h-3.1zM333.0,426.5h3.1v3.1h-3.1zM342.3,426.5h3.1v3.1h-3.1zM357.8,429.6h3.1v3.1h-3.1zM323.7,435.8h3.1v3.1h-3.1zM326.8,438.9h3.1v3.1h-3.1zM339.2,438.9h3.1v3.1h-3.1zM351.6,438.9h3.1v3.1h-3.1zM348.5,442.0h3.1v3.1h-3.1zM351.6,442.0h3.1v3.1h-3.1zM339.2,445.1h3.1v3.1h-3.1zM351.6,445.1h3.1v3.1h-3.1zM326.8,448.2h3.1v3.1h-3.1zM317.5,451.3h3.1v3.1h-3.1zM354.7,451.3h3.1v3.1h-3.1zM333.0,454.4h3.1v3.1h-3.1zM354.7,454.4h3.1v3.1h-3.1z" fill="#c8d0ff"/>
<path d="M385.6,158.5h3.1v3.1h-3.1zM385.6,161.6h3.1v3.1h-3.1zM404.2,161.6h3.1v3.1h-3.1zM407.3,161.6h3.1v3.1h-3.1zM410.4,164.7h3.1v3.1h-3.1zM394.9,170.9h3.1v3.1h-3.1zM398.0,170.9h3.1v3.1h-3.1zM382.5,174.0h3.1v3.1h-3.1zM388.7,177.1h3.1v3.1h-3.1zM404.2,180.2h3.1v3.1h-3.1zM382.5,183.3h3.1v3.1h-3.1z" fill="#a8c8ff"/>
<path d="M463.5,148.5h3.1v3.1h-3.1zM475.9,151.6h3.1v3.1h-3.1zM463.5,154.7h3.1v3.1h-3.1zM479.0,157.8h3.1v3.1h-3.1zM482.1,157.8h3.1v3.1h-3.1zM475.9,160.9h3.1v3.1h-3.1zM475.9,164.0h3.1v3.1h-3.1zM479.0,164.0h3.1v3.1h-3.1zM463.5,170.2h3.1v3.1h-3.1zM482.1,170.2h3.1v3.1h-3.1zM472.8,173.3h3.1v3.1h-3.1zM475.9,173.3h3.1v3.1h-3.1zM472.8,176.4h3.1v3.1h-3.1zM466.6,182.6h3.1v3.1h-3.1zM469.7,185.7h3.1v3.1h-3.1z" fill="#90c0ff"/>
<path d="M389.5,232.6h3.1v3.1h-3.1zM401.9,232.6h3.1v3.1h-3.1zM405.0,232.6h3.1v3.1h-3.1zM408.1,232.6h3.1v3.1h-3.1zM408.1,235.7h3.1v3.1h-3.1zM392.6,238.8h3.1v3.1h-3.1zM405.0,238.8h3.1v3.1h-3.1zM392.6,241.9h3.1v3.1h-3.1zM414.3,241.9h3.1v3.1h-3.1z" fill="#c0d0ff"/>
<path d="M395.6,243.5h3.1v3.1h-3.1zM398.7,243.5h3.1v3.1h-3.1zM401.8,243.5h3.1v3.1h-3.1zM442.1,243.5h3.1v3.1h-3.1zM395.6,246.6h3.1v3.1h-3.1zM395.6,249.7h3.1v3.1h-3.1zM408.0,249.7h3.1v3.1h-3.1zM411.1,249.7h3.1v3.1h-3.1zM432.8,249.7h3.1v3.1h-3.1zM435.9,249.7h3.1v3.1h-3.1zM408.0,255.9h3.1v3.1h-3.1zM423.5,255.9h3.1v3.1h-3.1zM429.7,255.9h3.1v3.1h-3.1zM401.8,259.0h3.1v3.1h-3.1zM435.9,259.0h3.1v3.1h-3.1zM398.7,262.1h3.1v3.1h-3.1zM401.8,262.1h3.1v3.1h-3.1zM414.2,262.1h3.1v3.1h-3.1zM404.9,265.2h3.1v3.1h-3.1zM429.7,265.2h3.1v3.1h-3.1zM442.1,265.2h3.1v3.1h-3.1zM404.9,268.3h3.1v3.1h-3.1zM432.8,268.3h3.1v3.1h-3.1zM435.9,271.4h3.1v3.1h-3.1zM445.2,271.4h3.1v3.1h-3.1zM451.4,271.4h3.1v3.1h-3.1zM423.5,274.5h3.1v3.1h-3.1zM451.4,274.5h3.1v3.1h-3.1zM398.7,277.6h3.1v3.1h-3.1zM408.0,277.6h3.1v3.1h-3.1zM414.2,277.6h3.1v3.1h-3.1zM426.6,277.6h3.1v3.1h-3.1zM202.6,270.5h3.1v3.1h-3.1zM205.7,270.5h3.1v3.1h-3.1zM202.6,276.7h3.1v3.1h-3.1zM202.6,279.8h3.1v3.1h-3.1zM205.7,279.8h3.1v3.1h-3.1z" fill="#b0c8ff"/></g>

</g>
<line x1="37.00" y1="40.95" x2="37.00" y2="549.0" stroke="#000" stroke-width="1.15" stroke-dasharray="2.8 5.48" fill="none"/>
<line x1="115.00" y1="40.95" x2="115.00" y2="549.0" stroke="#000" stroke-width="1.15" stroke-dasharray="2.8 5.48" fill="none"/>
<line x1="194.00" y1="40.95" x2="194.00" y2="549.0" stroke="#000" stroke-width="1.15" stroke-dasharray="2.8 5.48" fill="none"/>
<line x1="273.00" y1="40.95" x2="273.00" y2="549.0" stroke="#000" stroke-width="1.15" stroke-dasharray="2.8 5.48" fill="none"/>
<line x1="352.00" y1="40.95" x2="352.00" y2="549.0" stroke="#000" stroke-width="1.15" stroke-dasharray="2.8 5.48" fill="none"/>
<line x1="430.00" y1="40.95" x2="430.00" y2="549.0" stroke="#000" stroke-width="1.15" stroke-dasharray="2.8 5.48" fill="none"/>
<line x1="12.8" y1="97.00" x2="486.0" y2="97.00" stroke="#000" stroke-width="1.15" stroke-dasharray="2.8 5.46" fill="none"/>
<line x1="12.8" y1="181.00" x2="486.0" y2="181.00" stroke="#000" stroke-width="1.15" stroke-dasharray="2.8 5.46" fill="none"/>
<line x1="12.8" y1="266.00" x2="486.0" y2="266.00" stroke="#000" stroke-width="1.15" stroke-dasharray="2.8 5.46" fill="none"/>
<line x1="12.8" y1="350.00" x2="486.0" y2="350.00" stroke="#000" stroke-width="1.15" stroke-dasharray="2.8 5.46" fill="none"/>
<line x1="12.8" y1="435.00" x2="486.0" y2="435.00" stroke="#000" stroke-width="1.15" stroke-dasharray="2.8 5.46" fill="none"/>
<line x1="12.8" y1="519.00" x2="486.0" y2="519.00" stroke="#000" stroke-width="1.15" stroke-dasharray="2.8 5.46" fill="none"/>
<polyline points="13.0,396.4 18.9,393.7 24.8,391.0 30.7,388.2 36.6,385.5 42.5,382.7 48.4,379.9 54.3,377.2 60.2,374.4 66.1,371.5 72.0,368.7 77.9,365.9 83.8,363.1 89.7,360.2 95.6,357.3 101.5,354.5 107.4,351.6 113.3,348.7 119.2,345.7 125.1,342.8 131.0,339.9 136.9,336.9 142.8,334.0 148.7,331.0 154.6,328.0 160.5,325.0 166.4,322.0 172.3,319.0 178.2,316.0 184.1,313.0 190.0,309.9 195.9,306.8 201.8,303.8 207.7,300.7 213.6,297.6 219.5,294.5 225.4,291.4 231.3,288.2 237.2,285.1 243.1,282.0 248.9,278.8 254.8,275.6 260.7,272.4 266.6,269.2 272.5,266.0 278.4,262.8 284.3,259.6 290.2,256.3 296.1,253.1 302.0,249.8 307.9,246.5 313.8,243.2 319.7,239.9 325.6,236.6 331.5,233.3 337.4,230.0 343.3,226.6 349.2,223.3 355.1,219.9 361.0,216.5 366.9,213.1 372.8,209.7 378.7,206.3 384.6,202.9 390.5,199.4 396.4,196.0 402.3,192.5 408.2,189.1 414.1,185.6 420.0,182.1 425.9,178.6 431.8,175.1 437.7,171.5 443.6,168.0 449.5,164.4 455.4,160.9 461.3,157.3 467.2,153.7 473.1,150.1 479.0,146.5" stroke="#000" stroke-width="1.1" fill="none" stroke-dasharray="12 11.45"/>
<polyline points="13.0,501.5 18.9,498.8 24.9,496.1 30.8,493.3 36.7,490.6 42.7,487.9 48.6,485.1 54.6,482.4 60.5,479.6 66.4,476.8 72.4,474.0 78.3,471.2 84.2,468.4 90.2,465.6 96.1,462.7 102.1,459.9 108.0,457.0 113.9,454.1 119.9,451.3 125.8,448.4 131.7,445.5 137.7,442.5 143.6,439.6 149.5,436.7 155.5,433.7 161.4,430.8 167.4,427.8 173.3,424.8 179.2,421.8 185.2,418.8 191.1,415.8 197.0,412.8 203.0,409.8 208.9,406.7 214.8,403.7 220.8,400.6 226.7,397.5 232.7,394.4 238.6,391.3 244.5,388.2 250.5,385.1 256.4,382.0 262.3,378.8 268.3,375.7 274.2,372.5 280.2,369.3 286.1,366.2 292.0,363.0 298.0,359.8 303.9,356.5 309.8,353.3 315.8,350.1 321.7,346.8 327.6,343.6 333.6,340.3 339.5,337.0 345.5,333.7 351.4,330.4 357.3,327.1 363.3,323.8 369.2,320.4 375.1,317.1 381.1,313.7 387.0,310.3 392.9,307.0 398.9,303.6 404.8,300.2 410.8,296.8 416.7,293.3 422.6,289.9 428.6,286.4 434.5,283.0 440.4,279.5 446.4,276.0 452.3,272.5 458.3,269.0 464.2,265.5 470.1,262.0 476.1,258.5 482.0,254.9" stroke="#000" stroke-width="1.1" fill="none" stroke-dasharray="12 11.45"/>
<text x="36.6" y="286.7" font-size="12.2" text-anchor="middle">76</text>
<text x="115.4" y="286.7" font-size="12.2" text-anchor="middle">78</text>
<text x="194.1" y="286.7" font-size="12.2" text-anchor="middle">80</text>
<text x="272.9" y="286.7" font-size="12.2" text-anchor="middle">82</text>
<text x="351.6" y="286.7" font-size="12.2" text-anchor="middle">84</text>
<text x="430.4" y="286.7" font-size="12.2" text-anchor="middle">86</text>
<text x="253.4" y="97.1" font-size="12.2" text-anchor="middle">-18</text>
<text x="253.4" y="181.6" font-size="12.2" text-anchor="middle">-20</text>
<text x="253.4" y="266.1" font-size="12.2" text-anchor="middle">-22</text>
<text x="253.4" y="350.6" font-size="12.2" text-anchor="middle">-24</text>
<text x="253.4" y="435.1" font-size="12.2" text-anchor="middle">-26</text>
<text x="253.4" y="519.6" font-size="12.2" text-anchor="middle">-28</text>
<rect x="242.9" y="292.1" width="13" height="4.7" fill="#000"/><rect x="247.1" y="288.0" width="4.7" height="13" fill="#000"/>

<text x="36.5" y="66.0" font-size="25">&#160;37GHz PCT (K)</text>
<text x="456.5" y="523.0" font-size="29" text-anchor="middle">(e)</text>
<rect x="495.2" y="531.48" width="8.8" height="8.76" fill="#f6f6f6"/>
<rect x="495.2" y="523.01" width="8.8" height="8.76" fill="#eeeeee"/>
<rect x="495.2" y="514.55" width="8.8" height="8.76" fill="#e6e6e6"/>
<rect x="495.2" y="506.09" width="8.8" height="8.76" fill="#dedede"/>
<rect x="495.2" y="497.63" width="8.8" height="8.76" fill="#d6d6d6"/>
<rect x="495.2" y="489.17" width="8.8" height="8.76" fill="#cecece"/>
<rect x="495.2" y="480.70" width="8.8" height="8.76" fill="#c6c6c6"/>
<rect x="495.2" y="472.24" width="8.8" height="8.76" fill="#bebebe"/>
<rect x="495.2" y="463.78" width="8.8" height="8.76" fill="#b6b6b6"/>
<rect x="495.2" y="455.32" width="8.8" height="8.76" fill="#aeaeae"/>
<rect x="495.2" y="446.86" width="8.8" height="8.76" fill="#a6a6a6"/>
<rect x="495.2" y="438.39" width="8.8" height="8.76" fill="#9e9e9e"/>
<rect x="495.2" y="429.93" width="8.8" height="8.76" fill="#969696"/>
<rect x="495.2" y="421.47" width="8.8" height="8.76" fill="#8e8e8e"/>
<rect x="495.2" y="413.01" width="8.8" height="8.76" fill="#88dd88"/>
<rect x="495.2" y="404.55" width="8.8" height="8.76" fill="#7ad27a"/>
<rect x="495.2" y="396.08" width="8.8" height="8.76" fill="#6fca6f"/>
<rect x="495.2" y="387.62" width="8.8" height="8.76" fill="#66c066"/>
<rect x="495.2" y="379.16" width="8.8" height="8.76" fill="#62b662"/>
<rect x="495.2" y="370.70" width="8.8" height="8.76" fill="#ccd4ff"/>
<rect x="495.2" y="362.24" width="8.8" height="8.76" fill="#b4c8ff"/>
<rect x="495.2" y="353.77" width="8.8" height="8.76" fill="#9cc0ff"/>
<rect x="495.2" y="345.31" width="8.8" height="8.76" fill="#84b8ff"/>
<rect x="495.2" y="336.85" width="8.8" height="8.76" fill="#6cb2ff"/>
<rect x="495.2" y="328.39" width="8.8" height="8.76" fill="#55aaff"/>
<rect x="495.2" y="319.93" width="8.8" height="8.76" fill="#4a98ff"/>
<rect x="495.2" y="311.46" width="8.8" height="8.76" fill="#4080ff"/>
<rect x="495.2" y="303.00" width="8.8" height="8.76" fill="#3a6cff"/>
<rect x="495.2" y="294.54" width="8.8" height="8.76" fill="#3355ff"/>
<rect x="495.2" y="286.08" width="8.8" height="8.76" fill="#2a3cff"/>
<rect x="495.2" y="277.62" width="8.8" height="8.76" fill="#1a1aff"/>
<rect x="495.2" y="269.15" width="8.8" height="8.76" fill="#0000ff"/>
<rect x="495.2" y="260.69" width="8.8" height="8.76" fill="#0000e0"/>
<rect x="495.2" y="252.23" width="8.8" height="8.76" fill="#0000c4"/>
<rect x="495.2" y="243.77" width="8.8" height="8.76" fill="#ffff00"/>
<rect x="495.2" y="235.31" width="8.8" height="8.76" fill="#ffee00"/>
<rect x="495.2" y="226.84" width="8.8" height="8.76" fill="#ffe000"/>
<rect x="495.2" y="218.38" width="8.8" height="8.76" fill="#ffd400"/>
<rect x="495.2" y="209.92" width="8.8" height="8.76" fill="#ffc800"/>
<rect x="495.2" y="201.46" width="8.8" height="8.76" fill="#ff8a00"/>
<rect x="495.2" y="193.00" width="8.8" height="8.76" fill="#ff8000"/>
<rect x="495.2" y="184.53" width="8.8" height="8.76" fill="#ff7800"/>
<rect x="495.2" y="176.07" width="8.8" height="8.76" fill="#ff7000"/>
<rect x="495.2" y="167.61" width="8.8" height="8.76" fill="#ff6800"/>
<rect x="495.2" y="159.15" width="8.8" height="8.76" fill="#ff3a00"/>
<rect x="495.2" y="150.69" width="8.8" height="8.76" fill="#ff3000"/>
<rect x="495.2" y="142.22" width="8.8" height="8.76" fill="#ff2400"/>
<rect x="495.2" y="133.76" width="8.8" height="8.76" fill="#ff1800"/>
<rect x="495.2" y="125.30" width="8.8" height="8.76" fill="#ff1000"/>
<rect x="495.2" y="116.84" width="8.8" height="8.76" fill="#c80000"/>
<rect x="495.2" y="108.38" width="8.8" height="8.76" fill="#c00000"/>
<rect x="495.2" y="99.91" width="8.8" height="8.76" fill="#b00000"/>
<rect x="495.2" y="91.45" width="8.8" height="8.76" fill="#a40000"/>
<rect x="495.2" y="82.99" width="8.8" height="8.76" fill="#980800"/>
<rect x="495.2" y="74.53" width="8.8" height="8.76" fill="#620c08"/>
<rect x="495.2" y="66.07" width="8.8" height="8.76" fill="#5e1210"/>
<rect x="495.2" y="57.60" width="8.8" height="8.76" fill="#5c1612"/>
<rect x="495.2" y="49.14" width="8.8" height="8.76" fill="#5a1816"/>
<rect x="495.2" y="40.68" width="8.8" height="8.76" fill="#5a1a18"/>
<line x1="504.0" y1="91.5" x2="506.6" y2="91.5" stroke="#000" stroke-width="1"/>
<text x="523.0" y="99.8" font-size="19.6" text-anchor="middle">234</text>
<line x1="504.0" y1="142.2" x2="506.6" y2="142.2" stroke="#000" stroke-width="1"/>
<text x="523.0" y="150.5" font-size="19.6" text-anchor="middle">243</text>
<line x1="504.0" y1="193.0" x2="506.6" y2="193.0" stroke="#000" stroke-width="1"/>
<text x="523.0" y="201.3" font-size="19.6" text-anchor="middle">252</text>
<line x1="504.0" y1="243.8" x2="506.6" y2="243.8" stroke="#000" stroke-width="1"/>
<text x="523.0" y="252.1" font-size="19.6" text-anchor="middle">261</text>
<line x1="504.0" y1="294.5" x2="506.6" y2="294.5" stroke="#000" stroke-width="1"/>
<text x="523.0" y="302.8" font-size="19.6" text-anchor="middle">270</text>
<line x1="504.0" y1="345.3" x2="506.6" y2="345.3" stroke="#000" stroke-width="1"/>
<text x="523.0" y="353.6" font-size="19.6" text-anchor="middle">279</text>
<line x1="504.0" y1="396.1" x2="506.6" y2="396.1" stroke="#000" stroke-width="1"/>
<text x="523.0" y="404.4" font-size="19.6" text-anchor="middle">288</text>
<line x1="504.0" y1="446.9" x2="506.6" y2="446.9" stroke="#000" stroke-width="1"/>
<text x="523.0" y="455.2" font-size="19.6" text-anchor="middle">297</text>
<line x1="504.0" y1="497.6" x2="506.6" y2="497.6" stroke="#000" stroke-width="1"/>
<text x="523.0" y="505.9" font-size="19.6" text-anchor="middle">306</text>
<line x1="504.0" y1="548.4" x2="506.6" y2="548.4" stroke="#000" stroke-width="1"/>
<text x="523.0" y="556.7" font-size="19.6" text-anchor="middle">315</text>
</g><g transform="translate(1181,590.5)">
<g clip-path="url(#mapclip)">

<path d="M192.2,296.9 L189.1,292.4 L193.6,287.9 L195.8,280.2 L194.0,273.2 L200.4,269.6 L205.8,266.2 L213.0,263.1 L219.3,261.7 L235.1,262.1 L237.9,266.2 L238.8,272.5 L236.0,275.9 L230.2,278.6 L219.3,280.7 L210.3,282.2 L203.1,284.0 L199.9,286.5 L197.7,289.7 L196.0,295.1Z M217.1,271.6 L220.2,268.5 L224.8,267.4 L232.0,266.7 L228.4,271.2 L225.7,275.0 L220.2,275.9 L217.5,274.1Z" fill="#8ade8a" fill-rule="evenodd"/>
<path d="M223.9,335.3 L213.5,318.2 L213.0,311.8 L214.4,307.3 L215.7,302.3 L219.3,297.4 L224.8,292.9 L232.9,290.2 L241.9,289.0 L249.1,289.2 L253.7,293.8 L256.4,300.1 L257.3,303.7 L254.6,309.1 L253.7,312.7 L248.2,315.4 L242.8,316.8 L237.4,317.3 L234.7,320.9 L237.4,323.6 L241.9,324.5 L246.4,331.7 L242.8,336.2 L239.2,330.8 L237.4,329.0 L232.9,329.9 L228.4,332.6Z" fill="#8ade8a" fill-rule="evenodd"/>
<path d="M238.3,350.7 L241.0,346.2 L246.4,343.4 L253.7,341.6 L261.8,340.7 L267.2,338.9 L268.1,343.4 L264.5,348.0 L260.0,350.7 L253.7,353.4 L246.4,357.0 L244.6,353.4Z" fill="#8ade8a" fill-rule="evenodd"/>
<path d="M260.9,354.7 L262.7,353.4 L267.2,353.4 L268.1,357.0 L265.4,357.9Z" fill="#8ade8a" fill-rule="evenodd"/>
<path d="M173.3,296.0 L170.1,299.6 L174.2,301.9 L168.7,306.4 L164.2,310.0 L161.5,316.3 L159.3,322.7 L161.1,325.8 L159.3,329.4 L165.1,338.9 L163.8,342.5 L176.0,362.9 L173.3,366.0 L174.6,369.6 L179.1,372.4 L180.5,377.8 L186.8,381.4 L188.6,388.6 L194.0,390.4 L195.8,394.0 L199.5,399.5 L200.0,410.3 L196.9,413.9 L191.9,415.4 L193.9,425.1 L197.9,427.1 L204.0,430.2 L206.1,434.2 L210.1,435.2 L211.2,441.3 L215.2,442.4 L216.2,446.9 L223.4,449.5 L226.4,453.5 L232.5,455.6 L236.6,452.5 L240.6,451.5 L242.7,455.6 L248.8,458.6 L255.9,462.7 L261.0,466.7 L267.1,470.8 L274.2,473.9 L281.3,474.9 L288.4,477.9 L293.5,477.9 L297.6,474.9 L303.7,469.8 L308.2,467.8 L301.6,464.7 L299.6,461.7 L302.6,457.6 L305.7,454.5 L307.7,448.4 L301.6,442.4 L298.6,439.3 L291.5,437.3 L285.4,438.3 L279.3,440.3 L273.2,440.3 L270.1,438.3 L265.0,434.2 L258.9,435.2 L254.9,432.2 L249.8,430.7 L240.6,431.7 L235.6,429.1 L230.5,427.1 L228.4,424.1 L224.4,423.0 L222.3,416.9 L217.3,416.4 L215.2,404.7 L214.2,394.6 L209.1,394.1 L206.1,389.5 L201.3,386.8 L195.8,385.0 L192.2,377.8 L194.0,371.0 L187.7,359.7 L191.3,349.8 L194.0,349.3 L204.9,349.8 L208.5,351.6 L211.2,349.8 L213.0,344.4 L207.6,331.7 L208.0,329.4 L198.6,329.4 L192.2,320.9 L193.1,312.7 L190.4,309.1 L179.6,303.7 L176.0,301.0Z M168.3,331.7 L173.3,325.4 L177.8,324.5 L181.4,326.3 L179.6,330.8 L176.0,334.0 L171.9,334.9Z" fill="#8ade8a" fill-rule="evenodd"/>
<path d="M194.0,371.0 L200.4,368.7 L206.7,365.6 L213.9,366.0 L215.3,371.5 L219.3,376.9 L224.8,376.0 L232.9,374.2 L240.1,367.8 L245.5,365.1 L271.7,365.1 L272.6,368.7 L269.9,373.3 L271.3,379.6 L267.2,382.3 L255.5,383.2 L246.4,385.9 L241.9,384.1 L228.4,384.1 L219.3,382.3 L213.9,381.4 L212.1,377.8 L208.5,374.2 L204.0,371.5 L197.7,372.4 L194.9,374.2Z" fill="#8ade8a" fill-rule="evenodd"/>
<path d="M143.5,348.9 L152.5,343.9 L155.2,348.0 L148.4,355.2Z" fill="#8ade8a" fill-rule="evenodd"/>
<path d="M148.4,364.2 L153.4,362.0 L156.1,364.7 L150.7,367.4Z" fill="#8ade8a" fill-rule="evenodd"/>
<path d="M159.3,374.6 L161.1,372.8 L162.9,375.5 L160.6,376.9Z" fill="#8ade8a" fill-rule="evenodd"/>
<path d="M168.7,393.1 L171.5,392.2 L173.3,397.6 L179.6,399.5 L187.7,398.6 L188.6,402.2 L185.9,404.9 L181.4,403.1 L177.8,404.0 L172.4,401.3Z" fill="#8ade8a" fill-rule="evenodd"/>
<path d="M315.0,111.1 L322.2,106.5 L330.4,103.4 L331.3,107.4 L329.5,112.0 L322.2,113.8 L316.8,112.0Z" fill="#8ade8a" fill-rule="evenodd"/>
<path d="M306.9,138.2 L310.5,132.7 L313.2,130.0 L316.8,130.9 L315.0,134.5 L309.6,139.1Z" fill="#8ade8a" fill-rule="evenodd"/>
<path d="M284.3,141.8 L289.7,139.1 L293.3,136.3 L298.7,136.8 L299.7,140.9 L301.5,144.0 L295.1,145.8 L292.4,149.0 L287.9,148.5 L286.1,144.9Z" fill="#8ade8a" fill-rule="evenodd"/>
<path d="M324.9,168.0 L337.6,163.9 L331.7,171.6Z" fill="#8ade8a" fill-rule="evenodd"/>
<path d="M310.5,182.9 L314.1,179.7 L320.4,183.3 L316.8,186.9 L313.2,186.0Z" fill="#8ade8a" fill-rule="evenodd"/>
<path d="M328.1,194.2 L338.5,188.7 L341.2,186.5 L339.4,190.5 L343.5,193.3 L331.3,196.4Z" fill="#8ade8a" fill-rule="evenodd"/>
<path d="M386.4,163.9 L390.9,160.7 L395.4,159.8 L392.7,163.4 L388.2,164.8Z" fill="#8ade8a" fill-rule="evenodd"/>
<path d="M351.1,213.1 L354.8,211.3 L359.3,212.2 L353.9,215.8Z" fill="#8ade8a" fill-rule="evenodd"/>
<path d="M274.4,130.9 L277.1,128.7 L278.4,129.6 L276.2,131.4Z" fill="#8ade8a" fill-rule="evenodd"/>
<path d="M286.1,133.2 L289.7,132.7 L290.6,133.8 L287.0,134.1Z" fill="#8ade8a" fill-rule="evenodd"/>
<path d="M388.5,189.4 L392.6,184.0 L398.0,179.3 L406.8,176.6 L410.2,172.5 L414.9,169.8 L417.6,172.5 L414.9,176.6 L412.2,180.0 L407.5,182.0 L404.7,180.6 L400.7,181.3 L395.3,189.4 L390.5,191.5Z" fill="#8ade8a" fill-rule="evenodd"/>
<path d="M471.1,159.0 L473.2,155.6 L476.6,152.9 L480.6,148.8 L483.3,144.7 L486.7,142.0 L486.7,154.2 L480.6,156.2 L477.2,156.9 L475.2,159.6 L473.2,161.7Z" fill="#8ade8a" fill-rule="evenodd"/>
<path d="M460.3,190.1 L461.7,187.4 L460.3,183.3 L462.3,180.0 L467.1,178.6 L469.8,176.6 L473.2,173.2 L477.2,166.4 L480.6,169.1 L478.6,171.8 L479.9,175.9 L477.9,180.0 L472.5,183.3 L469.8,187.4 L464.4,188.1Z" fill="#8ade8a" fill-rule="evenodd"/>
<path d="M273.9,332.5 L275.3,330.7 L282.5,327.1 L286.1,322.5 L288.8,318.5 L293.3,316.2 L295.1,312.6 L292.4,308.1 L290.6,303.6 L295.1,298.2 L298.7,291.8 L300.6,287.3 L299.7,285.5 L302.4,281.4 L306.0,287.3 L304.2,292.7 L302.4,296.3 L297.8,301.8 L296.9,308.1 L296.9,314.4 L295.1,318.9 L296.9,320.7 L290.6,324.4 L287.9,331.6 L285.2,334.3 L277.1,334.3Z" fill="#8ade8a" fill-rule="evenodd"/>
<path d="M366.9,285.1 L371.9,280.1 L375.5,278.7 L376.4,281.9 L381.0,281.0 L372.8,285.5 L370.1,286.0Z" fill="#8ade8a" fill-rule="evenodd"/>
<path d="M389.1,272.9 L394.5,270.2 L399.9,268.3 L404.4,264.7 L411.7,263.8 L413.5,267.4 L419.0,268.3 L419.0,271.1 L412.6,272.0 L405.3,274.7 L399.9,277.4 L395.4,279.2 L390.9,279.2Z" fill="#8ade8a" fill-rule="evenodd"/>
<path d="M406.7,291.8 L411.7,290.9 L413.5,296.3 L409.0,297.7Z" fill="#8ade8a" fill-rule="evenodd"/>
<path d="M398.1,316.7 L401.7,311.7 L407.1,308.1 L414.4,303.1 L416.2,310.8 L408.1,315.3 L403.5,316.7Z" fill="#8ade8a" fill-rule="evenodd"/>
<path d="M354.8,308.1 L360.2,306.7 L355.7,309.9Z" fill="#8ade8a" fill-rule="evenodd"/>
<path d="M399.9,242.1 L405.3,237.6 L412.6,234.0 L419.0,231.3 L419.0,234.9 L416.2,240.3 L412.6,241.2Z" fill="#8ade8a" fill-rule="evenodd"/>
<path d="M384.1,232.2 L388.2,228.1 L392.7,227.7 L390.9,231.8 L386.4,233.1Z" fill="#8ade8a" fill-rule="evenodd"/>
<path d="M347.2,408.7 L347.7,405.2 L351.3,404.1 L355.8,401.6 L359.4,401.1 L364.5,398.0 L369.6,395.5 L374.7,393.5 L382.3,392.7 L382.3,396.0 L385.3,397.0 L382.8,401.1 L377.7,405.2 L372.6,409.2 L370.6,411.8 L373.6,413.3 L373.1,415.3 L366.5,416.3 L362.5,414.8 L358.4,412.3 L354.3,410.2 L350.8,409.7Z" fill="#8ade8a" fill-rule="evenodd"/>
<path d="M396.5,395.0 L398.0,391.4 L402.6,388.9 L401.6,395.0Z" fill="#8ade8a" fill-rule="evenodd"/>
<path d="M404.1,378.7 L408.2,376.2 L412.8,377.2 L411.7,382.3 L407.2,382.8Z" fill="#8ade8a" fill-rule="evenodd"/>

<g filter="url(#ol)" transform="translate(1.8,-1.2)"><path d="M192.2,296.9 L189.1,292.4 L193.6,287.9 L195.8,280.2 L194.0,273.2 L200.4,269.6 L205.8,266.2 L213.0,263.1 L219.3,261.7 L235.1,262.1 L237.9,266.2 L238.8,272.5 L236.0,275.9 L230.2,278.6 L219.3,280.7 L210.3,282.2 L203.1,284.0 L199.9,286.5 L197.7,289.7 L196.0,295.1Z M217.1,271.6 L220.2,268.5 L224.8,267.4 L232.0,266.7 L228.4,271.2 L225.7,275.0 L220.2,275.9 L217.5,274.1Z" fill="#000" fill-rule="evenodd"/><path d="M223.9,335.3 L213.5,318.2 L213.0,311.8 L214.4,307.3 L215.7,302.3 L219.3,297.4 L224.8,292.9 L232.9,290.2 L241.9,289.0 L249.1,289.2 L253.7,293.8 L256.4,300.1 L257.3,303.7 L254.6,309.1 L253.7,312.7 L248.2,315.4 L242.8,316.8 L237.4,317.3 L234.7,320.9 L237.4,323.6 L241.9,324.5 L246.4,331.7 L242.8,336.2 L239.2,330.8 L237.4,329.0 L232.9,329.9 L228.4,332.6Z" fill="#000" fill-rule="evenodd"/><path d="M238.3,350.7 L241.0,346.2 L246.4,343.4 L253.7,341.6 L261.8,340.7 L267.2,338.9 L268.1,343.4 L264.5,348.0 L260.0,350.7 L253.7,353.4 L246.4,357.0 L244.6,353.4Z" fill="#000" fill-rule="evenodd"/><path d="M260.9,354.7 L262.7,353.4 L267.2,353.4 L268.1,357.0 L265.4,357.9Z" fill="#000" fill-rule="evenodd"/><path d="M173.3,296.0 L170.1,299.6 L174.2,301.9 L168.7,306.4 L164.2,310.0 L161.5,316.3 L159.3,322.7 L161.1,325.8 L159.3,329.4 L165.1,338.9 L163.8,342.5 L176.0,362.9 L173.3,366.0 L174.6,369.6 L179.1,372.4 L180.5,377.8 L186.8,381.4 L188.6,388.6 L194.0,390.4 L195.8,394.0 L199.5,399.5 L200.0,410.3 L196.9,413.9 L191.9,415.4 L193.9,425.1 L197.9,427.1 L204.0,430.2 L206.1,434.2 L210.1,435.2 L211.2,441.3 L215.2,442.4 L216.2,446.9 L223.4,449.5 L226.4,453.5 L232.5,455.6 L236.6,452.5 L240.6,451.5 L242.7,455.6 L248.8,458.6 L255.9,462.7 L261.0,466.7 L267.1,470.8 L274.2,473.9 L281.3,474.9 L288.4,477.9 L293.5,477.9 L297.6,474.9 L303.7,469.8 L308.2,467.8 L301.6,464.7 L299.6,461.7 L302.6,457.6 L305.7,454.5 L307.7,448.4 L301.6,442.4 L298.6,439.3 L291.5,437.3 L285.4,438.3 L279.3,440.3 L273.2,440.3 L270.1,438.3 L265.0,434.2 L258.9,435.2 L254.9,432.2 L249.8,430.7 L240.6,431.7 L235.6,429.1 L230.5,427.1 L228.4,424.1 L224.4,423.0 L222.3,416.9 L217.3,416.4 L215.2,404.7 L214.2,394.6 L209.1,394.1 L206.1,389.5 L201.3,386.8 L195.8,385.0 L192.2,377.8 L194.0,371.0 L187.7,359.7 L191.3,349.8 L194.0,349.3 L204.9,349.8 L208.5,351.6 L211.2,349.8 L213.0,344.4 L207.6,331.7 L208.0,329.4 L198.6,329.4 L192.2,320.9 L193.1,312.7 L190.4,309.1 L179.6,303.7 L176.0,301.0Z M168.3,331.7 L173.3,325.4 L177.8,324.5 L181.4,326.3 L179.6,330.8 L176.0,334.0 L171.9,334.9Z" fill="#000" fill-rule="evenodd"/><path d="M194.0,371.0 L200.4,368.7 L206.7,365.6 L213.9,366.0 L215.3,371.5 L219.3,376.9 L224.8,376.0 L232.9,374.2 L240.1,367.8 L245.5,365.1 L271.7,365.1 L272.6,368.7 L269.9,373.3 L271.3,379.6 L267.2,382.3 L255.5,383.2 L246.4,385.9 L241.9,384.1 L228.4,384.1 L219.3,382.3 L213.9,381.4 L212.1,377.8 L208.5,374.2 L204.0,371.5 L197.7,372.4 L194.9,374.2Z" fill="#000" fill-rule="evenodd"/><path d="M143.5,348.9 L152.5,343.9 L155.2,348.0 L148.4,355.2Z" fill="#000" fill-rule="evenodd"/><path d="M148.4,364.2 L153.4,362.0 L156.1,364.7 L150.7,367.4Z" fill="#000" fill-rule="evenodd"/><path d="M159.3,374.6 L161.1,372.8 L162.9,375.5 L160.6,376.9Z" fill="#000" fill-rule="evenodd"/><path d="M168.7,393.1 L171.5,392.2 L173.3,397.6 L179.6,399.5 L187.7,398.6 L188.6,402.2 L185.9,404.9 L181.4,403.1 L177.8,404.0 L172.4,401.3Z" fill="#000" fill-rule="evenodd"/><path d="M315.0,111.1 L322.2,106.5 L330.4,103.4 L331.3,107.4 L329.5,112.0 L322.2,113.8 L316.8,112.0Z" fill="#000" fill-rule="evenodd"/><path d="M306.9,138.2 L310.5,132.7 L313.2,130.0 L316.8,130.9 L315.0,134.5 L309.6,139.1Z" fill="#000" fill-rule="evenodd"/><path d="M284.3,141.8 L289.7,139.1 L293.3,136.3 L298.7,136.8 L299.7,140.9 L301.5,144.0 L295.1,145.8 L292.4,149.0 L287.9,148.5 L286.1,144.9Z" fill="#000" fill-rule="evenodd"/><path d="M324.9,168.0 L337.6,163.9 L331.7,171.6Z" fill="#000" fill-rule="evenodd"/><path d="M310.5,182.9 L314.1,179.7 L320.4,183.3 L316.8,186.9 L313.2,186.0Z" fill="#000" fill-rule="evenodd"/><path d="M328.1,194.2 L338.5,188.7 L341.2,186.5 L339.4,190.5 L343.5,193.3 L331.3,196.4Z" fill="#000" fill-rule="evenodd"/><path d="M386.4,163.9 L390.9,160.7 L395.4,159.8 L392.7,163.4 L388.2,164.8Z" fill="#000" fill-rule="evenodd"/><path d="M351.1,213.1 L354.8,211.3 L359.3,212.2 L353.9,215.8Z" fill="#000" fill-rule="evenodd"/><path d="M274.4,130.9 L277.1,128.7 L278.4,129.6 L276.2,131.4Z" fill="#000" fill-rule="evenodd"/><path d="M286.1,133.2 L289.7,132.7 L290.6,133.8 L287.0,134.1Z" fill="#000" fill-rule="evenodd"/><path d="M388.5,189.4 L392.6,184.0 L398.0,179.3 L406.8,176.6 L410.2,172.5 L414.9,169.8 L417.6,172.5 L414.9,176.6 L412.2,180.0 L407.5,182.0 L404.7,180.6 L400.7,181.3 L395.3,189.4 L390.5,191.5Z" fill="#000" fill-rule="evenodd"/><path d="M471.1,159.0 L473.2,155.6 L476.6,152.9 L480.6,148.8 L483.3,144.7 L486.7,142.0 L486.7,154.2 L480.6,156.2 L477.2,156.9 L475.2,159.6 L473.2,161.7Z" fill="#000" fill-rule="evenodd"/><path d="M460.3,190.1 L461.7,187.4 L460.3,183.3 L462.3,180.0 L467.1,178.6 L469.8,176.6 L473.2,173.2 L477.2,166.4 L480.6,169.1 L478.6,171.8 L479.9,175.9 L477.9,180.0 L472.5,183.3 L469.8,187.4 L464.4,188.1Z" fill="#000" fill-rule="evenodd"/><path d="M273.9,332.5 L275.3,330.7 L282.5,327.1 L286.1,322.5 L288.8,318.5 L293.3,316.2 L295.1,312.6 L292.4,308.1 L290.6,303.6 L295.1,298.2 L298.7,291.8 L300.6,287.3 L299.7,285.5 L302.4,281.4 L306.0,287.3 L304.2,292.7 L302.4,296.3 L297.8,301.8 L296.9,308.1 L296.9,314.4 L295.1,318.9 L296.9,320.7 L290.6,324.4 L287.9,331.6 L285.2,334.3 L277.1,334.3Z" fill="#000" fill-rule="evenodd"/><path d="M366.9,285.1 L371.9,280.1 L375.5,278.7 L376.4,281.9 L381.0,281.0 L372.8,285.5 L370.1,286.0Z" fill="#000" fill-rule="evenodd"/><path d="M389.1,272.9 L394.5,270.2 L399.9,268.3 L404.4,264.7 L411.7,263.8 L413.5,267.4 L419.0,268.3 L419.0,271.1 L412.6,272.0 L405.3,274.7 L399.9,277.4 L395.4,279.2 L390.9,279.2Z" fill="#000" fill-rule="evenodd"/><path d="M406.7,291.8 L411.7,290.9 L413.5,296.3 L409.0,297.7Z" fill="#000" fill-rule="evenodd"/><path d="M398.1,316.7 L401.7,311.7 L407.1,308.1 L414.4,303.1 L416.2,310.8 L408.1,315.3 L403.5,316.7Z" fill="#000" fill-rule="evenodd"/><path d="M354.8,308.1 L360.2,306.7 L355.7,309.9Z" fill="#000" fill-rule="evenodd"/><path d="M399.9,242.1 L405.3,237.6 L412.6,234.0 L419.0,231.3 L419.0,234.9 L416.2,240.3 L412.6,241.2Z" fill="#000" fill-rule="evenodd"/><path d="M384.1,232.2 L388.2,228.1 L392.7,227.7 L390.9,231.8 L386.4,233.1Z" fill="#000" fill-rule="evenodd"/><path d="M347.2,408.7 L347.7,405.2 L351.3,404.1 L355.8,401.6 L359.4,401.1 L364.5,398.0 L369.6,395.5 L374.7,393.5 L382.3,392.7 L382.3,396.0 L385.3,397.0 L382.8,401.1 L377.7,405.2 L372.6,409.2 L370.6,411.8 L373.6,413.3 L373.1,415.3 L366.5,416.3 L362.5,414.8 L358.4,412.3 L354.3,410.2 L350.8,409.7Z" fill="#000" fill-rule="evenodd"/><path d="M396.5,395.0 L398.0,391.4 L402.6,388.9 L401.6,395.0Z" fill="#000" fill-rule="evenodd"/><path d="M404.1,378.7 L408.2,376.2 L412.8,377.2 L411.7,382.3 L407.2,382.8Z" fill="#000" fill-rule="evenodd"/></g>
<ellipse cx="208.7" cy="262.1" rx="4.1" ry="7.0" transform="rotate(0 208.7 262.1)" fill="none" stroke="#000" stroke-width="2"/>
<ellipse cx="230.9" cy="372.4" rx="4.5" ry="7.2" transform="rotate(-15 230.9 372.4)" fill="none" stroke="#000" stroke-width="2"/>
<ellipse cx="293.3" cy="310.8" rx="6.5" ry="4.5" transform="rotate(-25 293.3 310.8)" fill="none" stroke="#000" stroke-width="2"/>
</g>
<line x1="36.50" y1="40.95" x2="36.50" y2="549.0" stroke="#000" stroke-width="1.15" stroke-dasharray="2.8 5.48" fill="none"/>
<line x1="115.50" y1="40.95" x2="115.50" y2="549.0" stroke="#000" stroke-width="1.15" stroke-dasharray="2.8 5.48" fill="none"/>
<line x1="194.50" y1="40.95" x2="194.50" y2="549.0" stroke="#000" stroke-width="1.15" stroke-dasharray="2.8 5.48" fill="none"/>
<line x1="272.50" y1="40.95" x2="272.50" y2="549.0" stroke="#000" stroke-width="1.15" stroke-dasharray="2.8 5.48" fill="none"/>
<line x1="351.50" y1="40.95" x2="351.50" y2="549.0" stroke="#000" stroke-width="1.15" stroke-dasharray="2.8 5.48" fill="none"/>
<line x1="430.50" y1="40.95" x2="430.50" y2="549.0" stroke="#000" stroke-width="1.15" stroke-dasharray="2.8 5.48" fill="none"/>
<line x1="12.8" y1="97.00" x2="486.0" y2="97.00" stroke="#000" stroke-width="1.15" stroke-dasharray="2.8 5.46" fill="none"/>
<line x1="12.8" y1="181.00" x2="486.0" y2="181.00" stroke="#000" stroke-width="1.15" stroke-dasharray="2.8 5.46" fill="none"/>
<line x1="12.8" y1="266.00" x2="486.0" y2="266.00" stroke="#000" stroke-width="1.15" stroke-dasharray="2.8 5.46" fill="none"/>
<line x1="12.8" y1="350.00" x2="486.0" y2="350.00" stroke="#000" stroke-width="1.15" stroke-dasharray="2.8 5.46" fill="none"/>
<line x1="12.8" y1="435.00" x2="486.0" y2="435.00" stroke="#000" stroke-width="1.15" stroke-dasharray="2.8 5.46" fill="none"/>
<line x1="12.8" y1="519.00" x2="486.0" y2="519.00" stroke="#000" stroke-width="1.15" stroke-dasharray="2.8 5.46" fill="none"/>
<polyline points="13.0,396.4 18.9,393.7 24.8,391.0 30.7,388.2 36.6,385.5 42.5,382.7 48.4,379.9 54.3,377.2 60.2,374.4 66.1,371.5 72.0,368.7 77.9,365.9 83.8,363.1 89.7,360.2 95.6,357.3 101.5,354.5 107.4,351.6 113.3,348.7 119.2,345.7 125.1,342.8 131.0,339.9 136.9,336.9 142.8,334.0 148.7,331.0 154.6,328.0 160.5,325.0 166.4,322.0 172.3,319.0 178.2,316.0 184.1,313.0 190.0,309.9 195.9,306.8 201.8,303.8 207.7,300.7 213.6,297.6 219.5,294.5 225.4,291.4 231.3,288.2 237.2,285.1 243.1,282.0 248.9,278.8 254.8,275.6 260.7,272.4 266.6,269.2 272.5,266.0 278.4,262.8 284.3,259.6 290.2,256.3 296.1,253.1 302.0,249.8 307.9,246.5 313.8,243.2 319.7,239.9 325.6,236.6 331.5,233.3 337.4,230.0 343.3,226.6 349.2,223.3 355.1,219.9 361.0,216.5 366.9,213.1 372.8,209.7 378.7,206.3 384.6,202.9 390.5,199.4 396.4,196.0 402.3,192.5 408.2,189.1 414.1,185.6 420.0,182.1 425.9,178.6 431.8,175.1 437.7,171.5 443.6,168.0 449.5,164.4 455.4,160.9 461.3,157.3 467.2,153.7 473.1,150.1 479.0,146.5" stroke="#000" stroke-width="1.1" fill="none" stroke-dasharray="12 11.45"/>
<polyline points="13.0,501.5 18.9,498.8 24.9,496.1 30.8,493.3 36.7,490.6 42.7,487.9 48.6,485.1 54.6,482.4 60.5,479.6 66.4,476.8 72.4,474.0 78.3,471.2 84.2,468.4 90.2,465.6 96.1,462.7 102.1,459.9 108.0,457.0 113.9,454.1 119.9,451.3 125.8,448.4 131.7,445.5 137.7,442.5 143.6,439.6 149.5,436.7 155.5,433.7 161.4,430.8 167.4,427.8 173.3,424.8 179.2,421.8 185.2,418.8 191.1,415.8 197.0,412.8 203.0,409.8 208.9,406.7 214.8,403.7 220.8,400.6 226.7,397.5 232.7,394.4 238.6,391.3 244.5,388.2 250.5,385.1 256.4,382.0 262.3,378.8 268.3,375.7 274.2,372.5 280.2,369.3 286.1,366.2 292.0,363.0 298.0,359.8 303.9,356.5 309.8,353.3 315.8,350.1 321.7,346.8 327.6,343.6 333.6,340.3 339.5,337.0 345.5,333.7 351.4,330.4 357.3,327.1 363.3,323.8 369.2,320.4 375.1,317.1 381.1,313.7 387.0,310.3 392.9,307.0 398.9,303.6 404.8,300.2 410.8,296.8 416.7,293.3 422.6,289.9 428.6,286.4 434.5,283.0 440.4,279.5 446.4,276.0 452.3,272.5 458.3,269.0 464.2,265.5 470.1,262.0 476.1,258.5 482.0,254.9" stroke="#000" stroke-width="1.1" fill="none" stroke-dasharray="12 11.45"/>
<text x="36.6" y="286.7" font-size="12.2" text-anchor="middle">76</text>
<text x="115.4" y="286.7" font-size="12.2" text-anchor="middle">78</text>
<text x="194.1" y="286.7" font-size="12.2" text-anchor="middle">80</text>
<text x="272.9" y="286.7" font-size="12.2" text-anchor="middle">82</text>
<text x="351.6" y="286.7" font-size="12.2" text-anchor="middle">84</text>
<text x="430.4" y="286.7" font-size="12.2" text-anchor="middle">86</text>
<text x="253.4" y="97.1" font-size="12.2" text-anchor="middle">-18</text>
<text x="253.4" y="181.6" font-size="12.2" text-anchor="middle">-20</text>
<text x="253.4" y="266.1" font-size="12.2" text-anchor="middle">-22</text>
<text x="253.4" y="350.6" font-size="12.2" text-anchor="middle">-24</text>
<text x="253.4" y="435.1" font-size="12.2" text-anchor="middle">-26</text>
<text x="253.4" y="519.6" font-size="12.2" text-anchor="middle">-28</text>
<rect x="242.9" y="292.1" width="13" height="4.7" fill="#000"/><rect x="247.1" y="288.0" width="4.7" height="13" fill="#000"/>

<text x="36.5" y="66.0" font-size="25">2A12 rainrate (mm/hr)</text>
<text x="456.5" y="523.0" font-size="29" text-anchor="middle">(f)</text>
<rect x="495.2" y="531.48" width="8.8" height="8.76" fill="#88dd88"/>
<rect x="495.2" y="523.01" width="8.8" height="8.76" fill="#80d680"/>
<rect x="495.2" y="514.55" width="8.8" height="8.76" fill="#78cf78"/>
<rect x="495.2" y="506.09" width="8.8" height="8.76" fill="#70c870"/>
<rect x="495.2" y="497.63" width="8.8" height="8.76" fill="#6ac06a"/>
<rect x="495.2" y="489.17" width="8.8" height="8.76" fill="#64b964"/>
<rect x="495.2" y="480.70" width="8.8" height="8.76" fill="#60b060"/>
<rect x="495.2" y="472.24" width="8.8" height="8.76" fill="#ccd4ff"/>
<rect x="495.2" y="463.78" width="8.8" height="8.76" fill="#bbccff"/>
<rect x="495.2" y="455.32" width="8.8" height="8.76" fill="#aac4ff"/>
<rect x="495.2" y="446.86" width="8.8" height="8.76" fill="#90bcff"/>
<rect x="495.2" y="438.39" width="8.8" height="8.76" fill="#77b4ff"/>
<rect x="495.2" y="429.93" width="8.8" height="8.76" fill="#66afff"/>
<rect x="495.2" y="421.47" width="8.8" height="8.76" fill="#55aaff"/>
<rect x="495.2" y="413.01" width="8.8" height="8.76" fill="#4c99ff"/>
<rect x="495.2" y="404.55" width="8.8" height="8.76" fill="#4488ff"/>
<rect x="495.2" y="396.08" width="8.8" height="8.76" fill="#3c77ff"/>
<rect x="495.2" y="387.62" width="8.8" height="8.76" fill="#3366ff"/>
<rect x="495.2" y="379.16" width="8.8" height="8.76" fill="#2e47ff"/>
<rect x="495.2" y="370.70" width="8.8" height="8.76" fill="#2828ff"/>
<rect x="495.2" y="362.24" width="8.8" height="8.76" fill="#0000ff"/>
<rect x="495.2" y="353.77" width="8.8" height="8.76" fill="#0000ff"/>
<rect x="495.2" y="345.31" width="8.8" height="8.76" fill="#0000f0"/>
<rect x="495.2" y="336.85" width="8.8" height="8.76" fill="#0000e0"/>
<rect x="495.2" y="328.39" width="8.8" height="8.76" fill="#0000d4"/>
<rect x="495.2" y="319.93" width="8.8" height="8.76" fill="#0000c8"/>
<rect x="495.2" y="311.46" width="8.8" height="8.76" fill="#0000c0"/>
<rect x="495.2" y="303.00" width="8.8" height="8.76" fill="#ffff00"/>
<rect x="495.2" y="294.54" width="8.8" height="8.76" fill="#fff400"/>
<rect x="495.2" y="286.08" width="8.8" height="8.76" fill="#ffe800"/>
<rect x="495.2" y="277.62" width="8.8" height="8.76" fill="#ffdc00"/>
<rect x="495.2" y="269.15" width="8.8" height="8.76" fill="#ffd200"/>
<rect x="495.2" y="260.69" width="8.8" height="8.76" fill="#ffc800"/>
<rect x="495.2" y="252.23" width="8.8" height="8.76" fill="#ffc000"/>
<rect x="495.2" y="243.77" width="8.8" height="8.76" fill="#ff8c00"/>
<rect x="495.2" y="235.31" width="8.8" height="8.76" fill="#ff8400"/>
<rect x="495.2" y="226.84" width="8.8" height="8.76" fill="#ff7c00"/>
<rect x="495.2" y="218.38" width="8.8" height="8.76" fill="#ff7400"/>
<rect x="495.2" y="209.92" width="8.8" height="8.76" fill="#ff6c00"/>
<rect x="495.2" y="201.46" width="8.8" height="8.76" fill="#ff6400"/>
<rect x="495.2" y="193.00" width="8.8" height="8.76" fill="#ff4000"/>
<rect x="495.2" y="184.53" width="8.8" height="8.76" fill="#ff3800"/>
<rect x="495.2" y="176.07" width="8.8" height="8.76" fill="#ff3000"/>
<rect x="495.2" y="167.61" width="8.8" height="8.76" fill="#ff2800"/>
<rect x="495.2" y="159.15" width="8.8" height="8.76" fill="#ff2000"/>
<rect x="495.2" y="150.69" width="8.8" height="8.76" fill="#ff1800"/>
<rect x="495.2" y="142.22" width="8.8" height="8.76" fill="#ff1000"/>
<rect x="495.2" y="133.76" width="8.8" height="8.76" fill="#cc0000"/>
<rect x="495.2" y="125.30" width="8.8" height="8.76" fill="#c80000"/>
<rect x="495.2" y="116.84" width="8.8" height="8.76" fill="#c00000"/>
<rect x="495.2" y="108.38" width="8.8" height="8.76" fill="#b40000"/>
<rect x="495.2" y="99.91" width="8.8" height="8.76" fill="#a80000"/>
<rect x="495.2" y="91.45" width="8.8" height="8.76" fill="#9c0400"/>
<rect x="495.2" y="82.99" width="8.8" height="8.76" fill="#900800"/>
<rect x="495.2" y="74.53" width="8.8" height="8.76" fill="#620c08"/>
<rect x="495.2" y="66.07" width="8.8" height="8.76" fill="#5e1210"/>
<rect x="495.2" y="57.60" width="8.8" height="8.76" fill="#5c1612"/>
<rect x="495.2" y="49.14" width="8.8" height="8.76" fill="#5a1816"/>
<rect x="495.2" y="40.68" width="8.8" height="8.76" fill="#5a1a18"/>
<line x1="504.0" y1="91.5" x2="506.6" y2="91.5" stroke="#000" stroke-width="1"/>
<text x="524.0" y="99.8" font-size="19.6" text-anchor="middle">54</text>
<line x1="504.0" y1="142.2" x2="506.6" y2="142.2" stroke="#000" stroke-width="1"/>
<text x="524.0" y="150.5" font-size="19.6" text-anchor="middle">48</text>
<line x1="504.0" y1="193.0" x2="506.6" y2="193.0" stroke="#000" stroke-width="1"/>
<text x="524.0" y="201.3" font-size="19.6" text-anchor="middle">42</text>
<line x1="504.0" y1="243.8" x2="506.6" y2="243.8" stroke="#000" stroke-width="1"/>
<text x="524.0" y="252.1" font-size="19.6" text-anchor="middle">36</text>
<line x1="504.0" y1="294.5" x2="506.6" y2="294.5" stroke="#000" stroke-width="1"/>
<text x="524.0" y="302.8" font-size="19.6" text-anchor="middle">30</text>
<line x1="504.0" y1="345.3" x2="506.6" y2="345.3" stroke="#000" stroke-width="1"/>
<text x="524.0" y="353.6" font-size="19.6" text-anchor="middle">24</text>
<line x1="504.0" y1="396.1" x2="506.6" y2="396.1" stroke="#000" stroke-width="1"/>
<text x="524.0" y="404.4" font-size="19.6" text-anchor="middle">18</text>
<line x1="504.0" y1="446.9" x2="506.6" y2="446.9" stroke="#000" stroke-width="1"/>
<text x="524.0" y="455.2" font-size="19.6" text-anchor="middle">12</text>
<line x1="504.0" y1="497.6" x2="506.6" y2="497.6" stroke="#000" stroke-width="1"/>
<text x="524.0" y="505.9" font-size="19.6" text-anchor="middle">6</text>
<line x1="504.0" y1="548.4" x2="506.6" y2="548.4" stroke="#000" stroke-width="1"/>
<text x="524.0" y="556.7" font-size="19.6" text-anchor="middle">0</text>
</g><g transform="translate(0,1181)">
<g clip-path="url(#mapclip)">
<polygon points="12.9,272.5 20.9,268.7 28.9,264.8 37.0,261.0 45.0,257.1 53.0,253.2 61.0,249.3 69.0,245.3 77.0,241.4 85.1,237.4 93.1,233.4 101.1,229.3 109.1,225.3 117.1,221.2 125.2,217.1 133.2,212.9 141.2,208.8 149.2,204.6 157.2,200.4 165.3,196.2 173.3,192.0 181.3,187.7 189.3,183.4 197.3,179.1 205.3,174.8 213.4,170.4 221.4,166.1 229.4,161.7 237.4,157.2 245.4,152.8 253.5,148.3 261.5,143.8 269.5,139.3 277.5,134.8 285.5,130.2 293.6,125.6 301.6,121.0 309.6,116.4 317.6,111.8 325.6,107.1 333.6,102.4 341.7,97.7 349.7,92.9 357.7,88.2 365.7,83.4 373.7,78.6 381.8,73.8 389.8,68.9 397.8,64.0 405.8,59.1 413.8,54.2 421.9,49.3 429.9,44.3 437.9,40.8 445.9,40.8 453.9,40.8 461.9,40.8 470.0,40.8 478.0,40.8 486.0,40.8 486.0,382.9 478.0,387.6 470.0,392.2 461.9,396.9 453.9,401.5 445.9,406.1 437.9,410.7 429.9,415.3 421.9,419.8 413.8,424.4 405.8,428.9 397.8,433.4 389.8,437.9 381.8,442.4 373.7,446.8 365.7,451.3 357.7,455.7 349.7,460.1 341.7,464.5 333.6,468.9 325.6,473.2 317.6,477.5 309.6,481.9 301.6,486.2 293.6,490.5 285.5,494.8 277.5,499.0 269.5,503.3 261.5,507.5 253.5,511.7 245.4,515.9 237.4,520.1 229.4,524.2 221.4,528.4 213.4,532.5 205.3,536.6 197.3,540.7 189.3,544.8 181.3,548.6 173.3,548.6 165.3,548.6 157.2,548.6 149.2,548.6 141.2,548.6 133.2,548.6 125.2,548.6 117.1,548.6 109.1,548.6 101.1,548.6 93.1,548.6 85.1,548.6 77.0,548.6 69.0,548.6 61.0,548.6 53.0,548.6 45.0,548.6 37.0,548.6 28.9,548.6 20.9,548.6 12.9,548.6" fill="#dbdbdb"/><g clip-path="url(#clipVIRS)"><rect x="0" y="0" width="500" height="560" filter="url(#vn)"/>
<polygon points="170.0,194.0 215.0,179.0 255.0,189.0 262.0,239.0 250.0,289.0 215.0,299.0 180.0,289.0 168.0,239.0" fill="#c8c8c8" opacity="0.8" filter="url(#bl6)"/>
<ellipse cx="400.0" cy="219.0" rx="25" ry="15" transform="rotate(-30 400.0 219.0)" fill="#c6c6c6" opacity="0.8" filter="url(#bl6)"/>
<ellipse cx="445.0" cy="244.0" rx="28" ry="18" transform="rotate(-30 445.0 244.0)" fill="#c4c4c4" opacity="0.8" filter="url(#bl6)"/>
<ellipse cx="468.0" cy="214.0" rx="16" ry="22" transform="rotate(0 468.0 214.0)" fill="#cacaca" opacity="0.8" filter="url(#bl6)"/>
<ellipse cx="390.0" cy="261.0" rx="20" ry="10" transform="rotate(-30 390.0 261.0)" fill="#cccccc" opacity="0.8" filter="url(#bl4)"/>
<ellipse cx="418.0" cy="307.0" rx="14" ry="11" transform="rotate(0 418.0 307.0)" fill="#c2c2c2" opacity="0.8" filter="url(#bl4)"/>
<ellipse cx="320.0" cy="154.0" rx="30" ry="25" transform="rotate(-30 320.0 154.0)" fill="#dadada" opacity="0.8" filter="url(#bl8)"/>
<ellipse cx="447.0" cy="127.0" rx="18" ry="24" transform="rotate(-30 447.0 127.0)" fill="#d2d2d2" opacity="0.8" filter="url(#bl6)"/>
<ellipse cx="420.0" cy="119.0" rx="40" ry="25" transform="rotate(0 420.0 119.0)" fill="#d8d8d8" opacity="0.8" filter="url(#bl8)"/>
<ellipse cx="315.0" cy="254.0" rx="35" ry="65" transform="rotate(-25 315.0 254.0)" fill="#e4e4e4" opacity="0.8" filter="url(#bl8)"/>
<ellipse cx="252.0" cy="306.0" rx="30" ry="22" transform="rotate(0 252.0 306.0)" fill="#d4d4d4" opacity="0.8" filter="url(#bl6)"/>
<polygon points="180.0,324.0 337.0,324.0 337.0,379.0 180.0,379.0" fill="#d2d2d2" opacity="0.8" filter="url(#bl8)"/>
<polygon points="195.0,433.0 260.0,404.0 350.0,419.0 350.0,505.0 260.0,519.0 195.0,519.0" fill="#c9c9c9" opacity="0.8" filter="url(#bl6)"/>
<ellipse cx="302.0" cy="399.0" rx="18" ry="16" transform="rotate(0 302.0 399.0)" fill="#c4c4c4" opacity="0.8" filter="url(#bl4)"/>
<ellipse cx="385.0" cy="411.0" rx="38" ry="20" transform="rotate(-25 385.0 411.0)" fill="#c8c8c8" opacity="0.8" filter="url(#bl6)"/>
<ellipse cx="455.0" cy="387.0" rx="32" ry="12" transform="rotate(-25 455.0 387.0)" fill="#cccccc" opacity="0.8" filter="url(#bl6)"/>
<ellipse cx="90.0" cy="379.0" rx="70" ry="90" transform="rotate(-30 90.0 379.0)" fill="#e0e0e0" opacity="0.8" filter="url(#bl8)"/>
<ellipse cx="45.0" cy="494.0" rx="35" ry="40" transform="rotate(0 45.0 494.0)" fill="#d2d2d2" opacity="0.8" filter="url(#bl8)"/>
<ellipse cx="150.0" cy="439.0" rx="30" ry="25" transform="rotate(0 150.0 439.0)" fill="#d8d8d8" opacity="0.8" filter="url(#bl8)"/>
<ellipse cx="140.0" cy="239.0" rx="40" ry="30" transform="rotate(0 140.0 239.0)" fill="#d8d8d8" opacity="0.8" filter="url(#bl8)"/>
<ellipse cx="250.0" cy="129.0" rx="35" ry="20" transform="rotate(-30 250.0 129.0)" fill="#dadada" opacity="0.8" filter="url(#bl8)"/></g>
<ellipse cx="194.4" cy="244.2" rx="1.4" ry="1.3" fill="#000"/>
<ellipse cx="244.2" cy="250.3" rx="0.9" ry="2.0" fill="#000"/>
<ellipse cx="231.5" cy="241.2" rx="1.1" ry="2.3" fill="#000"/>
<ellipse cx="182.2" cy="264.5" rx="0.8" ry="0.8" fill="#000"/>
<ellipse cx="179.1" cy="274.2" rx="0.6" ry="0.6" fill="#000"/>
<ellipse cx="188.8" cy="234.1" rx="0.7" ry="0.5" fill="#000"/>
<ellipse cx="194.4" cy="234.6" rx="0.6" ry="0.6" fill="#000"/>
<ellipse cx="199.5" cy="228.5" rx="0.5" ry="0.5" fill="#000"/>
<ellipse cx="215.7" cy="283.3" rx="0.5" ry="0.5" fill="#000"/>
<ellipse cx="229.5" cy="256.4" rx="0.7" ry="0.6" fill="#000"/>
<ellipse cx="235.5" cy="270.1" rx="2.3" ry="0.8" fill="#000"/>
<ellipse cx="182.7" cy="256.9" rx="1.8" ry="0.8" fill="#000"/>
<ellipse cx="444.0" cy="60.6" rx="1.3" ry="1.3" fill="#000"/>
<ellipse cx="452.8" cy="61.9" rx="0.9" ry="0.8" fill="#000"/>
<ellipse cx="438.1" cy="70.8" rx="0.9" ry="0.9" fill="#000"/>
<ellipse cx="482.9" cy="58.7" rx="3.3" ry="0.8" fill="#000"/>
<ellipse cx="429.0" cy="55.4" rx="2.5" ry="1.3" fill="#000"/>
<ellipse cx="485.0" cy="83.8" rx="0.6" ry="1.7" fill="#000"/>
<ellipse cx="119.9" cy="325.0" rx="2.2" ry="3.5" fill="#000"/>
<ellipse cx="165.7" cy="316.5" rx="1.8" ry="2.3" fill="#000"/>
<ellipse cx="168.3" cy="338.8" rx="1.6" ry="4.0" fill="#000"/>
<ellipse cx="156.5" cy="359.6" rx="1.2" ry="1.2" fill="#000"/>
<ellipse cx="154.0" cy="367.7" rx="2.0" ry="1.8" fill="#000"/>
<ellipse cx="146.3" cy="407.7" rx="1.4" ry="1.4" fill="#000"/>
<ellipse cx="126.0" cy="430.0" rx="1.2" ry="1.2" fill="#000"/>
<ellipse cx="122.0" cy="435.0" rx="1.2" ry="1.2" fill="#000"/>
<ellipse cx="105.3" cy="367.0" rx="1.2" ry="1.2" fill="#000"/>
<ellipse cx="192.7" cy="318.0" rx="1.2" ry="1.6" fill="#000"/>
<ellipse cx="190.0" cy="327.5" rx="1.0" ry="1.0" fill="#000"/>
<ellipse cx="211.4" cy="290.9" rx="1.3" ry="1.3" fill="#000"/>
<ellipse cx="206.3" cy="302.7" rx="1.0" ry="1.0" fill="#000"/>
<ellipse cx="13.5" cy="508.0" rx="1.2" ry="1.6" fill="#000"/>
<ellipse cx="319.4" cy="178.5" rx="1.8" ry="1.8" fill="#000"/>
<ellipse cx="395.3" cy="183.6" rx="1.8" ry="2.0" fill="#000"/>
<ellipse cx="421.0" cy="230.4" rx="1.6" ry="1.6" fill="#000"/>
<ellipse cx="442.4" cy="256.5" rx="1.0" ry="1.5" fill="#000"/>
<ellipse cx="479.6" cy="166.0" rx="1.4" ry="1.4" fill="#000"/>
<ellipse cx="474.6" cy="178.0" rx="1.0" ry="1.0" fill="#000"/>
<path d="M229.5,226.4 L231.0,222.9 L234.0,220.8 L237.1,222.4 L239.6,226.4 L240.1,230.5 L239.1,234.6 L236.6,237.6 L235.5,239.7 L233.5,238.6 L232.5,242.2 L229.5,244.7 L228.9,243.7 L231.0,239.7 L231.5,234.6 L230.0,230.5Z" fill="#80d880"/><path d="M197.4,231.5 L200.5,231.5 L202.5,233.6 L203.5,236.1 L205.6,236.6 L206.6,238.6 L205.6,240.7 L203.0,241.2 L201.0,239.1 L201.5,237.1 L199.5,234.6Z" fill="#80d880"/><path d="M185.8,254.9 L187.8,253.9 L190.3,254.4 L191.3,257.4 L190.3,259.0 L188.3,260.0 L187.3,263.0 L185.8,264.0 L185.2,261.0 L186.8,258.5 L185.2,256.9Z" fill="#80d880"/><path d="M231.5,261.5 L234.5,257.9 L237.6,254.9 L240.1,254.4 L240.6,255.9 L237.6,260.0 L235.0,263.5 L232.5,264.0Z" fill="#80d880"/><path d="M227.9,253.4 L227.7,254.1 L226.9,254.7 L225.9,254.9 L224.9,254.7 L224.1,254.1 L223.9,253.4 L224.1,252.6 L224.9,252.0 L225.9,251.8 L226.9,252.0 L227.7,252.6Z" fill="#80d880"/><path d="M225.4,264.5 L225.0,265.2 L224.1,265.6 L222.8,265.8 L221.6,265.6 L220.6,265.2 L220.3,264.5 L220.6,263.9 L221.6,263.4 L222.8,263.3 L224.1,263.4 L225.0,263.9Z" fill="#80d880"/><path d="M202.5,249.3 L202.2,249.9 L201.5,250.4 L200.5,250.6 L199.5,250.4 L198.7,249.9 L198.5,249.3 L198.7,248.7 L199.5,248.2 L200.5,248.0 L201.5,248.2 L202.2,248.7Z" fill="#80d880"/><path d="M187.3,272.7 L187.0,273.4 L186.3,274.0 L185.2,274.2 L184.2,274.0 L183.5,273.4 L183.2,272.7 L183.5,271.9 L184.2,271.4 L185.2,271.2 L186.3,271.4 L187.0,271.9Z" fill="#80d880"/><path d="M216.0,275.7 L215.7,276.4 L215.1,276.8 L214.2,277.0 L213.3,276.8 L212.7,276.4 L212.4,275.7 L212.7,275.1 L213.3,274.6 L214.2,274.5 L215.1,274.6 L215.7,275.1Z" fill="#80d880"/><path d="M221.1,269.6 L220.8,270.3 L220.2,270.7 L219.3,270.9 L218.4,270.7 L217.7,270.3 L217.5,269.6 L217.7,269.0 L218.4,268.5 L219.3,268.4 L220.2,268.5 L220.8,269.0Z" fill="#80d880"/><path d="M224.4,275.2 L224.1,275.9 L223.4,276.3 L222.3,276.5 L221.3,276.3 L220.6,275.9 L220.3,275.2 L220.6,274.6 L221.3,274.1 L222.3,273.9 L223.4,274.1 L224.1,274.6Z" fill="#80d880"/><path d="M206.6,273.7 L206.4,274.7 L205.8,275.5 L205.1,275.7 L204.3,275.5 L203.7,274.7 L203.5,273.7 L203.7,272.7 L204.3,271.9 L205.1,271.7 L205.8,271.9 L206.4,272.7Z" fill="#80d880"/><path d="M453.6,38.7 L470.3,38.7 L469.9,45.4 L468.2,48.7 L466.1,50.4 L465.3,52.0 L462.4,50.8 L461.5,48.3 L463.2,47.0 L459.9,46.2 L455.7,45.8 L453.2,44.5Z" fill="#80d880"/><path d="M472.4,38.7 L487.0,38.7 L487.0,55.0 L486.0,55.0 L483.7,55.0 L480.8,51.2 L473.7,52.0 L472.8,49.5 L473.3,45.4Z" fill="#80d880"/><path d="M450.3,58.3 L453.6,56.2 L456.1,55.0 L457.8,52.5 L459.5,51.2 L461.1,53.7 L460.3,55.8 L457.8,57.9 L454.4,58.7 L451.9,59.6Z" fill="#80d880"/><path d="M439.8,76.7 L441.9,75.9 L445.3,78.4 L447.8,80.9 L449.4,80.0 L449.4,77.1 L452.4,78.8 L453.6,81.3 L457.0,82.1 L460.7,85.1 L460.3,87.1 L457.8,87.1 L453.6,85.9 L450.3,85.1 L447.8,83.8 L445.3,82.1 L441.9,80.0 L440.2,78.8Z" fill="#80d880"/><path d="M463.6,82.5 L465.3,81.7 L468.7,83.4 L471.2,83.0 L473.7,85.9 L475.3,88.8 L474.1,89.7 L470.3,88.8 L467.0,88.0 L464.5,85.5Z" fill="#80d880"/><path d="M481.6,85.9 L482.9,85.1 L485.4,87.1 L486.0,89.2 L484.5,90.5 L482.4,88.4Z" fill="#80d880"/><path d="M417.3,57.9 L419.3,54.6 L421.4,53.3 L421.0,56.6 L418.9,59.6Z" fill="#80d880"/><path d="M428.5,47.9 L430.2,47.2 L430.6,48.3 L429.0,48.9Z" fill="#80d880"/><path d="M412.6,172.0 L415.0,168.5 L418.0,170.0 L417.0,175.0 L414.0,176.5Z" fill="#80d880"/><path d="M481.0,149.0 L484.0,143.0 L486.0,142.0 L486.0,152.0 L482.0,153.0Z" fill="#80d880"/>
<path d="M232.0,225.4 L235.0,228.5 L237.6,231.5 L236.6,234.1 L234.0,230.5Z" fill="#c8d0ff"/><path d="M188.3,255.4 L190.1,256.4 L189.8,258.5 L187.5,262.0 L186.5,262.5 L187.8,259.0Z" fill="#b0ccff"/><path d="M456.1,39.5 L468.7,39.5 L468.2,44.9 L464.1,44.9 L457.8,44.7 L456.1,43.3Z" fill="#66aaff"/><path d="M457.8,42.0 L462.0,41.6 L461.5,44.1 L458.2,44.5Z" fill="#3355ff"/><path d="M478.7,41.2 L482.9,41.2 L485.8,47.9 L484.5,48.7Z" fill="#88c4ff"/><path d="M456.1,56.6 L457.8,54.6 L459.0,53.7 L457.4,56.6Z" fill="#c8d0ff"/><path d="M452.8,83.4 L455.3,83.8 L457.4,85.5 L454.9,85.5Z" fill="#c8d0ff"/><path d="M470.7,84.6 L472.4,85.9 L473.3,88.0 L471.2,87.6Z" fill="#6688ff"/>
<g fill="none" stroke="#000" stroke-width="1.3" stroke-linejoin="round" transform="translate(0.6,-0.5)"><path d="M229.5,226.4 L231.0,222.9 L234.0,220.8 L237.1,222.4 L239.6,226.4 L240.1,230.5 L239.1,234.6 L236.6,237.6 L235.5,239.7 L233.5,238.6 L232.5,242.2 L229.5,244.7 L228.9,243.7 L231.0,239.7 L231.5,234.6 L230.0,230.5Z"/><path d="M197.4,231.5 L200.5,231.5 L202.5,233.6 L203.5,236.1 L205.6,236.6 L206.6,238.6 L205.6,240.7 L203.0,241.2 L201.0,239.1 L201.5,237.1 L199.5,234.6Z"/><path d="M185.8,254.9 L187.8,253.9 L190.3,254.4 L191.3,257.4 L190.3,259.0 L188.3,260.0 L187.3,263.0 L185.8,264.0 L185.2,261.0 L186.8,258.5 L185.2,256.9Z"/><path d="M231.5,261.5 L234.5,257.9 L237.6,254.9 L240.1,254.4 L240.6,255.9 L237.6,260.0 L235.0,263.5 L232.5,264.0Z"/><path d="M227.9,253.4 L227.7,254.1 L226.9,254.7 L225.9,254.9 L224.9,254.7 L224.1,254.1 L223.9,253.4 L224.1,252.6 L224.9,252.0 L225.9,251.8 L226.9,252.0 L227.7,252.6Z"/><path d="M225.4,264.5 L225.0,265.2 L224.1,265.6 L222.8,265.8 L221.6,265.6 L220.6,265.2 L220.3,264.5 L220.6,263.9 L221.6,263.4 L222.8,263.3 L224.1,263.4 L225.0,263.9Z"/><path d="M202.5,249.3 L202.2,249.9 L201.5,250.4 L200.5,250.6 L199.5,250.4 L198.7,249.9 L198.5,249.3 L198.7,248.7 L199.5,248.2 L200.5,248.0 L201.5,248.2 L202.2,248.7Z"/><path d="M187.3,272.7 L187.0,273.4 L186.3,274.0 L185.2,274.2 L184.2,274.0 L183.5,273.4 L183.2,272.7 L183.5,271.9 L184.2,271.4 L185.2,271.2 L186.3,271.4 L187.0,271.9Z"/><path d="M216.0,275.7 L215.7,276.4 L215.1,276.8 L214.2,277.0 L213.3,276.8 L212.7,276.4 L212.4,275.7 L212.7,275.1 L213.3,274.6 L214.2,274.5 L215.1,274.6 L215.7,275.1Z"/><path d="M221.1,269.6 L220.8,270.3 L220.2,270.7 L219.3,270.9 L218.4,270.7 L217.7,270.3 L217.5,269.6 L217.7,269.0 L218.4,268.5 L219.3,268.4 L220.2,268.5 L220.8,269.0Z"/><path d="M224.4,275.2 L224.1,275.9 L223.4,276.3 L222.3,276.5 L221.3,276.3 L220.6,275.9 L220.3,275.2 L220.6,274.6 L221.3,274.1 L222.3,273.9 L223.4,274.1 L224.1,274.6Z"/><path d="M206.6,273.7 L206.4,274.7 L205.8,275.5 L205.1,275.7 L204.3,275.5 L203.7,274.7 L203.5,273.7 L203.7,272.7 L204.3,271.9 L205.1,271.7 L205.8,271.9 L206.4,272.7Z"/><path d="M453.6,38.7 L470.3,38.7 L469.9,45.4 L468.2,48.7 L466.1,50.4 L465.3,52.0 L462.4,50.8 L461.5,48.3 L463.2,47.0 L459.9,46.2 L455.7,45.8 L453.2,44.5Z"/><path d="M472.4,38.7 L487.0,38.7 L487.0,55.0 L486.0,55.0 L483.7,55.0 L480.8,51.2 L473.7,52.0 L472.8,49.5 L473.3,45.4Z"/><path d="M450.3,58.3 L453.6,56.2 L456.1,55.0 L457.8,52.5 L459.5,51.2 L461.1,53.7 L460.3,55.8 L457.8,57.9 L454.4,58.7 L451.9,59.6Z"/><path d="M439.8,76.7 L441.9,75.9 L445.3,78.4 L447.8,80.9 L449.4,80.0 L449.4,77.1 L452.4,78.8 L453.6,81.3 L457.0,82.1 L460.7,85.1 L460.3,87.1 L457.8,87.1 L453.6,85.9 L450.3,85.1 L447.8,83.8 L445.3,82.1 L441.9,80.0 L440.2,78.8Z"/><path d="M463.6,82.5 L465.3,81.7 L468.7,83.4 L471.2,83.0 L473.7,85.9 L475.3,88.8 L474.1,89.7 L470.3,88.8 L467.0,88.0 L464.5,85.5Z"/><path d="M481.6,85.9 L482.9,85.1 L485.4,87.1 L486.0,89.2 L484.5,90.5 L482.4,88.4Z"/><path d="M417.3,57.9 L419.3,54.6 L421.4,53.3 L421.0,56.6 L418.9,59.6Z"/><path d="M428.5,47.9 L430.2,47.2 L430.6,48.3 L429.0,48.9Z"/><path d="M412.6,172.0 L415.0,168.5 L418.0,170.0 L417.0,175.0 L414.0,176.5Z"/><path d="M481.0,149.0 L484.0,143.0 L486.0,142.0 L486.0,152.0 L482.0,153.0Z"/></g>
</g>
<line x1="36.50" y1="40.95" x2="36.50" y2="549.0" stroke="#000" stroke-width="1.15" stroke-dasharray="2.8 5.48" fill="none"/>
<line x1="115.50" y1="40.95" x2="115.50" y2="549.0" stroke="#000" stroke-width="1.15" stroke-dasharray="2.8 5.48" fill="none"/>
<line x1="194.50" y1="40.95" x2="194.50" y2="549.0" stroke="#000" stroke-width="1.15" stroke-dasharray="2.8 5.48" fill="none"/>
<line x1="272.50" y1="40.95" x2="272.50" y2="549.0" stroke="#000" stroke-width="1.15" stroke-dasharray="2.8 5.48" fill="none"/>
<line x1="351.50" y1="40.95" x2="351.50" y2="549.0" stroke="#000" stroke-width="1.15" stroke-dasharray="2.8 5.48" fill="none"/>
<line x1="430.50" y1="40.95" x2="430.50" y2="549.0" stroke="#000" stroke-width="1.15" stroke-dasharray="2.8 5.48" fill="none"/>
<line x1="12.8" y1="96.50" x2="486.0" y2="96.50" stroke="#000" stroke-width="1.15" stroke-dasharray="2.8 5.46" fill="none"/>
<line x1="12.8" y1="181.50" x2="486.0" y2="181.50" stroke="#000" stroke-width="1.15" stroke-dasharray="2.8 5.46" fill="none"/>
<line x1="12.8" y1="265.50" x2="486.0" y2="265.50" stroke="#000" stroke-width="1.15" stroke-dasharray="2.8 5.46" fill="none"/>
<line x1="12.8" y1="350.50" x2="486.0" y2="350.50" stroke="#000" stroke-width="1.15" stroke-dasharray="2.8 5.46" fill="none"/>
<line x1="12.8" y1="434.50" x2="486.0" y2="434.50" stroke="#000" stroke-width="1.15" stroke-dasharray="2.8 5.46" fill="none"/>
<line x1="12.8" y1="519.50" x2="486.0" y2="519.50" stroke="#000" stroke-width="1.15" stroke-dasharray="2.8 5.46" fill="none"/>
<polyline points="13.0,396.4 18.9,393.7 24.8,391.0 30.7,388.2 36.6,385.5 42.5,382.7 48.4,379.9 54.3,377.2 60.2,374.4 66.1,371.5 72.0,368.7 77.9,365.9 83.8,363.1 89.7,360.2 95.6,357.3 101.5,354.5 107.4,351.6 113.3,348.7 119.2,345.7 125.1,342.8 131.0,339.9 136.9,336.9 142.8,334.0 148.7,331.0 154.6,328.0 160.5,325.0 166.4,322.0 172.3,319.0 178.2,316.0 184.1,313.0 190.0,309.9 195.9,306.8 201.8,303.8 207.7,300.7 213.6,297.6 219.5,294.5 225.4,291.4 231.3,288.2 237.2,285.1 243.1,282.0 248.9,278.8 254.8,275.6 260.7,272.4 266.6,269.2 272.5,266.0 278.4,262.8 284.3,259.6 290.2,256.3 296.1,253.1 302.0,249.8 307.9,246.5 313.8,243.2 319.7,239.9 325.6,236.6 331.5,233.3 337.4,230.0 343.3,226.6 349.2,223.3 355.1,219.9 361.0,216.5 366.9,213.1 372.8,209.7 378.7,206.3 384.6,202.9 390.5,199.4 396.4,196.0 402.3,192.5 408.2,189.1 414.1,185.6 420.0,182.1 425.9,178.6 431.8,175.1 437.7,171.5 443.6,168.0 449.5,164.4 455.4,160.9 461.3,157.3 467.2,153.7 473.1,150.1 479.0,146.5" stroke="#000" stroke-width="1.1" fill="none" stroke-dasharray="12 11.45"/>
<polyline points="13.0,501.5 18.9,498.8 24.9,496.1 30.8,493.3 36.7,490.6 42.7,487.9 48.6,485.1 54.6,482.4 60.5,479.6 66.4,476.8 72.4,474.0 78.3,471.2 84.2,468.4 90.2,465.6 96.1,462.7 102.1,459.9 108.0,457.0 113.9,454.1 119.9,451.3 125.8,448.4 131.7,445.5 137.7,442.5 143.6,439.6 149.5,436.7 155.5,433.7 161.4,430.8 167.4,427.8 173.3,424.8 179.2,421.8 185.2,418.8 191.1,415.8 197.0,412.8 203.0,409.8 208.9,406.7 214.8,403.7 220.8,400.6 226.7,397.5 232.7,394.4 238.6,391.3 244.5,388.2 250.5,385.1 256.4,382.0 262.3,378.8 268.3,375.7 274.2,372.5 280.2,369.3 286.1,366.2 292.0,363.0 298.0,359.8 303.9,356.5 309.8,353.3 315.8,350.1 321.7,346.8 327.6,343.6 333.6,340.3 339.5,337.0 345.5,333.7 351.4,330.4 357.3,327.1 363.3,323.8 369.2,320.4 375.1,317.1 381.1,313.7 387.0,310.3 392.9,307.0 398.9,303.6 404.8,300.2 410.8,296.8 416.7,293.3 422.6,289.9 428.6,286.4 434.5,283.0 440.4,279.5 446.4,276.0 452.3,272.5 458.3,269.0 464.2,265.5 470.1,262.0 476.1,258.5 482.0,254.9" stroke="#000" stroke-width="1.1" fill="none" stroke-dasharray="12 11.45"/>
<text x="36.6" y="286.7" font-size="12.2" text-anchor="middle">76</text>
<text x="115.4" y="286.7" font-size="12.2" text-anchor="middle">78</text>
<text x="194.1" y="286.7" font-size="12.2" text-anchor="middle">80</text>
<text x="272.9" y="286.7" font-size="12.2" text-anchor="middle">82</text>
<text x="351.6" y="286.7" font-size="12.2" text-anchor="middle">84</text>
<text x="430.4" y="286.7" font-size="12.2" text-anchor="middle">86</text>
<text x="253.4" y="97.1" font-size="12.2" text-anchor="middle">-18</text>
<text x="253.4" y="181.6" font-size="12.2" text-anchor="middle">-20</text>
<text x="253.4" y="266.1" font-size="12.2" text-anchor="middle">-22</text>
<text x="253.4" y="350.6" font-size="12.2" text-anchor="middle">-24</text>
<text x="253.4" y="435.1" font-size="12.2" text-anchor="middle">-26</text>
<text x="253.4" y="519.6" font-size="12.2" text-anchor="middle">-28</text>
<rect x="242.9" y="292.1" width="13" height="4.7" fill="#000"/><rect x="247.1" y="288.0" width="4.7" height="13" fill="#000"/>

<text x="37.3" y="66.0" font-size="25">VIRS T<tspan font-size="16" dy="6.5" dx="1">B11</tspan><tspan dy="-6.5"> (K)</tspan></text>
<text x="456.5" y="523.0" font-size="29" text-anchor="middle">(g)</text>
<rect x="495.2" y="531.48" width="8.8" height="8.76" fill="#f6f6f6"/>
<rect x="495.2" y="523.01" width="8.8" height="8.76" fill="#eeeeee"/>
<rect x="495.2" y="514.55" width="8.8" height="8.76" fill="#e6e6e6"/>
<rect x="495.2" y="506.09" width="8.8" height="8.76" fill="#dedede"/>
<rect x="495.2" y="497.63" width="8.8" height="8.76" fill="#d6d6d6"/>
<rect x="495.2" y="489.17" width="8.8" height="8.76" fill="#cecece"/>
<rect x="495.2" y="480.70" width="8.8" height="8.76" fill="#c6c6c6"/>
<rect x="495.2" y="472.24" width="8.8" height="8.76" fill="#bebebe"/>
<rect x="495.2" y="463.78" width="8.8" height="8.76" fill="#b6b6b6"/>
<rect x="495.2" y="455.32" width="8.8" height="8.76" fill="#aeaeae"/>
<rect x="495.2" y="446.86" width="8.8" height="8.76" fill="#a6a6a6"/>
<rect x="495.2" y="438.39" width="8.8" height="8.76" fill="#9e9e9e"/>
<rect x="495.2" y="429.93" width="8.8" height="8.76" fill="#969696"/>
<rect x="495.2" y="421.47" width="8.8" height="8.76" fill="#8e8e8e"/>
<rect x="495.2" y="413.01" width="8.8" height="8.76" fill="#88dd88"/>
<rect x="495.2" y="404.55" width="8.8" height="8.76" fill="#7ad27a"/>
<rect x="495.2" y="396.08" width="8.8" height="8.76" fill="#6fca6f"/>
<rect x="495.2" y="387.62" width="8.8" height="8.76" fill="#66c066"/>
<rect x="495.2" y="379.16" width="8.8" height="8.76" fill="#62b662"/>
<rect x="495.2" y="370.70" width="8.8" height="8.76" fill="#ccd4ff"/>
<rect x="495.2" y="362.24" width="8.8" height="8.76" fill="#b4c8ff"/>
<rect x="495.2" y="353.77" width="8.8" height="8.76" fill="#9cc0ff"/>
<rect x="495.2" y="345.31" width="8.8" height="8.76" fill="#84b8ff"/>
<rect x="495.2" y="336.85" width="8.8" height="8.76" fill="#6cb2ff"/>
<rect x="495.2" y="328.39" width="8.8" height="8.76" fill="#55aaff"/>
<rect x="495.2" y="319.93" width="8.8" height="8.76" fill="#4a98ff"/>
<rect x="495.2" y="311.46" width="8.8" height="8.76" fill="#4080ff"/>
<rect x="495.2" y="303.00" width="8.8" height="8.76" fill="#3a6cff"/>
<rect x="495.2" y="294.54" width="8.8" height="8.76" fill="#3355ff"/>
<rect x="495.2" y="286.08" width="8.8" height="8.76" fill="#2a3cff"/>
<rect x="495.2" y="277.62" width="8.8" height="8.76" fill="#1a1aff"/>
<rect x="495.2" y="269.15" width="8.8" height="8.76" fill="#0000ff"/>
<rect x="495.2" y="260.69" width="8.8" height="8.76" fill="#0000e0"/>
<rect x="495.2" y="252.23" width="8.8" height="8.76" fill="#0000c4"/>
<rect x="495.2" y="243.77" width="8.8" height="8.76" fill="#ffff00"/>
<rect x="495.2" y="235.31" width="8.8" height="8.76" fill="#ffee00"/>
<rect x="495.2" y="226.84" width="8.8" height="8.76" fill="#ffe000"/>
<rect x="495.2" y="218.38" width="8.8" height="8.76" fill="#ffd400"/>
<rect x="495.2" y="209.92" width="8.8" height="8.76" fill="#ffc800"/>
<rect x="495.2" y="201.46" width="8.8" height="8.76" fill="#ff8a00"/>
<rect x="495.2" y="193.00" width="8.8" height="8.76" fill="#ff8000"/>
<rect x="495.2" y="184.53" width="8.8" height="8.76" fill="#ff7800"/>
<rect x="495.2" y="176.07" width="8.8" height="8.76" fill="#ff7000"/>
<rect x="495.2" y="167.61" width="8.8" height="8.76" fill="#ff6800"/>
<rect x="495.2" y="159.15" width="8.8" height="8.76" fill="#ff3a00"/>
<rect x="495.2" y="150.69" width="8.8" height="8.76" fill="#ff3000"/>
<rect x="495.2" y="142.22" width="8.8" height="8.76" fill="#ff2400"/>
<rect x="495.2" y="133.76" width="8.8" height="8.76" fill="#ff1800"/>
<rect x="495.2" y="125.30" width="8.8" height="8.76" fill="#ff1000"/>
<rect x="495.2" y="116.84" width="8.8" height="8.76" fill="#c80000"/>
<rect x="495.2" y="108.38" width="8.8" height="8.76" fill="#c00000"/>
<rect x="495.2" y="99.91" width="8.8" height="8.76" fill="#b00000"/>
<rect x="495.2" y="91.45" width="8.8" height="8.76" fill="#a40000"/>
<rect x="495.2" y="82.99" width="8.8" height="8.76" fill="#980800"/>
<rect x="495.2" y="74.53" width="8.8" height="8.76" fill="#620c08"/>
<rect x="495.2" y="66.07" width="8.8" height="8.76" fill="#5e1210"/>
<rect x="495.2" y="57.60" width="8.8" height="8.76" fill="#5c1612"/>
<rect x="495.2" y="49.14" width="8.8" height="8.76" fill="#5a1816"/>
<rect x="495.2" y="40.68" width="8.8" height="8.76" fill="#5a1a18"/>
<line x1="504.0" y1="91.5" x2="506.6" y2="91.5" stroke="#000" stroke-width="1"/>
<text x="523.7" y="99.8" font-size="19.6" text-anchor="middle">196</text>
<line x1="504.0" y1="142.2" x2="506.6" y2="142.2" stroke="#000" stroke-width="1"/>
<text x="523.7" y="150.5" font-size="19.6" text-anchor="middle">208</text>
<line x1="504.0" y1="193.0" x2="506.6" y2="193.0" stroke="#000" stroke-width="1"/>
<text x="523.7" y="201.3" font-size="19.6" text-anchor="middle">220</text>
<line x1="504.0" y1="243.8" x2="506.6" y2="243.8" stroke="#000" stroke-width="1"/>
<text x="523.7" y="252.1" font-size="19.6" text-anchor="middle">232</text>
<line x1="504.0" y1="294.5" x2="506.6" y2="294.5" stroke="#000" stroke-width="1"/>
<text x="523.7" y="302.8" font-size="19.6" text-anchor="middle">244</text>
<line x1="504.0" y1="345.3" x2="506.6" y2="345.3" stroke="#000" stroke-width="1"/>
<text x="523.7" y="353.6" font-size="19.6" text-anchor="middle">256</text>
<line x1="504.0" y1="396.1" x2="506.6" y2="396.1" stroke="#000" stroke-width="1"/>
<text x="523.7" y="404.4" font-size="19.6" text-anchor="middle">268</text>
<line x1="504.0" y1="446.9" x2="506.6" y2="446.9" stroke="#000" stroke-width="1"/>
<text x="523.7" y="455.2" font-size="19.6" text-anchor="middle">280</text>
<line x1="504.0" y1="497.6" x2="506.6" y2="497.6" stroke="#000" stroke-width="1"/>
<text x="523.7" y="505.9" font-size="19.6" text-anchor="middle">292</text>
<line x1="504.0" y1="548.4" x2="506.6" y2="548.4" stroke="#000" stroke-width="1"/>
<text x="523.7" y="556.7" font-size="19.6" text-anchor="middle">304</text>
</g><g transform="translate(590.5,1181)">
<g clip-path="url(#mapclip)">

<path d="M404.4,200.0h2.0v3.1h-2.0zM406.1,200.0h2.0v3.1h-2.0zM390.8,224.3h2.0v2.6h-2.0zM392.5,224.3h2.0v2.6h-2.0zM390.8,226.5h2.0v2.6h-2.0zM392.5,226.5h2.0v2.6h-2.0zM401.5,237.8h2.3v2.0h-2.3zM403.5,237.8h2.3v2.0h-2.3zM405.5,237.8h2.3v2.0h-2.3zM407.5,237.8h2.3v2.0h-2.3zM401.5,239.5h2.3v2.0h-2.3zM403.5,239.5h2.3v2.0h-2.3zM405.5,239.5h2.3v2.0h-2.3zM407.5,239.5h2.3v2.0h-2.3zM404.4,236.1h2.6v2.0h-2.6zM406.6,236.1h2.6v2.0h-2.6zM404.4,237.8h2.6v2.0h-2.6zM406.6,237.8h2.6v2.0h-2.6zM414.9,233.9h2.4v2.6h-2.4zM417.0,233.9h2.4v2.6h-2.4zM412.8,236.1h2.4v2.6h-2.4zM414.9,236.1h2.4v2.6h-2.4zM417.0,236.1h2.4v2.6h-2.4zM416.8,232.7h2.6v2.6h-2.6zM419.0,232.7h2.6v2.6h-2.6zM416.8,235.0h2.6v2.6h-2.6zM419.0,235.0h2.6v2.6h-2.6zM421.3,235.0h2.6v2.6h-2.6zM420.2,229.3h2.8v2.3h-2.8zM422.7,229.3h2.8v2.3h-2.8zM420.2,231.3h2.8v2.3h-2.8zM422.7,231.3h2.8v2.3h-2.8zM423.0,225.4h2.3v2.3h-2.3zM425.0,225.4h2.3v2.3h-2.3zM423.0,227.4h2.3v2.3h-2.3zM425.0,227.4h2.3v2.3h-2.3zM442.2,257.0h2.0v2.3h-2.0zM442.2,259.0h2.0v2.3h-2.0zM442.8,250.8h2.6v2.3h-2.6zM445.0,250.8h2.6v2.3h-2.6zM445.0,252.8h2.6v2.3h-2.6zM449.5,247.4h2.6v2.6h-2.6zM451.8,247.4h2.6v2.6h-2.6zM449.5,249.7h2.6v2.6h-2.6zM451.8,249.7h2.6v2.6h-2.6zM451.8,243.5h2.2v2.6h-2.2zM453.7,243.5h2.2v2.6h-2.2zM455.6,243.5h2.2v2.6h-2.2zM451.8,245.7h2.2v2.6h-2.2zM453.7,245.7h2.2v2.6h-2.2zM455.6,245.7h2.2v2.6h-2.2zM452.9,240.1h2.4v2.3h-2.4zM455.0,240.1h2.4v2.3h-2.4zM457.1,240.1h2.4v2.3h-2.4zM452.9,242.0h2.4v2.3h-2.4zM457.1,242.0h2.4v2.3h-2.4zM392.5,265.5h2.3v2.3h-2.3zM394.5,265.5h2.3v2.3h-2.3zM392.5,267.5h2.3v2.3h-2.3zM397.6,271.1h2.0v2.6h-2.0zM399.3,271.1h2.0v2.6h-2.0zM397.6,273.4h2.0v2.6h-2.0zM399.3,273.4h2.0v2.6h-2.0zM402.7,267.7h2.2v2.6h-2.2zM404.5,267.7h2.2v2.6h-2.2zM406.4,267.7h2.2v2.6h-2.2zM402.7,270.0h2.2v2.6h-2.2zM404.5,270.0h2.2v2.6h-2.2zM406.4,270.0h2.2v2.6h-2.2zM405.5,264.3h2.3v2.3h-2.3zM407.5,264.3h2.3v2.3h-2.3zM405.5,266.3h2.3v2.3h-2.3zM407.5,266.3h2.3v2.3h-2.3zM411.7,268.3h2.7v2.0h-2.7zM414.1,268.3h2.7v2.0h-2.7zM416.6,268.3h2.7v2.0h-2.7zM411.7,270.0h2.7v2.0h-2.7zM414.1,270.0h2.7v2.0h-2.7zM416.6,270.0h2.7v2.0h-2.7zM417.3,264.9h2.2v2.3h-2.2zM419.2,264.9h2.2v2.3h-2.2zM421.1,264.9h2.2v2.3h-2.2zM419.2,266.9h2.2v2.3h-2.2zM435.1,271.1h2.8v2.3h-2.8zM432.6,273.1h2.8v2.3h-2.8zM435.1,273.1h2.8v2.3h-2.8zM434.8,264.9h2.6v2.4h-2.6zM437.1,264.9h2.6v2.4h-2.6zM434.8,267.0h2.6v2.4h-2.6zM437.1,267.0h2.6v2.4h-2.6zM434.8,269.1h2.6v2.4h-2.6zM437.1,269.1h2.6v2.4h-2.6zM462.4,153.7h2.1v2.3h-2.1zM464.2,153.7h2.1v2.3h-2.1zM462.4,155.8h2.1v2.3h-2.1zM464.2,155.8h2.1v2.3h-2.1zM483.2,146.1h2.8v2.7h-2.8zM483.2,148.5h2.8v2.7h-2.8zM475.1,169.0h2.7v2.5h-2.7zM477.5,169.0h2.7v2.5h-2.7zM479.8,169.0h2.7v2.5h-2.7zM475.1,171.2h2.7v2.5h-2.7zM477.5,171.2h2.7v2.5h-2.7zM479.8,171.2h2.7v2.5h-2.7zM475.1,173.3h2.7v2.5h-2.7zM477.5,173.3h2.7v2.5h-2.7zM479.8,173.3h2.7v2.5h-2.7zM475.1,175.5h2.7v2.5h-2.7zM477.5,175.5h2.7v2.5h-2.7zM479.8,175.5h2.7v2.5h-2.7zM466.4,177.6h2.2v2.2h-2.2zM468.4,177.6h2.2v2.2h-2.2zM470.3,177.6h2.2v2.2h-2.2zM472.3,177.6h2.2v2.2h-2.2zM474.2,177.6h2.2v2.2h-2.2zM476.2,177.6h2.2v2.2h-2.2zM466.4,179.5h2.2v2.2h-2.2zM468.4,179.5h2.2v2.2h-2.2zM470.3,179.5h2.2v2.2h-2.2zM472.3,179.5h2.2v2.2h-2.2zM474.2,179.5h2.2v2.2h-2.2zM476.2,179.5h2.2v2.2h-2.2zM466.4,181.4h2.2v2.2h-2.2zM468.4,181.4h2.2v2.2h-2.2zM470.3,181.4h2.2v2.2h-2.2zM472.3,181.4h2.2v2.2h-2.2zM474.2,181.4h2.2v2.2h-2.2zM476.2,181.4h2.2v2.2h-2.2zM466.4,183.3h2.2v2.2h-2.2zM468.4,183.3h2.2v2.2h-2.2zM470.3,183.3h2.2v2.2h-2.2zM472.3,183.3h2.2v2.2h-2.2zM474.2,183.3h2.2v2.2h-2.2zM476.2,183.3h2.2v2.2h-2.2zM460.9,190.8h2.3v2.6h-2.3zM462.9,190.8h2.3v2.6h-2.3zM464.9,190.8h2.3v2.6h-2.3zM460.9,193.1h2.3v2.6h-2.3zM464.9,193.1h2.3v2.6h-2.3zM471.0,177.6h2.8v1.8h-2.8zM226.1,293.0h2.3v2.6h-2.3zM228.0,293.0h2.3v2.6h-2.3zM226.1,295.2h2.3v2.6h-2.3zM225.5,298.6h2.3v2.4h-2.3zM227.5,298.6h2.3v2.4h-2.3zM225.5,300.7h2.3v2.4h-2.3zM225.5,302.8h2.3v2.4h-2.3zM227.5,302.8h2.3v2.4h-2.3zM235.7,374.8h2.0v2.0h-2.0zM243.6,373.1h2.0v2.0h-2.0zM254.8,370.9h2.0v2.6h-2.0zM257.1,368.1h2.0v2.0h-2.0zM412.8,293.1h2.6v2.6h-2.6zM422.4,288.0h2.6v2.0h-2.6zM116.8,407.9h2.8v2.8h-2.8zM51.9,456.9h2.8v2.8h-2.8z" fill="#0000ff"/><path d="M377.8,241.8h2.2v2.2h-2.2zM379.7,241.8h2.2v2.2h-2.2zM381.6,241.8h2.2v2.2h-2.2zM377.8,243.6h2.2v2.2h-2.2zM379.7,243.6h2.2v2.2h-2.2zM381.6,243.6h2.2v2.2h-2.2zM377.8,245.5h2.2v2.2h-2.2zM379.7,245.5h2.2v2.2h-2.2zM381.6,245.5h2.2v2.2h-2.2zM374.4,241.2h2.0v2.6h-2.0zM381.8,221.4h2.0v2.0h-2.0zM402.1,216.4h2.0v2.6h-2.0zM395.9,228.2h2.0v2.6h-2.0zM397.6,228.2h2.0v2.6h-2.0zM409.4,227.6h2.0v2.0h-2.0zM441.8,253.1h2.2v2.6h-2.2zM443.7,253.1h2.2v2.6h-2.2zM439.9,255.3h2.2v2.6h-2.2zM443.7,255.3h2.2v2.6h-2.2zM439.9,257.6h2.2v2.6h-2.2zM441.8,257.6h2.2v2.6h-2.2zM443.7,257.6h2.2v2.6h-2.2zM445.6,251.9h2.4v2.2h-2.4zM447.6,251.9h2.4v2.2h-2.4zM449.7,251.9h2.4v2.2h-2.4zM445.6,253.8h2.4v2.2h-2.4zM447.6,253.8h2.4v2.2h-2.4zM449.7,253.8h2.4v2.2h-2.4zM445.6,255.7h2.4v2.2h-2.4zM447.6,255.7h2.4v2.2h-2.4zM449.7,255.7h2.4v2.2h-2.4zM415.7,263.2h2.0v2.6h-2.0zM417.3,263.2h2.0v2.6h-2.0zM451.8,209.0h2.6v2.6h-2.6zM454.0,209.0h2.6v2.6h-2.6zM459.1,211.8h2.0v2.0h-2.0zM451.8,218.0h2.0v2.0h-2.0zM461.4,203.4h2.6v2.0h-2.6zM455.2,198.8h2.6v1.4h-2.6zM420.2,231.6h2.6v2.0h-2.6zM402.1,271.7h2.0v2.0h-2.0zM436.5,270.0h2.0v2.0h-2.0zM453.5,241.8h2.0v1.4h-2.0zM480.7,149.7h2.6v2.6h-2.6zM483.0,149.7h2.6v2.6h-2.6zM480.7,152.0h2.6v2.6h-2.6zM475.1,153.7h2.3v2.3h-2.3zM477.1,157.8h3.3v2.3h-3.3zM477.1,159.8h3.3v2.3h-3.3zM479.1,162.9h2.8v2.3h-2.8zM481.7,162.9h2.8v2.3h-2.8zM479.1,164.9h2.8v2.3h-2.8zM481.7,164.9h2.8v2.3h-2.8zM465.2,172.5h2.1v2.3h-2.1zM463.4,174.6h2.1v2.3h-2.1zM463.4,176.6h2.1v2.3h-2.1zM465.2,176.6h2.1v2.3h-2.1zM471.5,176.6h2.2v2.6h-2.2zM473.4,176.6h2.2v2.6h-2.2zM475.3,176.6h2.2v2.6h-2.2zM471.5,178.9h2.2v2.6h-2.2zM473.4,178.9h2.2v2.6h-2.2zM475.3,178.9h2.2v2.6h-2.2zM465.4,179.2h2.3v2.3h-2.3zM467.5,179.2h2.3v2.3h-2.3zM465.4,181.2h2.3v2.3h-2.3zM467.5,181.2h2.3v2.3h-2.3zM456.3,183.7h2.3v1.8h-2.3zM460.9,185.8h2.3v2.3h-2.3zM464.4,184.2h2.3v2.1h-2.3zM464.4,186.0h2.3v2.1h-2.3zM461.9,189.3h2.8v2.8h-2.8zM459.8,192.9h2.3v2.3h-2.3zM455.3,198.5h2.3v1.8h-2.3zM461.9,203.5h1.8v1.8h-1.8zM452.2,209.1h2.3v2.3h-2.3zM454.2,209.1h2.3v2.3h-2.3zM458.8,211.7h2.3v2.3h-2.3zM451.7,217.8h1.8v1.4h-1.8zM460.3,158.8h1.8v1.8h-1.8zM463.4,157.3h1.8v1.8h-1.8zM308.2,268.8h2.1v3.0h-2.1zM310.0,268.8h2.1v3.0h-2.1zM307.7,278.3h2.3v2.1h-2.3zM309.8,278.3h2.3v2.1h-2.3zM307.7,280.1h2.3v2.1h-2.3zM309.8,280.1h2.3v2.1h-2.3zM306.4,281.4h2.1v3.0h-2.1zM308.2,281.4h2.1v3.0h-2.1zM303.7,281.0h2.1v2.1h-2.1zM308.2,283.2h2.1v1.7h-2.1zM307.7,286.0h3.0v3.0h-3.0zM303.7,288.2h2.4v1.9h-2.4zM307.9,288.2h2.4v1.9h-2.4zM303.7,289.8h2.4v1.9h-2.4zM305.8,289.8h2.4v1.9h-2.4zM307.9,289.8h2.4v1.9h-2.4zM301.9,291.4h2.1v2.1h-2.1zM303.7,291.4h2.1v2.1h-2.1zM301.9,293.2h2.1v2.1h-2.1zM303.7,293.2h2.1v2.1h-2.1zM304.6,293.2h2.1v2.6h-2.1zM299.2,295.0h2.1v2.6h-2.1zM301.0,295.0h2.1v2.6h-2.1zM302.8,295.0h2.1v2.6h-2.1zM299.2,297.2h2.1v2.6h-2.1zM301.0,297.2h2.1v2.6h-2.1zM302.8,297.2h2.1v2.6h-2.1zM298.7,298.6h2.1v2.6h-2.1zM300.5,298.6h2.1v2.6h-2.1zM297.8,301.8h1.9v2.1h-1.9zM299.4,303.6h1.9v2.1h-1.9zM294.6,305.8h2.6v2.1h-2.6zM300.5,310.8h1.9v2.3h-1.9zM302.1,310.8h1.9v2.3h-1.9zM300.5,312.8h1.9v2.3h-1.9zM302.1,312.8h1.9v2.3h-1.9zM296.5,319.8h2.1v2.1h-2.1zM205.7,309.3h2.0v2.0h-2.0zM240.2,304.8h2.0v2.0h-2.0zM237.9,310.5h2.0v2.0h-2.0zM251.5,304.8h3.1v2.0h-3.1zM245.3,321.8h2.0v2.0h-2.0zM373.8,279.0h2.0v2.3h-2.0zM375.5,279.0h2.0v2.3h-2.0zM373.8,281.0h2.0v2.3h-2.0zM375.5,281.0h2.0v2.3h-2.0zM365.9,301.0h2.6v2.0h-2.6zM363.6,302.7h2.6v2.0h-2.6zM365.9,302.7h2.6v2.0h-2.6zM412.8,288.0h2.0v2.6h-2.0zM414.4,288.0h2.0v2.6h-2.0zM413.9,292.6h2.6v2.6h-2.6zM424.0,284.7h2.6v1.4h-2.6zM87.3,406.9h2.3v2.0h-2.3zM89.3,406.9h2.3v2.0h-2.3zM87.3,408.6h2.3v2.0h-2.3zM89.3,408.6h2.3v2.0h-2.3zM91.3,413.6h3.3v2.0h-3.3zM364.9,210.8h3.3v2.3h-3.3z" fill="#ff4500"/>
</g>
<line x1="37.00" y1="40.95" x2="37.00" y2="549.0" stroke="#000" stroke-width="1.15" stroke-dasharray="2.8 5.48" fill="none"/>
<line x1="115.00" y1="40.95" x2="115.00" y2="549.0" stroke="#000" stroke-width="1.15" stroke-dasharray="2.8 5.48" fill="none"/>
<line x1="194.00" y1="40.95" x2="194.00" y2="549.0" stroke="#000" stroke-width="1.15" stroke-dasharray="2.8 5.48" fill="none"/>
<line x1="273.00" y1="40.95" x2="273.00" y2="549.0" stroke="#000" stroke-width="1.15" stroke-dasharray="2.8 5.48" fill="none"/>
<line x1="352.00" y1="40.95" x2="352.00" y2="549.0" stroke="#000" stroke-width="1.15" stroke-dasharray="2.8 5.48" fill="none"/>
<line x1="430.00" y1="40.95" x2="430.00" y2="549.0" stroke="#000" stroke-width="1.15" stroke-dasharray="2.8 5.48" fill="none"/>
<line x1="12.8" y1="96.50" x2="486.0" y2="96.50" stroke="#000" stroke-width="1.15" stroke-dasharray="2.8 5.46" fill="none"/>
<line x1="12.8" y1="181.50" x2="486.0" y2="181.50" stroke="#000" stroke-width="1.15" stroke-dasharray="2.8 5.46" fill="none"/>
<line x1="12.8" y1="265.50" x2="486.0" y2="265.50" stroke="#000" stroke-width="1.15" stroke-dasharray="2.8 5.46" fill="none"/>
<line x1="12.8" y1="350.50" x2="486.0" y2="350.50" stroke="#000" stroke-width="1.15" stroke-dasharray="2.8 5.46" fill="none"/>
<line x1="12.8" y1="434.50" x2="486.0" y2="434.50" stroke="#000" stroke-width="1.15" stroke-dasharray="2.8 5.46" fill="none"/>
<line x1="12.8" y1="519.50" x2="486.0" y2="519.50" stroke="#000" stroke-width="1.15" stroke-dasharray="2.8 5.46" fill="none"/>
<polyline points="13.0,396.4 18.9,393.7 24.8,391.0 30.7,388.2 36.6,385.5 42.5,382.7 48.4,379.9 54.3,377.2 60.2,374.4 66.1,371.5 72.0,368.7 77.9,365.9 83.8,363.1 89.7,360.2 95.6,357.3 101.5,354.5 107.4,351.6 113.3,348.7 119.2,345.7 125.1,342.8 131.0,339.9 136.9,336.9 142.8,334.0 148.7,331.0 154.6,328.0 160.5,325.0 166.4,322.0 172.3,319.0 178.2,316.0 184.1,313.0 190.0,309.9 195.9,306.8 201.8,303.8 207.7,300.7 213.6,297.6 219.5,294.5 225.4,291.4 231.3,288.2 237.2,285.1 243.1,282.0 248.9,278.8 254.8,275.6 260.7,272.4 266.6,269.2 272.5,266.0 278.4,262.8 284.3,259.6 290.2,256.3 296.1,253.1 302.0,249.8 307.9,246.5 313.8,243.2 319.7,239.9 325.6,236.6 331.5,233.3 337.4,230.0 343.3,226.6 349.2,223.3 355.1,219.9 361.0,216.5 366.9,213.1 372.8,209.7 378.7,206.3 384.6,202.9 390.5,199.4 396.4,196.0 402.3,192.5 408.2,189.1 414.1,185.6 420.0,182.1 425.9,178.6 431.8,175.1 437.7,171.5 443.6,168.0 449.5,164.4 455.4,160.9 461.3,157.3 467.2,153.7 473.1,150.1 479.0,146.5" stroke="#000" stroke-width="1.1" fill="none" stroke-dasharray="12 11.45"/>
<polyline points="13.0,501.5 18.9,498.8 24.9,496.1 30.8,493.3 36.7,490.6 42.7,487.9 48.6,485.1 54.6,482.4 60.5,479.6 66.4,476.8 72.4,474.0 78.3,471.2 84.2,468.4 90.2,465.6 96.1,462.7 102.1,459.9 108.0,457.0 113.9,454.1 119.9,451.3 125.8,448.4 131.7,445.5 137.7,442.5 143.6,439.6 149.5,436.7 155.5,433.7 161.4,430.8 167.4,427.8 173.3,424.8 179.2,421.8 185.2,418.8 191.1,415.8 197.0,412.8 203.0,409.8 208.9,406.7 214.8,403.7 220.8,400.6 226.7,397.5 232.7,394.4 238.6,391.3 244.5,388.2 250.5,385.1 256.4,382.0 262.3,378.8 268.3,375.7 274.2,372.5 280.2,369.3 286.1,366.2 292.0,363.0 298.0,359.8 303.9,356.5 309.8,353.3 315.8,350.1 321.7,346.8 327.6,343.6 333.6,340.3 339.5,337.0 345.5,333.7 351.4,330.4 357.3,327.1 363.3,323.8 369.2,320.4 375.1,317.1 381.1,313.7 387.0,310.3 392.9,307.0 398.9,303.6 404.8,300.2 410.8,296.8 416.7,293.3 422.6,289.9 428.6,286.4 434.5,283.0 440.4,279.5 446.4,276.0 452.3,272.5 458.3,269.0 464.2,265.5 470.1,262.0 476.1,258.5 482.0,254.9" stroke="#000" stroke-width="1.1" fill="none" stroke-dasharray="12 11.45"/>
<text x="36.6" y="286.7" font-size="12.2" text-anchor="middle">76</text>
<text x="115.4" y="286.7" font-size="12.2" text-anchor="middle">78</text>
<text x="194.1" y="286.7" font-size="12.2" text-anchor="middle">80</text>
<text x="272.9" y="286.7" font-size="12.2" text-anchor="middle">82</text>
<text x="351.6" y="286.7" font-size="12.2" text-anchor="middle">84</text>
<text x="430.4" y="286.7" font-size="12.2" text-anchor="middle">86</text>
<text x="253.4" y="97.1" font-size="12.2" text-anchor="middle">-18</text>
<text x="253.4" y="181.6" font-size="12.2" text-anchor="middle">-20</text>
<text x="253.4" y="266.1" font-size="12.2" text-anchor="middle">-22</text>
<text x="253.4" y="350.6" font-size="12.2" text-anchor="middle">-24</text>
<text x="253.4" y="435.1" font-size="12.2" text-anchor="middle">-26</text>
<text x="253.4" y="519.6" font-size="12.2" text-anchor="middle">-28</text>
<rect x="242.9" y="292.1" width="13" height="4.7" fill="#000"/><rect x="247.1" y="288.0" width="4.7" height="13" fill="#000"/>

<text x="36.5" y="66.0" font-size="25">2A23 rain types</text>
<text x="456.5" y="523.0" font-size="29" text-anchor="middle">(h)</text>
<rect x="495.2" y="40.7" width="8.8" height="169.0" fill="#ff4400"/>
<rect x="495.2" y="209.7" width="8.8" height="169.40000000000003" fill="#0000ff"/>
<rect x="495.2" y="379.1" width="8.8" height="168.69999999999993" fill="#ffffff"/>
<rect x="495.2" y="40.7" width="8.8" height="507.09999999999997" fill="none" stroke="#000" stroke-width="1"/>
<line x1="504.0" y1="40.7" x2="506.6" y2="40.7" stroke="#000" stroke-width="1"/>
<text x="507.6" y="48.7" font-size="19.6">Conv</text>
<line x1="504.0" y1="209.7" x2="506.6" y2="209.7" stroke="#000" stroke-width="1"/>
<text x="507.6" y="218.7" font-size="19.6">Strat</text>
<line x1="504.0" y1="379.1" x2="506.6" y2="379.1" stroke="#000" stroke-width="1"/>
<text x="507.6" y="388.1" font-size="19.6">N/A</text>
</g><g transform="translate(1181,1181)">
<g clip-path="url(#mapclip)">

<path d="M404.4,200.0h2.0v3.1h-2.0zM390.8,224.3h2.0v2.6h-2.0zM407.5,237.8h2.3v2.0h-2.3zM401.5,239.5h2.3v2.0h-2.3zM414.9,233.9h2.4v2.6h-2.4zM419.0,235.0h2.6v2.6h-2.6zM423.0,227.4h2.3v2.3h-2.3zM449.5,247.4h2.6v2.6h-2.6zM451.8,247.4h2.6v2.6h-2.6zM451.8,243.5h2.2v2.6h-2.2zM452.9,240.1h2.4v2.3h-2.4zM457.1,240.1h2.4v2.3h-2.4zM394.5,265.5h2.3v2.3h-2.3zM404.5,267.7h2.2v2.6h-2.2zM405.5,264.3h2.3v2.3h-2.3zM419.2,264.9h2.2v2.3h-2.2zM421.1,264.9h2.2v2.3h-2.2zM419.2,266.9h2.2v2.3h-2.2zM435.1,271.1h2.8v2.3h-2.8zM435.1,273.1h2.8v2.3h-2.8zM437.1,264.9h2.6v2.4h-2.6zM434.8,267.0h2.6v2.4h-2.6zM437.1,267.0h2.6v2.4h-2.6zM381.6,241.8h2.2v2.2h-2.2zM377.8,245.5h2.2v2.2h-2.2zM409.4,227.6h2.0v2.0h-2.0zM439.9,255.3h2.2v2.6h-2.2zM443.7,255.3h2.2v2.6h-2.2zM443.7,257.6h2.2v2.6h-2.2zM449.7,255.7h2.4v2.2h-2.4zM451.8,218.0h2.0v2.0h-2.0zM462.4,153.7h2.1v2.3h-2.1zM464.2,155.8h2.1v2.3h-2.1zM483.2,150.9h2.8v2.7h-2.8zM477.5,169.0h2.7v2.5h-2.7zM475.1,171.2h2.7v2.5h-2.7zM466.4,177.6h2.2v2.2h-2.2zM476.2,177.6h2.2v2.2h-2.2zM466.4,179.5h2.2v2.2h-2.2zM472.3,179.5h2.2v2.2h-2.2zM476.2,181.4h2.2v2.2h-2.2zM466.4,183.3h2.2v2.2h-2.2zM460.9,193.1h2.3v2.6h-2.3zM462.9,193.1h2.3v2.6h-2.3zM475.1,153.7h2.3v2.3h-2.3zM463.4,174.6h2.1v2.3h-2.1zM465.2,174.6h2.1v2.3h-2.1zM463.4,176.6h2.1v2.3h-2.1zM473.4,176.6h2.2v2.6h-2.2zM475.3,176.6h2.2v2.6h-2.2zM467.5,181.2h2.3v2.3h-2.3zM464.4,184.2h2.3v2.1h-2.3zM461.9,189.3h2.8v2.8h-2.8zM451.7,217.8h1.8v1.4h-1.8zM460.3,158.8h1.8v1.8h-1.8zM307.7,280.1h2.3v2.1h-2.3zM306.4,281.4h2.1v3.0h-2.1zM303.7,288.2h2.4v1.9h-2.4zM301.9,291.4h2.1v2.1h-2.1zM299.2,295.0h2.1v2.6h-2.1zM299.2,297.2h2.1v2.6h-2.1zM299.4,301.8h1.9v2.1h-1.9zM299.4,303.6h1.9v2.1h-1.9zM300.5,312.8h1.9v2.3h-1.9zM302.1,312.8h1.9v2.3h-1.9zM228.0,293.0h2.3v2.6h-2.3zM225.5,300.7h2.3v2.4h-2.3zM257.1,368.1h2.0v2.0h-2.0zM251.5,304.8h3.1v2.0h-3.1zM245.3,321.8h2.0v2.0h-2.0zM365.9,301.0h2.6v2.0h-2.6zM363.6,302.7h2.6v2.0h-2.6zM414.4,288.0h2.0v2.6h-2.0zM89.3,406.9h2.3v2.0h-2.3zM91.3,411.9h3.3v2.0h-3.3zM116.8,407.9h2.8v2.8h-2.8z" fill="#d4d4d4"/><path d="M392.5,224.3h2.0v2.6h-2.0zM405.5,239.5h2.3v2.0h-2.3zM404.4,236.1h2.6v2.0h-2.6zM404.4,237.8h2.6v2.0h-2.6zM406.6,237.8h2.6v2.0h-2.6zM417.0,233.9h2.4v2.6h-2.4zM419.0,232.7h2.6v2.6h-2.6zM416.8,235.0h2.6v2.6h-2.6zM420.2,229.3h2.8v2.3h-2.8zM420.2,231.3h2.8v2.3h-2.8zM425.0,225.4h2.3v2.3h-2.3zM425.0,227.4h2.3v2.3h-2.3zM451.8,249.7h2.6v2.6h-2.6zM453.7,243.5h2.2v2.6h-2.2zM451.8,245.7h2.2v2.6h-2.2zM453.7,245.7h2.2v2.6h-2.2zM455.0,240.1h2.4v2.3h-2.4zM452.9,242.0h2.4v2.3h-2.4zM455.0,242.0h2.4v2.3h-2.4zM392.5,265.5h2.3v2.3h-2.3zM394.5,267.5h2.3v2.3h-2.3zM399.3,271.1h2.0v2.6h-2.0zM397.6,273.4h2.0v2.6h-2.0zM406.4,267.7h2.2v2.6h-2.2zM406.4,270.0h2.2v2.6h-2.2zM414.1,270.0h2.7v2.0h-2.7zM416.6,270.0h2.7v2.0h-2.7zM434.8,269.1h2.6v2.4h-2.6zM377.8,241.8h2.2v2.2h-2.2zM379.7,243.6h2.2v2.2h-2.2zM374.4,241.2h2.0v2.6h-2.0zM397.6,228.2h2.0v2.6h-2.0zM439.9,253.1h2.2v2.6h-2.2zM441.8,255.3h2.2v2.6h-2.2zM445.6,253.8h2.4v2.2h-2.4zM445.6,255.7h2.4v2.2h-2.4zM459.1,211.8h2.0v2.0h-2.0zM455.2,198.8h2.6v1.4h-2.6zM420.2,229.9h2.6v2.0h-2.6zM436.5,270.0h2.0v2.0h-2.0zM453.5,241.8h2.0v1.4h-2.0zM475.1,169.0h2.7v2.5h-2.7zM479.8,169.0h2.7v2.5h-2.7zM472.3,177.6h2.2v2.2h-2.2zM474.2,177.6h2.2v2.2h-2.2zM470.3,181.4h2.2v2.2h-2.2zM460.9,190.8h2.3v2.6h-2.3zM462.9,190.8h2.3v2.6h-2.3zM471.0,177.6h2.8v1.8h-2.8zM483.0,149.7h2.6v2.6h-2.6zM456.3,183.7h2.3v1.8h-2.3zM460.9,185.8h2.3v2.3h-2.3zM464.4,186.0h2.3v2.1h-2.3zM455.3,198.5h2.3v1.8h-2.3zM463.4,157.3h1.8v1.8h-1.8zM309.8,278.3h2.3v2.1h-2.3zM307.9,289.8h2.4v1.9h-2.4zM303.7,291.4h2.1v2.1h-2.1zM304.6,293.2h2.1v2.6h-2.1zM301.0,295.0h2.1v2.6h-2.1zM302.8,295.0h2.1v2.6h-2.1zM298.7,298.6h2.1v2.6h-2.1zM297.8,301.8h1.9v2.1h-1.9zM300.5,310.8h1.9v2.3h-1.9zM296.5,319.8h2.1v2.1h-2.1zM225.5,298.6h2.3v2.4h-2.3zM225.5,302.8h2.3v2.4h-2.3zM235.7,374.8h2.0v2.0h-2.0zM254.8,370.9h2.0v2.6h-2.0zM237.9,310.5h2.0v2.0h-2.0zM373.8,279.0h2.0v2.3h-2.0zM363.6,301.0h2.6v2.0h-2.6zM365.9,302.7h2.6v2.0h-2.6zM424.0,284.7h2.6v1.4h-2.6zM412.8,293.1h2.6v2.6h-2.6zM87.3,408.6h2.3v2.0h-2.3zM89.3,408.6h2.3v2.0h-2.3z" fill="#a8a8a8"/><path d="M392.5,226.5h2.0v2.6h-2.0zM401.5,237.8h2.3v2.0h-2.3zM403.5,237.8h2.3v2.0h-2.3zM403.5,239.5h2.3v2.0h-2.3zM406.6,236.1h2.6v2.0h-2.6zM412.8,233.9h2.4v2.6h-2.4zM414.9,236.1h2.4v2.6h-2.4zM417.0,236.1h2.4v2.6h-2.4zM416.8,232.7h2.6v2.6h-2.6zM421.3,235.0h2.6v2.6h-2.6zM422.7,229.3h2.8v2.3h-2.8zM422.7,231.3h2.8v2.3h-2.8zM442.2,257.0h2.0v2.3h-2.0zM442.2,259.0h2.0v2.3h-2.0zM442.8,250.8h2.6v2.3h-2.6zM445.0,250.8h2.6v2.3h-2.6zM442.8,252.8h2.6v2.3h-2.6zM449.5,249.7h2.6v2.6h-2.6zM457.1,242.0h2.4v2.3h-2.4zM399.3,273.4h2.0v2.6h-2.0zM402.7,267.7h2.2v2.6h-2.2zM404.5,270.0h2.2v2.6h-2.2zM405.5,266.3h2.3v2.3h-2.3zM407.5,266.3h2.3v2.3h-2.3zM411.7,268.3h2.7v2.0h-2.7zM414.1,268.3h2.7v2.0h-2.7zM411.7,270.0h2.7v2.0h-2.7zM417.3,264.9h2.2v2.3h-2.2zM379.7,241.8h2.2v2.2h-2.2zM377.8,243.6h2.2v2.2h-2.2zM379.7,245.5h2.2v2.2h-2.2zM381.6,245.5h2.2v2.2h-2.2zM381.8,221.4h2.0v2.0h-2.0zM402.1,216.4h2.0v2.6h-2.0zM441.8,253.1h2.2v2.6h-2.2zM439.9,257.6h2.2v2.6h-2.2zM441.8,257.6h2.2v2.6h-2.2zM445.6,251.9h2.4v2.2h-2.4zM449.7,253.8h2.4v2.2h-2.4zM447.6,255.7h2.4v2.2h-2.4zM415.7,263.2h2.0v2.6h-2.0zM417.3,263.2h2.0v2.6h-2.0zM454.0,209.0h2.6v2.6h-2.6zM461.4,203.4h2.6v2.0h-2.6zM402.1,271.7h2.0v2.0h-2.0zM464.2,153.7h2.1v2.3h-2.1zM462.4,155.8h2.1v2.3h-2.1zM483.2,148.5h2.8v2.7h-2.8zM479.8,173.3h2.7v2.5h-2.7zM468.4,177.6h2.2v2.2h-2.2zM468.4,179.5h2.2v2.2h-2.2zM474.2,179.5h2.2v2.2h-2.2zM466.4,181.4h2.2v2.2h-2.2zM468.4,183.3h2.2v2.2h-2.2zM474.2,183.3h2.2v2.2h-2.2zM476.2,183.3h2.2v2.2h-2.2zM464.9,193.1h2.3v2.6h-2.3zM477.1,157.8h3.3v2.3h-3.3zM481.7,162.9h2.8v2.3h-2.8zM481.7,164.9h2.8v2.3h-2.8zM463.4,172.5h2.1v2.3h-2.1zM465.4,179.2h2.3v2.3h-2.3zM459.8,192.9h2.3v2.3h-2.3zM461.9,203.5h1.8v1.8h-1.8zM458.8,211.7h2.3v2.3h-2.3zM308.2,268.8h2.1v3.0h-2.1zM310.0,268.8h2.1v3.0h-2.1zM309.8,280.1h2.3v2.1h-2.3zM308.2,281.4h2.1v3.0h-2.1zM303.7,281.0h2.1v2.1h-2.1zM308.2,283.2h2.1v1.7h-2.1zM307.7,286.0h3.0v3.0h-3.0zM307.9,288.2h2.4v1.9h-2.4zM303.7,289.8h2.4v1.9h-2.4zM305.8,289.8h2.4v1.9h-2.4zM301.9,293.2h2.1v2.1h-2.1zM301.0,297.2h2.1v2.6h-2.1zM297.8,303.6h1.9v2.1h-1.9zM294.6,305.8h2.6v2.1h-2.6zM302.1,310.8h1.9v2.3h-1.9zM226.1,293.0h2.3v2.6h-2.3zM226.1,295.2h2.3v2.6h-2.3zM228.0,295.2h2.3v2.6h-2.3zM227.5,298.6h2.3v2.4h-2.3zM243.6,373.1h2.0v2.0h-2.0zM205.7,309.3h2.0v2.0h-2.0zM240.2,304.8h2.0v2.0h-2.0zM375.5,279.0h2.0v2.3h-2.0zM373.8,281.0h2.0v2.3h-2.0zM375.5,281.0h2.0v2.3h-2.0zM412.8,288.0h2.0v2.6h-2.0zM413.9,292.6h2.6v2.6h-2.6zM422.4,288.0h2.6v2.0h-2.6zM51.9,456.9h2.8v2.8h-2.8zM364.9,210.8h3.3v2.3h-3.3z" fill="#bcbcbc"/><path d="M477.5,171.2h2.7v2.5h-2.7zM475.1,173.3h2.7v2.5h-2.7zM475.1,175.5h2.7v2.5h-2.7zM470.3,177.6h2.2v2.2h-2.2zM480.7,149.7h2.6v2.6h-2.6zM479.1,164.9h2.8v2.3h-2.8zM465.2,176.6h2.1v2.3h-2.1zM471.5,178.9h2.2v2.6h-2.2zM465.4,181.2h2.3v2.3h-2.3z" fill="#77cc77"/><circle cx="139.1" cy="381.7" r="1.1" fill="#ff7700"/><circle cx="53.1" cy="458.1" r="1.0" fill="#ff4400"/><circle cx="358.4" cy="273.6" r="0.9" fill="#cc0000"/><circle cx="398.7" cy="274.6" r="0.9" fill="#cc0000"/>
</g>
<line x1="36.50" y1="40.95" x2="36.50" y2="549.0" stroke="#000" stroke-width="1.15" stroke-dasharray="2.8 5.48" fill="none"/>
<line x1="115.50" y1="40.95" x2="115.50" y2="549.0" stroke="#000" stroke-width="1.15" stroke-dasharray="2.8 5.48" fill="none"/>
<line x1="194.50" y1="40.95" x2="194.50" y2="549.0" stroke="#000" stroke-width="1.15" stroke-dasharray="2.8 5.48" fill="none"/>
<line x1="272.50" y1="40.95" x2="272.50" y2="549.0" stroke="#000" stroke-width="1.15" stroke-dasharray="2.8 5.48" fill="none"/>
<line x1="351.50" y1="40.95" x2="351.50" y2="549.0" stroke="#000" stroke-width="1.15" stroke-dasharray="2.8 5.48" fill="none"/>
<line x1="430.50" y1="40.95" x2="430.50" y2="549.0" stroke="#000" stroke-width="1.15" stroke-dasharray="2.8 5.48" fill="none"/>
<line x1="12.8" y1="96.50" x2="486.0" y2="96.50" stroke="#000" stroke-width="1.15" stroke-dasharray="2.8 5.46" fill="none"/>
<line x1="12.8" y1="181.50" x2="486.0" y2="181.50" stroke="#000" stroke-width="1.15" stroke-dasharray="2.8 5.46" fill="none"/>
<line x1="12.8" y1="265.50" x2="486.0" y2="265.50" stroke="#000" stroke-width="1.15" stroke-dasharray="2.8 5.46" fill="none"/>
<line x1="12.8" y1="350.50" x2="486.0" y2="350.50" stroke="#000" stroke-width="1.15" stroke-dasharray="2.8 5.46" fill="none"/>
<line x1="12.8" y1="434.50" x2="486.0" y2="434.50" stroke="#000" stroke-width="1.15" stroke-dasharray="2.8 5.46" fill="none"/>
<line x1="12.8" y1="519.50" x2="486.0" y2="519.50" stroke="#000" stroke-width="1.15" stroke-dasharray="2.8 5.46" fill="none"/>
<polyline points="13.0,396.4 18.9,393.7 24.8,391.0 30.7,388.2 36.6,385.5 42.5,382.7 48.4,379.9 54.3,377.2 60.2,374.4 66.1,371.5 72.0,368.7 77.9,365.9 83.8,363.1 89.7,360.2 95.6,357.3 101.5,354.5 107.4,351.6 113.3,348.7 119.2,345.7 125.1,342.8 131.0,339.9 136.9,336.9 142.8,334.0 148.7,331.0 154.6,328.0 160.5,325.0 166.4,322.0 172.3,319.0 178.2,316.0 184.1,313.0 190.0,309.9 195.9,306.8 201.8,303.8 207.7,300.7 213.6,297.6 219.5,294.5 225.4,291.4 231.3,288.2 237.2,285.1 243.1,282.0 248.9,278.8 254.8,275.6 260.7,272.4 266.6,269.2 272.5,266.0 278.4,262.8 284.3,259.6 290.2,256.3 296.1,253.1 302.0,249.8 307.9,246.5 313.8,243.2 319.7,239.9 325.6,236.6 331.5,233.3 337.4,230.0 343.3,226.6 349.2,223.3 355.1,219.9 361.0,216.5 366.9,213.1 372.8,209.7 378.7,206.3 384.6,202.9 390.5,199.4 396.4,196.0 402.3,192.5 408.2,189.1 414.1,185.6 420.0,182.1 425.9,178.6 431.8,175.1 437.7,171.5 443.6,168.0 449.5,164.4 455.4,160.9 461.3,157.3 467.2,153.7 473.1,150.1 479.0,146.5" stroke="#000" stroke-width="1.1" fill="none" stroke-dasharray="12 11.45"/>
<polyline points="13.0,501.5 18.9,498.8 24.9,496.1 30.8,493.3 36.7,490.6 42.7,487.9 48.6,485.1 54.6,482.4 60.5,479.6 66.4,476.8 72.4,474.0 78.3,471.2 84.2,468.4 90.2,465.6 96.1,462.7 102.1,459.9 108.0,457.0 113.9,454.1 119.9,451.3 125.8,448.4 131.7,445.5 137.7,442.5 143.6,439.6 149.5,436.7 155.5,433.7 161.4,430.8 167.4,427.8 173.3,424.8 179.2,421.8 185.2,418.8 191.1,415.8 197.0,412.8 203.0,409.8 208.9,406.7 214.8,403.7 220.8,400.6 226.7,397.5 232.7,394.4 238.6,391.3 244.5,388.2 250.5,385.1 256.4,382.0 262.3,378.8 268.3,375.7 274.2,372.5 280.2,369.3 286.1,366.2 292.0,363.0 298.0,359.8 303.9,356.5 309.8,353.3 315.8,350.1 321.7,346.8 327.6,343.6 333.6,340.3 339.5,337.0 345.5,333.7 351.4,330.4 357.3,327.1 363.3,323.8 369.2,320.4 375.1,317.1 381.1,313.7 387.0,310.3 392.9,307.0 398.9,303.6 404.8,300.2 410.8,296.8 416.7,293.3 422.6,289.9 428.6,286.4 434.5,283.0 440.4,279.5 446.4,276.0 452.3,272.5 458.3,269.0 464.2,265.5 470.1,262.0 476.1,258.5 482.0,254.9" stroke="#000" stroke-width="1.1" fill="none" stroke-dasharray="12 11.45"/>
<text x="36.6" y="286.7" font-size="12.2" text-anchor="middle">76</text>
<text x="115.4" y="286.7" font-size="12.2" text-anchor="middle">78</text>
<text x="194.1" y="286.7" font-size="12.2" text-anchor="middle">80</text>
<text x="272.9" y="286.7" font-size="12.2" text-anchor="middle">82</text>
<text x="351.6" y="286.7" font-size="12.2" text-anchor="middle">84</text>
<text x="430.4" y="286.7" font-size="12.2" text-anchor="middle">86</text>
<text x="253.4" y="97.1" font-size="12.2" text-anchor="middle">-18</text>
<text x="253.4" y="181.6" font-size="12.2" text-anchor="middle">-20</text>
<text x="253.4" y="266.1" font-size="12.2" text-anchor="middle">-22</text>
<text x="253.4" y="350.6" font-size="12.2" text-anchor="middle">-24</text>
<text x="253.4" y="435.1" font-size="12.2" text-anchor="middle">-26</text>
<text x="253.4" y="519.6" font-size="12.2" text-anchor="middle">-28</text>
<rect x="242.9" y="292.1" width="13" height="4.7" fill="#000"/><rect x="247.1" y="288.0" width="4.7" height="13" fill="#000"/>

<text x="36.5" y="66.0" font-size="25">2A23 storm height (km)</text>
<text x="456.5" y="523.0" font-size="29" text-anchor="middle">(i)</text>
<rect x="495.2" y="531.48" width="8.8" height="8.76" fill="#f6f6f6"/>
<rect x="495.2" y="523.01" width="8.8" height="8.76" fill="#eeeeee"/>
<rect x="495.2" y="514.55" width="8.8" height="8.76" fill="#e6e6e6"/>
<rect x="495.2" y="506.09" width="8.8" height="8.76" fill="#dedede"/>
<rect x="495.2" y="497.63" width="8.8" height="8.76" fill="#d6d6d6"/>
<rect x="495.2" y="489.17" width="8.8" height="8.76" fill="#cecece"/>
<rect x="495.2" y="480.70" width="8.8" height="8.76" fill="#c6c6c6"/>
<rect x="495.2" y="472.24" width="8.8" height="8.76" fill="#bebebe"/>
<rect x="495.2" y="463.78" width="8.8" height="8.76" fill="#b6b6b6"/>
<rect x="495.2" y="455.32" width="8.8" height="8.76" fill="#aeaeae"/>
<rect x="495.2" y="446.86" width="8.8" height="8.76" fill="#a6a6a6"/>
<rect x="495.2" y="438.39" width="8.8" height="8.76" fill="#9e9e9e"/>
<rect x="495.2" y="429.93" width="8.8" height="8.76" fill="#969696"/>
<rect x="495.2" y="421.47" width="8.8" height="8.76" fill="#8e8e8e"/>
<rect x="495.2" y="413.01" width="8.8" height="8.76" fill="#88dd88"/>
<rect x="495.2" y="404.55" width="8.8" height="8.76" fill="#7ad27a"/>
<rect x="495.2" y="396.08" width="8.8" height="8.76" fill="#6fca6f"/>
<rect x="495.2" y="387.62" width="8.8" height="8.76" fill="#66c066"/>
<rect x="495.2" y="379.16" width="8.8" height="8.76" fill="#62b662"/>
<rect x="495.2" y="370.70" width="8.8" height="8.76" fill="#ccd4ff"/>
<rect x="495.2" y="362.24" width="8.8" height="8.76" fill="#b4c8ff"/>
<rect x="495.2" y="353.77" width="8.8" height="8.76" fill="#9cc0ff"/>
<rect x="495.2" y="345.31" width="8.8" height="8.76" fill="#84b8ff"/>
<rect x="495.2" y="336.85" width="8.8" height="8.76" fill="#6cb2ff"/>
<rect x="495.2" y="328.39" width="8.8" height="8.76" fill="#55aaff"/>
<rect x="495.2" y="319.93" width="8.8" height="8.76" fill="#4a98ff"/>
<rect x="495.2" y="311.46" width="8.8" height="8.76" fill="#4080ff"/>
<rect x="495.2" y="303.00" width="8.8" height="8.76" fill="#3a6cff"/>
<rect x="495.2" y="294.54" width="8.8" height="8.76" fill="#3355ff"/>
<rect x="495.2" y="286.08" width="8.8" height="8.76" fill="#2a3cff"/>
<rect x="495.2" y="277.62" width="8.8" height="8.76" fill="#1a1aff"/>
<rect x="495.2" y="269.15" width="8.8" height="8.76" fill="#0000ff"/>
<rect x="495.2" y="260.69" width="8.8" height="8.76" fill="#0000e0"/>
<rect x="495.2" y="252.23" width="8.8" height="8.76" fill="#0000c4"/>
<rect x="495.2" y="243.77" width="8.8" height="8.76" fill="#ffff00"/>
<rect x="495.2" y="235.31" width="8.8" height="8.76" fill="#ffee00"/>
<rect x="495.2" y="226.84" width="8.8" height="8.76" fill="#ffe000"/>
<rect x="495.2" y="218.38" width="8.8" height="8.76" fill="#ffd400"/>
<rect x="495.2" y="209.92" width="8.8" height="8.76" fill="#ffc800"/>
<rect x="495.2" y="201.46" width="8.8" height="8.76" fill="#ff8a00"/>
<rect x="495.2" y="193.00" width="8.8" height="8.76" fill="#ff8000"/>
<rect x="495.2" y="184.53" width="8.8" height="8.76" fill="#ff7800"/>
<rect x="495.2" y="176.07" width="8.8" height="8.76" fill="#ff7000"/>
<rect x="495.2" y="167.61" width="8.8" height="8.76" fill="#ff6800"/>
<rect x="495.2" y="159.15" width="8.8" height="8.76" fill="#ff3a00"/>
<rect x="495.2" y="150.69" width="8.8" height="8.76" fill="#ff3000"/>
<rect x="495.2" y="142.22" width="8.8" height="8.76" fill="#ff2400"/>
<rect x="495.2" y="133.76" width="8.8" height="8.76" fill="#ff1800"/>
<rect x="495.2" y="125.30" width="8.8" height="8.76" fill="#ff1000"/>
<rect x="495.2" y="116.84" width="8.8" height="8.76" fill="#c80000"/>
<rect x="495.2" y="108.38" width="8.8" height="8.76" fill="#c00000"/>
<rect x="495.2" y="99.91" width="8.8" height="8.76" fill="#b00000"/>
<rect x="495.2" y="91.45" width="8.8" height="8.76" fill="#a40000"/>
<rect x="495.2" y="82.99" width="8.8" height="8.76" fill="#980800"/>
<rect x="495.2" y="74.53" width="8.8" height="8.76" fill="#620c08"/>
<rect x="495.2" y="66.07" width="8.8" height="8.76" fill="#5e1210"/>
<rect x="495.2" y="57.60" width="8.8" height="8.76" fill="#5c1612"/>
<rect x="495.2" y="49.14" width="8.8" height="8.76" fill="#5a1816"/>
<rect x="495.2" y="40.68" width="8.8" height="8.76" fill="#5a1a18"/>
<line x1="504.0" y1="91.5" x2="506.6" y2="91.5" stroke="#000" stroke-width="1"/>
<text x="533.0" y="99.8" font-size="19.6" text-anchor="middle">18.0</text>
<line x1="504.0" y1="142.2" x2="506.6" y2="142.2" stroke="#000" stroke-width="1"/>
<text x="533.0" y="150.5" font-size="19.6" text-anchor="middle">16.0</text>
<line x1="504.0" y1="193.0" x2="506.6" y2="193.0" stroke="#000" stroke-width="1"/>
<text x="533.0" y="201.3" font-size="19.6" text-anchor="middle">14.0</text>
<line x1="504.0" y1="243.8" x2="506.6" y2="243.8" stroke="#000" stroke-width="1"/>
<text x="533.0" y="252.1" font-size="19.6" text-anchor="middle">12.0</text>
<line x1="504.0" y1="294.5" x2="506.6" y2="294.5" stroke="#000" stroke-width="1"/>
<text x="533.0" y="302.8" font-size="19.6" text-anchor="middle">10.0</text>
<line x1="504.0" y1="345.3" x2="506.6" y2="345.3" stroke="#000" stroke-width="1"/>
<text x="533.0" y="353.6" font-size="19.6" text-anchor="middle">8.0</text>
<line x1="504.0" y1="396.1" x2="506.6" y2="396.1" stroke="#000" stroke-width="1"/>
<text x="533.0" y="404.4" font-size="19.6" text-anchor="middle">6.0</text>
<line x1="504.0" y1="446.9" x2="506.6" y2="446.9" stroke="#000" stroke-width="1"/>
<text x="533.0" y="455.2" font-size="19.6" text-anchor="middle">4.0</text>
<line x1="504.0" y1="497.6" x2="506.6" y2="497.6" stroke="#000" stroke-width="1"/>
<text x="533.0" y="505.9" font-size="19.6" text-anchor="middle">2.0</text>
<line x1="504.0" y1="548.4" x2="506.6" y2="548.4" stroke="#000" stroke-width="1"/>
<text x="533.0" y="556.7" font-size="19.6" text-anchor="middle">0.0</text>
</g>
</svg>
</body></html>
